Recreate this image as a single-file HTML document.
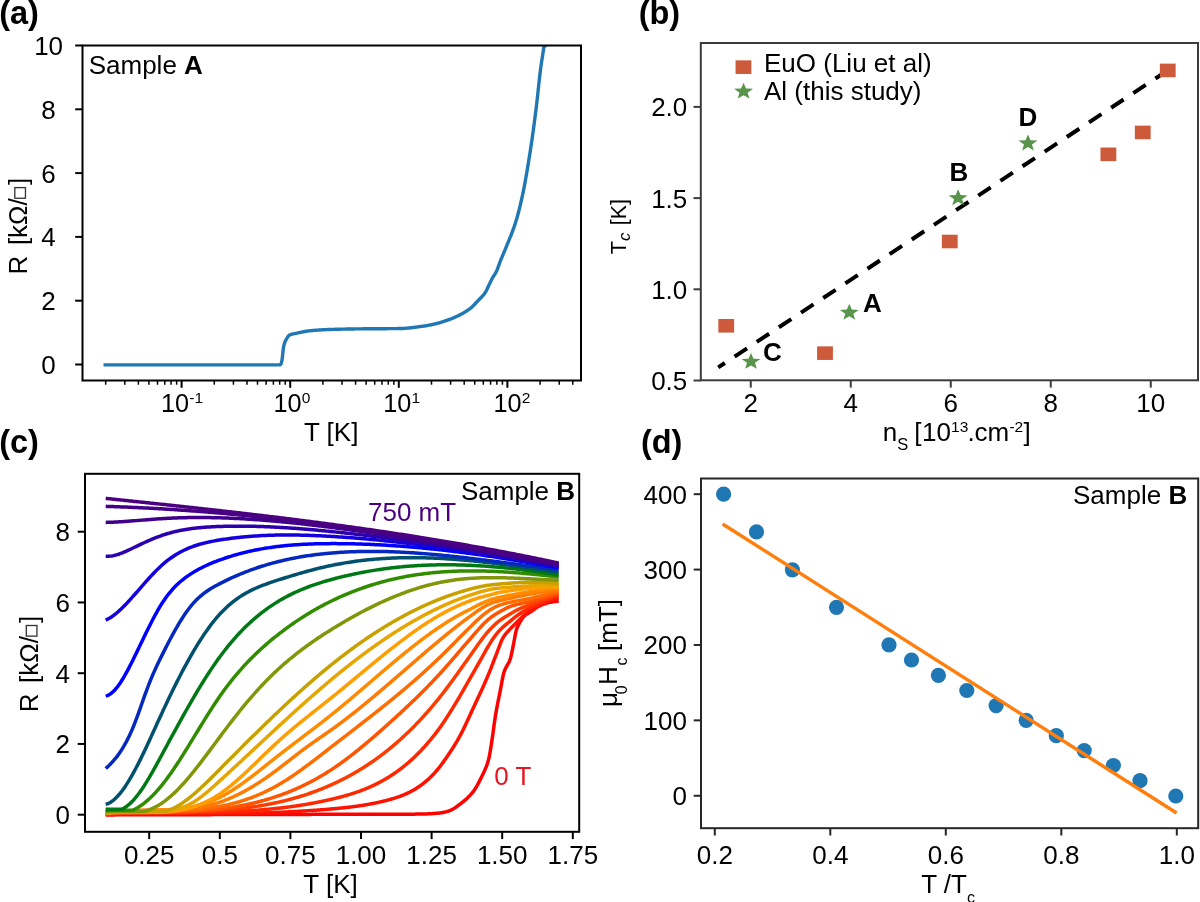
<!DOCTYPE html>
<html><head><meta charset="utf-8"><title>Figure</title>
<style>html,body{margin:0;padding:0;background:#fff;}svg{display:block;will-change:transform;}text{font-family:"Liberation Sans",sans-serif}</style>
</head><body>
<svg width="1200" height="902" viewBox="0 0 1200 902" style="font-family:&quot;Liberation Sans&quot;,sans-serif">
<rect width="1200" height="902" fill="#fff"/>
<clipPath id="ca"><rect x="82.5" y="45.5" width="498.5" height="335.0"/></clipPath>
<path d="M103.52,364.90 L104.26,364.90 L105.00,364.90 L105.74,364.90 L106.48,364.90 L107.22,364.90 L107.96,364.90 L108.70,364.90 L109.44,364.90 L110.18,364.90 L110.92,364.90 L111.66,364.90 L112.40,364.90 L113.14,364.90 L113.88,364.90 L114.62,364.90 L115.36,364.90 L116.10,364.90 L116.84,364.90 L117.58,364.90 L118.32,364.90 L119.06,364.90 L119.80,364.90 L120.54,364.90 L121.28,364.90 L122.02,364.90 L122.76,364.90 L123.50,364.90 L124.24,364.90 L124.98,364.90 L125.72,364.90 L126.46,364.90 L127.20,364.90 L127.93,364.90 L128.67,364.90 L129.41,364.90 L130.15,364.90 L130.89,364.90 L131.63,364.90 L132.37,364.90 L133.11,364.90 L133.85,364.90 L134.59,364.90 L135.33,364.90 L136.07,364.90 L136.81,364.90 L137.55,364.90 L138.29,364.90 L139.03,364.90 L139.77,364.90 L140.51,364.90 L141.25,364.90 L141.99,364.90 L142.73,364.90 L143.47,364.90 L144.21,364.90 L144.95,364.90 L145.69,364.90 L146.43,364.90 L147.17,364.90 L147.91,364.90 L148.65,364.90 L149.39,364.90 L150.13,364.90 L150.87,364.90 L151.61,364.90 L152.35,364.90 L153.09,364.90 L153.83,364.90 L154.57,364.90 L155.31,364.90 L156.05,364.90 L156.79,364.90 L157.53,364.90 L158.27,364.90 L159.01,364.90 L159.75,364.90 L160.49,364.90 L161.23,364.90 L161.97,364.90 L162.71,364.90 L163.45,364.90 L164.19,364.90 L164.93,364.90 L165.67,364.90 L166.41,364.90 L167.15,364.90 L167.89,364.90 L168.63,364.90 L169.37,364.90 L170.11,364.90 L170.85,364.90 L171.59,364.90 L172.33,364.90 L173.07,364.90 L173.80,364.90 L174.54,364.90 L175.28,364.90 L176.02,364.90 L176.76,364.90 L177.50,364.90 L178.24,364.90 L178.98,364.90 L179.72,364.90 L180.46,364.90 L181.20,364.90 L181.94,364.90 L182.68,364.90 L183.42,364.90 L184.16,364.90 L184.90,364.90 L185.64,364.90 L186.38,364.90 L187.12,364.90 L187.86,364.90 L188.60,364.90 L189.34,364.90 L190.08,364.90 L190.82,364.90 L191.56,364.90 L192.30,364.90 L193.04,364.90 L193.78,364.90 L194.52,364.90 L195.26,364.90 L196.00,364.90 L196.74,364.90 L197.48,364.90 L198.22,364.90 L198.96,364.90 L199.70,364.90 L200.44,364.90 L201.18,364.90 L201.92,364.90 L202.66,364.90 L203.40,364.90 L204.14,364.90 L204.88,364.90 L205.62,364.90 L206.36,364.90 L207.10,364.90 L207.84,364.90 L208.58,364.90 L209.32,364.90 L210.06,364.90 L210.80,364.90 L211.54,364.90 L212.28,364.90 L213.02,364.90 L213.76,364.90 L214.50,364.90 L215.24,364.90 L215.98,364.90 L216.72,364.90 L217.46,364.90 L218.20,364.90 L218.94,364.90 L219.67,364.90 L220.41,364.90 L221.15,364.90 L221.89,364.90 L222.63,364.90 L223.37,364.90 L224.11,364.90 L224.85,364.90 L225.59,364.90 L226.33,364.90 L227.07,364.90 L227.81,364.90 L228.55,364.90 L229.29,364.90 L230.03,364.90 L230.77,364.90 L231.51,364.90 L232.25,364.90 L232.99,364.90 L233.73,364.90 L234.47,364.90 L235.21,364.90 L235.95,364.90 L236.69,364.90 L237.43,364.90 L238.17,364.90 L238.91,364.90 L239.65,364.90 L240.39,364.90 L241.13,364.90 L241.87,364.90 L242.61,364.90 L243.35,364.90 L244.09,364.90 L244.83,364.90 L245.57,364.90 L246.31,364.90 L247.05,364.90 L247.79,364.90 L248.53,364.90 L249.27,364.90 L250.01,364.90 L250.75,364.90 L251.49,364.90 L252.23,364.90 L252.97,364.90 L253.71,364.90 L254.45,364.90 L255.19,364.90 L255.93,364.90 L256.67,364.90 L257.41,364.90 L258.15,364.90 L258.89,364.90 L259.63,364.90 L260.37,364.90 L261.11,364.90 L261.85,364.90 L262.59,364.90 L263.33,364.90 L264.07,364.90 L264.81,364.90 L265.54,364.90 L266.28,364.90 L267.02,364.90 L267.76,364.90 L268.50,364.90 L269.24,364.90 L269.98,364.90 L270.72,364.90 L271.46,364.90 L272.20,364.90 L272.94,364.90 L273.68,364.90 L274.42,364.90 L275.16,364.90 L275.90,364.90 L276.64,364.90 L277.38,364.90 L278.12,364.90 L278.86,364.90 L279.60,364.90 L280.34,364.67 L281.08,363.87 L281.82,361.16 L282.56,355.85 L283.30,348.53 L284.04,344.77 L284.78,342.48 L285.52,340.79 L286.26,339.38 L287.00,338.06 L287.74,336.89 L288.48,335.93 L289.22,335.22 L289.96,334.81 L290.70,334.54 L291.44,334.32 L292.18,334.15 L292.92,333.99 L293.66,333.85 L294.40,333.70 L295.14,333.54 L295.88,333.37 L296.62,333.21 L297.36,333.04 L298.10,332.87 L298.84,332.71 L299.58,332.55 L300.32,332.38 L301.06,332.23 L301.80,332.07 L302.54,331.92 L303.28,331.78 L304.02,331.64 L304.76,331.50 L305.50,331.37 L306.24,331.25 L306.98,331.14 L307.72,331.03 L308.46,330.93 L309.20,330.85 L309.94,330.77 L310.68,330.70 L311.41,330.63 L312.15,330.56 L312.89,330.49 L313.63,330.43 L314.37,330.36 L315.11,330.30 L315.85,330.24 L316.59,330.19 L317.33,330.13 L318.07,330.08 L318.81,330.03 L319.55,329.98 L320.29,329.93 L321.03,329.88 L321.77,329.84 L322.51,329.80 L323.25,329.76 L323.99,329.72 L324.73,329.68 L325.47,329.65 L326.21,329.62 L326.95,329.58 L327.69,329.56 L328.43,329.53 L329.17,329.50 L329.91,329.48 L330.65,329.45 L331.39,329.43 L332.13,329.41 L332.87,329.39 L333.61,329.36 L334.35,329.34 L335.09,329.32 L335.83,329.30 L336.57,329.28 L337.31,329.26 L338.05,329.24 L338.79,329.22 L339.53,329.21 L340.27,329.19 L341.01,329.17 L341.75,329.16 L342.49,329.14 L343.23,329.12 L343.97,329.11 L344.71,329.09 L345.45,329.08 L346.19,329.06 L346.93,329.05 L347.67,329.04 L348.41,329.02 L349.15,329.01 L349.89,329.00 L350.63,328.98 L351.37,328.97 L352.11,328.96 L352.85,328.95 L353.59,328.94 L354.33,328.93 L355.07,328.92 L355.81,328.91 L356.55,328.90 L357.28,328.89 L358.02,328.88 L358.76,328.87 L359.50,328.86 L360.24,328.85 L360.98,328.84 L361.72,328.83 L362.46,328.83 L363.20,328.82 L363.94,328.81 L364.68,328.81 L365.42,328.80 L366.16,328.79 L366.90,328.79 L367.64,328.78 L368.38,328.78 L369.12,328.77 L369.86,328.77 L370.60,328.76 L371.34,328.76 L372.08,328.76 L372.82,328.75 L373.56,328.75 L374.30,328.74 L375.04,328.74 L375.78,328.74 L376.52,328.73 L377.26,328.73 L378.00,328.73 L378.74,328.72 L379.48,328.72 L380.22,328.72 L380.96,328.71 L381.70,328.71 L382.44,328.70 L383.18,328.70 L383.92,328.70 L384.66,328.69 L385.40,328.69 L386.14,328.68 L386.88,328.68 L387.62,328.67 L388.36,328.67 L389.10,328.66 L389.84,328.66 L390.58,328.65 L391.32,328.64 L392.06,328.64 L392.80,328.63 L393.54,328.62 L394.28,328.61 L395.02,328.61 L395.76,328.60 L396.50,328.59 L397.24,328.58 L397.98,328.57 L398.72,328.56 L399.46,328.55 L400.20,328.53 L400.94,328.52 L401.68,328.50 L402.42,328.47 L403.15,328.43 L403.89,328.39 L404.63,328.34 L405.37,328.29 L406.11,328.23 L406.85,328.17 L407.59,328.10 L408.33,328.03 L409.07,327.96 L409.81,327.88 L410.55,327.80 L411.29,327.72 L412.03,327.63 L412.77,327.54 L413.51,327.45 L414.25,327.36 L414.99,327.26 L415.73,327.17 L416.47,327.07 L417.21,326.98 L417.95,326.88 L418.69,326.79 L419.43,326.69 L420.17,326.60 L420.91,326.50 L421.65,326.40 L422.39,326.29 L423.13,326.18 L423.87,326.07 L424.61,325.95 L425.35,325.83 L426.09,325.71 L426.83,325.58 L427.57,325.45 L428.31,325.31 L429.05,325.18 L429.79,325.03 L430.53,324.89 L431.27,324.74 L432.01,324.58 L432.75,324.43 L433.49,324.27 L434.23,324.11 L434.97,323.94 L435.71,323.76 L436.45,323.58 L437.19,323.39 L437.93,323.19 L438.67,322.99 L439.41,322.78 L440.15,322.57 L440.89,322.35 L441.63,322.12 L442.37,321.89 L443.11,321.65 L443.85,321.41 L444.59,321.17 L445.33,320.92 L446.07,320.66 L446.81,320.41 L447.55,320.15 L448.29,319.88 L449.02,319.62 L449.76,319.35 L450.50,319.07 L451.24,318.78 L451.98,318.49 L452.72,318.18 L453.46,317.87 L454.20,317.56 L454.94,317.23 L455.68,316.90 L456.42,316.56 L457.16,316.21 L457.90,315.86 L458.64,315.49 L459.38,315.12 L460.12,314.74 L460.86,314.35 L461.60,313.96 L462.34,313.55 L463.08,313.14 L463.82,312.71 L464.56,312.28 L465.30,311.82 L466.04,311.36 L466.78,310.88 L467.52,310.39 L468.26,309.88 L469.00,309.35 L469.74,308.80 L470.48,308.24 L471.22,307.64 L471.96,306.99 L472.70,306.30 L473.44,305.58 L474.18,304.82 L474.92,304.05 L475.66,303.26 L476.40,302.45 L477.14,301.64 L477.88,300.84 L478.62,300.04 L479.36,299.25 L480.10,298.50 L480.84,297.76 L481.58,297.03 L482.32,296.26 L483.06,295.46 L483.80,294.58 L484.54,293.62 L485.28,292.53 L486.02,291.23 L486.76,289.75 L487.50,288.17 L488.24,286.56 L488.98,284.99 L489.72,283.47 L490.46,281.92 L491.20,280.38 L491.94,278.92 L492.68,277.60 L493.42,276.41 L494.16,275.28 L494.89,274.13 L495.63,272.89 L496.37,271.49 L497.11,269.82 L497.85,267.91 L498.59,265.85 L499.33,263.77 L500.07,261.77 L500.81,259.91 L501.55,258.11 L502.29,256.35 L503.03,254.60 L503.77,252.87 L504.51,251.13 L505.25,249.36 L505.99,247.56 L506.73,245.72 L507.47,243.89 L508.21,242.08 L508.95,240.28 L509.69,238.47 L510.43,236.64 L511.17,234.79 L511.91,232.89 L512.65,230.93 L513.39,228.91 L514.13,226.82 L514.87,224.63 L515.61,222.35 L516.35,219.94 L517.09,217.41 L517.83,214.76 L518.57,211.98 L519.31,209.08 L520.05,206.07 L520.79,202.94 L521.53,199.71 L522.27,196.37 L523.01,192.88 L523.75,189.22 L524.49,185.38 L525.23,181.39 L525.97,177.26 L526.71,173.00 L527.45,168.62 L528.19,164.15 L528.93,159.59 L529.67,154.95 L530.41,150.19 L531.15,145.28 L531.89,140.22 L532.63,135.01 L533.37,129.67 L534.11,124.18 L534.85,118.56 L535.59,112.81 L536.33,106.87 L537.07,100.42 L537.81,93.61 L538.55,86.69 L539.29,79.90 L540.03,73.47 L540.76,67.66 L541.50,62.58 L542.24,57.87 L542.98,53.11 L543.72,47.89 L544.46,45.50 L545.20,45.50 L545.94,45.50 L546.68,45.50" fill="none" stroke="#1f77b4" stroke-width="3.4" stroke-linejoin="round" stroke-linecap="butt" clip-path="url(#ca)"/>
<rect x="82.50" y="45.50" width="498.50" height="335.00" fill="none" stroke="#000" stroke-width="2.0"/>
<line x1="75.20" y1="364.50" x2="82.50" y2="364.50" stroke="#000" stroke-width="2.0" />
<text x="48.60" y="373.90" font-size="26" text-anchor="middle" >0</text>
<line x1="75.20" y1="300.70" x2="82.50" y2="300.70" stroke="#000" stroke-width="2.0" />
<text x="48.60" y="310.10" font-size="26" text-anchor="middle" >2</text>
<line x1="75.20" y1="236.90" x2="82.50" y2="236.90" stroke="#000" stroke-width="2.0" />
<text x="48.60" y="246.30" font-size="26" text-anchor="middle" >4</text>
<line x1="75.20" y1="173.10" x2="82.50" y2="173.10" stroke="#000" stroke-width="2.0" />
<text x="48.60" y="182.50" font-size="26" text-anchor="middle" >6</text>
<line x1="75.20" y1="109.30" x2="82.50" y2="109.30" stroke="#000" stroke-width="2.0" />
<text x="48.60" y="118.70" font-size="26" text-anchor="middle" >8</text>
<line x1="75.20" y1="45.50" x2="82.50" y2="45.50" stroke="#000" stroke-width="2.0" />
<text x="48.60" y="54.90" font-size="26" text-anchor="middle" >10</text>
<line x1="181.60" y1="380.50" x2="181.60" y2="387.80" stroke="#000" stroke-width="2.0" />
<line x1="290.20" y1="380.50" x2="290.20" y2="387.80" stroke="#000" stroke-width="2.0" />
<line x1="398.80" y1="380.50" x2="398.80" y2="387.80" stroke="#000" stroke-width="2.0" />
<line x1="507.40" y1="380.50" x2="507.40" y2="387.80" stroke="#000" stroke-width="2.0" />
<line x1="105.69" y1="380.50" x2="105.69" y2="384.70" stroke="#000" stroke-width="1.5" />
<line x1="124.82" y1="380.50" x2="124.82" y2="384.70" stroke="#000" stroke-width="1.5" />
<line x1="138.38" y1="380.50" x2="138.38" y2="384.70" stroke="#000" stroke-width="1.5" />
<line x1="148.91" y1="380.50" x2="148.91" y2="384.70" stroke="#000" stroke-width="1.5" />
<line x1="157.51" y1="380.50" x2="157.51" y2="384.70" stroke="#000" stroke-width="1.5" />
<line x1="164.78" y1="380.50" x2="164.78" y2="384.70" stroke="#000" stroke-width="1.5" />
<line x1="171.08" y1="380.50" x2="171.08" y2="384.70" stroke="#000" stroke-width="1.5" />
<line x1="176.63" y1="380.50" x2="176.63" y2="384.70" stroke="#000" stroke-width="1.5" />
<line x1="214.29" y1="380.50" x2="214.29" y2="384.70" stroke="#000" stroke-width="1.5" />
<line x1="233.42" y1="380.50" x2="233.42" y2="384.70" stroke="#000" stroke-width="1.5" />
<line x1="246.98" y1="380.50" x2="246.98" y2="384.70" stroke="#000" stroke-width="1.5" />
<line x1="257.51" y1="380.50" x2="257.51" y2="384.70" stroke="#000" stroke-width="1.5" />
<line x1="266.11" y1="380.50" x2="266.11" y2="384.70" stroke="#000" stroke-width="1.5" />
<line x1="273.38" y1="380.50" x2="273.38" y2="384.70" stroke="#000" stroke-width="1.5" />
<line x1="279.68" y1="380.50" x2="279.68" y2="384.70" stroke="#000" stroke-width="1.5" />
<line x1="285.23" y1="380.50" x2="285.23" y2="384.70" stroke="#000" stroke-width="1.5" />
<line x1="322.89" y1="380.50" x2="322.89" y2="384.70" stroke="#000" stroke-width="1.5" />
<line x1="342.02" y1="380.50" x2="342.02" y2="384.70" stroke="#000" stroke-width="1.5" />
<line x1="355.58" y1="380.50" x2="355.58" y2="384.70" stroke="#000" stroke-width="1.5" />
<line x1="366.11" y1="380.50" x2="366.11" y2="384.70" stroke="#000" stroke-width="1.5" />
<line x1="374.71" y1="380.50" x2="374.71" y2="384.70" stroke="#000" stroke-width="1.5" />
<line x1="381.98" y1="380.50" x2="381.98" y2="384.70" stroke="#000" stroke-width="1.5" />
<line x1="388.28" y1="380.50" x2="388.28" y2="384.70" stroke="#000" stroke-width="1.5" />
<line x1="393.83" y1="380.50" x2="393.83" y2="384.70" stroke="#000" stroke-width="1.5" />
<line x1="431.49" y1="380.50" x2="431.49" y2="384.70" stroke="#000" stroke-width="1.5" />
<line x1="450.62" y1="380.50" x2="450.62" y2="384.70" stroke="#000" stroke-width="1.5" />
<line x1="464.18" y1="380.50" x2="464.18" y2="384.70" stroke="#000" stroke-width="1.5" />
<line x1="474.71" y1="380.50" x2="474.71" y2="384.70" stroke="#000" stroke-width="1.5" />
<line x1="483.31" y1="380.50" x2="483.31" y2="384.70" stroke="#000" stroke-width="1.5" />
<line x1="490.58" y1="380.50" x2="490.58" y2="384.70" stroke="#000" stroke-width="1.5" />
<line x1="496.88" y1="380.50" x2="496.88" y2="384.70" stroke="#000" stroke-width="1.5" />
<line x1="502.43" y1="380.50" x2="502.43" y2="384.70" stroke="#000" stroke-width="1.5" />
<line x1="540.09" y1="380.50" x2="540.09" y2="384.70" stroke="#000" stroke-width="1.5" />
<line x1="559.22" y1="380.50" x2="559.22" y2="384.70" stroke="#000" stroke-width="1.5" />
<line x1="572.78" y1="380.50" x2="572.78" y2="384.70" stroke="#000" stroke-width="1.5" />
<text x="161.06" y="411.6" font-size="26" textLength="28.08" lengthAdjust="spacingAndGlyphs">10</text>
<text x="189.30" y="403.00" font-size="15.5" >-1</text>
<text x="273.46" y="411.6" font-size="26" textLength="28.08" lengthAdjust="spacingAndGlyphs">10</text>
<text x="301.63" y="403.00" font-size="15.5" >0</text>
<text x="383.26" y="411.6" font-size="26" textLength="28.08" lengthAdjust="spacingAndGlyphs">10</text>
<text x="411.51" y="403.00" font-size="15.5" >1</text>
<text x="493.46" y="411.6" font-size="26" textLength="28.08" lengthAdjust="spacingAndGlyphs">10</text>
<text x="521.80" y="403.00" font-size="15.5" >2</text>
<text x="331.20" y="440.80" font-size="26" text-anchor="middle" >T [K]</text>
<text x="88.70" y="74.20" font-size="26" >Sample <tspan font-weight="bold">A</tspan></text>
<text x="-0.80" y="24.20" font-size="32.5" font-weight="bold" >(a)</text>
<text x="0" y="0" font-size="26" transform="translate(26.60,274.40) rotate(-90)" >R</text>
<text x="0" y="0" font-size="26" transform="translate(26.60,245.10) rotate(-90)" >[kΩ/</text>
<rect x="14.80" y="187.60" width="10.65" height="10.65" fill="none" stroke="#333" stroke-width="1.3"/>
<text x="0" y="0" font-size="26" transform="translate(26.60,185.00) rotate(-90)" >]</text>
<rect x="700.80" y="43.00" width="497.20" height="337.30" fill="none" stroke="#3c3c3c" stroke-width="2.0"/>
<line x1="750.75" y1="380.30" x2="750.75" y2="387.60" stroke="#3c3c3c" stroke-width="2.0" />
<text x="750.75" y="411.70" font-size="26" text-anchor="middle" >2</text>
<line x1="850.75" y1="380.30" x2="850.75" y2="387.60" stroke="#3c3c3c" stroke-width="2.0" />
<text x="850.75" y="411.70" font-size="26" text-anchor="middle" >4</text>
<line x1="950.75" y1="380.30" x2="950.75" y2="387.60" stroke="#3c3c3c" stroke-width="2.0" />
<text x="950.75" y="411.70" font-size="26" text-anchor="middle" >6</text>
<line x1="1050.75" y1="380.30" x2="1050.75" y2="387.60" stroke="#3c3c3c" stroke-width="2.0" />
<text x="1050.75" y="411.70" font-size="26" text-anchor="middle" >8</text>
<line x1="1150.75" y1="380.30" x2="1150.75" y2="387.60" stroke="#3c3c3c" stroke-width="2.0" />
<text x="1150.75" y="411.70" font-size="26" text-anchor="middle" >10</text>
<line x1="693.50" y1="380.50" x2="700.80" y2="380.50" stroke="#3c3c3c" stroke-width="2.0" />
<text x="687.30" y="389.90" font-size="26" text-anchor="end" >0.5</text>
<line x1="693.50" y1="289.30" x2="700.80" y2="289.30" stroke="#3c3c3c" stroke-width="2.0" />
<text x="687.30" y="298.70" font-size="26" text-anchor="end" >1.0</text>
<line x1="693.50" y1="198.10" x2="700.80" y2="198.10" stroke="#3c3c3c" stroke-width="2.0" />
<text x="687.30" y="207.50" font-size="26" text-anchor="end" >1.5</text>
<line x1="693.50" y1="106.90" x2="700.80" y2="106.90" stroke="#3c3c3c" stroke-width="2.0" />
<text x="687.30" y="116.30" font-size="26" text-anchor="end" >2.0</text>
<line x1="718.20" y1="367.40" x2="1167.80" y2="70.30" stroke="#000" stroke-width="4.0" stroke-dasharray="14.9 11.65" stroke-dashoffset="6.9"/>
<rect x="718.35" y="318.99" width="15.80" height="13.59" fill="#cd5a3a"/>
<rect x="817.10" y="346.35" width="15.80" height="13.59" fill="#cd5a3a"/>
<rect x="941.85" y="234.72" width="15.80" height="13.59" fill="#cd5a3a"/>
<rect x="1100.50" y="147.53" width="15.80" height="13.59" fill="#cd5a3a"/>
<rect x="1134.85" y="125.64" width="15.80" height="13.59" fill="#cd5a3a"/>
<rect x="1159.85" y="63.63" width="15.80" height="13.59" fill="#cd5a3a"/>
<path d="M751.00,352.90 L753.47,358.71 L760.51,358.98 L754.99,362.84 L756.88,368.82 L751.00,365.40 L745.12,368.82 L747.01,362.84 L741.49,358.98 L748.53,358.71 Z" fill="#589449"/>
<path d="M849.30,303.80 L851.77,309.61 L858.81,309.88 L853.29,313.74 L855.18,319.72 L849.30,316.30 L843.42,319.72 L845.31,313.74 L839.79,309.88 L846.83,309.61 Z" fill="#589449"/>
<path d="M958.10,189.30 L960.57,195.11 L967.61,195.38 L962.09,199.24 L963.98,205.22 L958.10,201.80 L952.22,205.22 L954.11,199.24 L948.59,195.38 L955.63,195.11 Z" fill="#589449"/>
<path d="M1027.96,134.50 L1030.43,140.31 L1037.47,140.58 L1031.95,144.44 L1033.84,150.42 L1027.96,147.00 L1022.08,150.42 L1023.97,144.44 L1018.45,140.58 L1025.49,140.31 Z" fill="#589449"/>
<text x="763.00" y="361.30" font-size="26" font-weight="bold" >C</text>
<text x="862.90" y="311.60" font-size="26" font-weight="bold" >A</text>
<text x="959.00" y="181.30" font-size="26" text-anchor="middle" font-weight="bold" >B</text>
<text x="1028.00" y="125.60" font-size="26" text-anchor="middle" font-weight="bold" >D</text>
<rect x="735.55" y="60.36" width="15.80" height="13.59" fill="#cd5a3a"/>
<path d="M743.55,82.70 L746.02,88.51 L753.06,88.78 L747.54,92.64 L749.43,98.62 L743.55,95.20 L737.67,98.62 L739.56,92.64 L734.04,88.78 L741.08,88.51 Z" fill="#589449"/>
<text x="764.00" y="72.30" font-size="26" >EuO (Liu et al)</text>
<text x="764.00" y="100.40" font-size="26" >Al (this study)</text>
<text x="882.80" y="440.90" font-size="26" >n</text>
<text x="897.20" y="450.00" font-size="16.5" >S</text>
<text x="914.30" y="440.90" font-size="26" >[</text>
<text x="922.10" y="440.90" font-size="26" >10</text>
<text x="951.10" y="432.40" font-size="15.5" >13</text>
<text x="967.40" y="440.90" font-size="26" >.cm</text>
<text x="1009.40" y="432.40" font-size="15.5" >-2</text>
<text x="1023.40" y="440.90" font-size="26" >]</text>
<g transform="translate(626.0,255.0) rotate(-90)"><text x="0.8" y="0" font-size="21.5">T</text><text x="14.0" y="3.8" font-size="17" font-style="italic">c</text><text x="29.7" y="0" font-size="21.5">[K]</text></g>
<text x="638.70" y="24.20" font-size="32.5" font-weight="bold" >(b)</text>
<clipPath id="cc"><rect x="85.0" y="473.8" width="494.2" height="358.0"/></clipPath>
<g clip-path="url(#cc)">
<path d="M105.70,814.90 L107.26,814.90 L107.99,814.89 L108.84,814.89 L109.76,814.89 L110.72,814.89 L111.71,814.88 L112.71,814.88 L113.70,814.88 L114.71,814.88 L115.71,814.87 L116.71,814.87 L117.71,814.87 L118.71,814.87 L119.71,814.86 L120.71,814.86 L121.71,814.86 L122.71,814.86 L123.71,814.85 L124.71,814.85 L125.71,814.85 L126.71,814.85 L127.71,814.84 L128.71,814.84 L129.71,814.84 L130.71,814.83 L131.71,814.83 L132.72,814.83 L133.72,814.83 L134.72,814.82 L135.72,814.82 L136.72,814.82 L137.72,814.82 L138.72,814.81 L139.72,814.81 L140.72,814.81 L141.72,814.81 L142.72,814.80 L143.72,814.80 L144.72,814.80 L145.72,814.80 L146.72,814.79 L147.72,814.79 L148.72,814.79 L149.72,814.79 L150.73,814.78 L151.73,814.78 L152.73,814.78 L153.73,814.77 L154.73,814.77 L155.73,814.77 L156.73,814.77 L157.73,814.76 L158.73,814.76 L159.73,814.76 L160.73,814.76 L161.73,814.75 L162.73,814.75 L163.73,814.75 L164.73,814.75 L165.73,814.74 L166.73,814.74 L167.73,814.74 L168.74,814.74 L169.74,814.73 L170.74,814.73 L171.74,814.73 L172.74,814.73 L173.74,814.72 L174.74,814.72 L175.74,814.72 L176.74,814.72 L177.74,814.71 L178.74,814.71 L179.74,814.71 L180.74,814.70 L181.74,814.70 L182.74,814.70 L183.74,814.70 L184.74,814.69 L185.74,814.69 L186.75,814.69 L187.75,814.69 L188.75,814.68 L189.75,814.68 L190.75,814.68 L191.75,814.68 L192.75,814.67 L193.75,814.67 L194.75,814.67 L195.75,814.67 L196.75,814.66 L197.75,814.66 L198.75,814.66 L199.75,814.66 L200.75,814.65 L201.75,814.65 L202.75,814.65 L203.75,814.65 L204.76,814.64 L205.76,814.64 L206.76,814.64 L207.76,814.64 L208.76,814.63 L209.76,814.63 L210.76,814.63 L211.76,814.63 L212.76,814.62 L213.76,814.62 L214.76,814.62 L215.76,814.61 L216.76,814.61 L217.76,814.61 L218.76,814.61 L219.76,814.60 L220.76,814.60 L221.77,814.60 L222.77,814.60 L223.77,814.59 L224.77,814.59 L225.77,814.59 L226.77,814.59 L227.77,814.58 L228.77,814.58 L229.77,814.58 L230.77,814.58 L231.77,814.57 L232.77,814.57 L233.77,814.57 L234.77,814.57 L235.77,814.56 L236.77,814.56 L237.77,814.56 L238.77,814.56 L239.78,814.55 L240.78,814.55 L241.78,814.55 L242.78,814.55 L243.78,814.54 L244.78,814.54 L245.78,814.54 L246.78,814.54 L247.78,814.53 L248.78,814.53 L249.78,814.53 L250.78,814.53 L251.78,814.52 L252.78,814.52 L253.78,814.52 L254.78,814.51 L255.78,814.51 L256.78,814.51 L257.79,814.51 L258.79,814.50 L259.79,814.50 L260.79,814.50 L261.79,814.50 L262.79,814.49 L263.79,814.49 L264.79,814.49 L265.79,814.49 L266.79,814.48 L267.79,814.48 L268.79,814.48 L269.79,814.48 L270.79,814.47 L271.79,814.47 L272.79,814.47 L273.79,814.47 L274.79,814.46 L275.80,814.46 L276.80,814.46 L277.80,814.46 L278.80,814.45 L279.80,814.45 L280.80,814.45 L281.80,814.45 L282.80,814.44 L283.80,814.44 L284.80,814.44 L285.80,814.44 L286.80,814.43 L287.80,814.43 L288.80,814.43 L289.80,814.43 L290.80,814.42 L291.80,814.42 L292.80,814.42 L293.81,814.42 L294.81,814.41 L295.81,814.41 L296.81,814.41 L297.81,814.41 L298.81,814.40 L299.81,814.40 L300.81,814.40 L301.81,814.40 L302.81,814.39 L303.81,814.39 L304.81,814.39 L305.81,814.39 L306.81,814.38 L307.81,814.38 L308.81,814.38 L309.81,814.38 L310.81,814.38 L311.82,814.37 L312.82,814.37 L313.82,814.37 L314.82,814.37 L315.82,814.37 L316.82,814.36 L317.82,814.36 L318.82,814.36 L319.82,814.36 L320.82,814.36 L321.82,814.36 L322.82,814.36 L323.82,814.35 L324.82,814.35 L325.82,814.35 L326.82,814.35 L327.82,814.35 L328.83,814.35 L329.83,814.35 L330.83,814.34 L331.83,814.34 L332.83,814.34 L333.83,814.34 L334.83,814.34 L335.83,814.34 L336.83,814.34 L337.83,814.33 L338.83,814.33 L339.83,814.33 L340.83,814.33 L341.83,814.33 L342.83,814.33 L343.83,814.33 L344.83,814.33 L345.83,814.32 L346.84,814.32 L347.84,814.32 L348.84,814.32 L349.84,814.32 L350.84,814.32 L351.84,814.32 L352.84,814.31 L353.84,814.31 L354.84,814.31 L355.84,814.31 L356.84,814.31 L357.84,814.31 L358.84,814.31 L359.84,814.30 L360.84,814.30 L361.84,814.30 L362.84,814.30 L363.84,814.30 L364.85,814.30 L365.85,814.29 L366.85,814.29 L367.85,814.29 L368.85,814.29 L369.85,814.29 L370.85,814.28 L371.85,814.28 L372.85,814.28 L373.85,814.28 L374.85,814.28 L375.85,814.27 L376.85,814.27 L377.85,814.27 L378.85,814.27 L379.85,814.26 L380.85,814.26 L381.85,814.26 L382.86,814.26 L383.86,814.25 L384.86,814.25 L385.86,814.25 L386.86,814.25 L387.86,814.24 L388.86,814.24 L389.86,814.24 L390.86,814.23 L391.86,814.23 L392.86,814.23 L393.86,814.22 L394.86,814.22 L395.86,814.22 L396.86,814.21 L397.86,814.21 L398.86,814.20 L399.86,814.20 L400.87,814.20 L401.87,814.19 L402.87,814.19 L403.87,814.18 L404.87,814.18 L405.87,814.17 L406.87,814.17 L407.87,814.17 L408.87,814.16 L409.87,814.16 L410.87,814.15 L411.87,814.15 L412.87,814.14 L413.87,814.13 L414.87,814.13 L415.87,814.12 L416.87,814.12 L417.87,814.11 L418.88,814.10 L419.88,814.09 L420.88,814.08 L421.88,814.06 L422.88,814.04 L423.88,814.02 L424.88,813.99 L425.88,813.95 L426.88,813.91 L427.88,813.87 L428.88,813.82 L429.87,813.77 L430.87,813.71 L431.87,813.65 L432.87,813.58 L433.87,813.51 L434.87,813.43 L435.86,813.35 L436.86,813.27 L437.86,813.18 L438.85,813.08 L439.84,812.97 L440.84,812.84 L441.82,812.69 L442.81,812.52 L443.79,812.33 L444.76,812.12 L445.73,811.88 L446.70,811.62 L447.65,811.33 L448.60,811.02 L449.54,810.67 L450.46,810.30 L451.36,809.88 L452.25,809.43 L453.12,808.95 L453.98,808.44 L454.82,807.90 L455.65,807.35 L456.47,806.78 L457.28,806.19 L458.09,805.60 L458.89,805.00 L459.68,804.39 L460.48,803.78 L461.27,803.17 L462.05,802.55 L462.84,801.93 L463.61,801.30 L464.38,800.66 L465.15,800.01 L465.90,799.36 L466.65,798.69 L467.38,798.01 L468.10,797.32 L468.81,796.62 L469.51,795.90 L470.20,795.18 L470.87,794.44 L471.53,793.68 L472.17,792.92 L472.79,792.14 L473.40,791.35 L473.99,790.54 L474.56,789.72 L475.11,788.88 L475.65,788.04 L476.17,787.19 L476.67,786.32 L477.17,785.46 L477.65,784.58 L478.13,783.70 L478.60,782.82 L479.06,781.93 L479.51,781.04 L479.96,780.14 L480.41,779.25 L480.85,778.35 L481.29,777.45 L481.73,776.56 L482.17,775.66 L482.61,774.76 L483.05,773.86 L483.48,772.96 L483.91,772.05 L484.34,771.15 L484.75,770.24 L485.16,769.32 L485.55,768.40 L485.93,767.48 L486.30,766.55 L486.65,765.61 L486.99,764.67 L487.32,763.73 L487.63,762.78 L487.92,761.82 L488.20,760.86 L488.47,759.90 L488.71,758.93 L488.95,757.96 L489.16,756.98 L489.37,756.00 L489.56,755.02 L489.74,754.04 L489.92,753.05 L490.09,752.07 L490.26,751.08 L490.42,750.09 L490.58,749.11 L490.74,748.12 L490.89,747.13 L491.05,746.14 L491.20,745.15 L491.35,744.16 L491.51,743.17 L491.66,742.19 L491.81,741.20 L491.96,740.21 L492.11,739.22 L492.26,738.23 L492.41,737.24 L492.55,736.25 L492.69,735.26 L492.83,734.27 L492.97,733.28 L493.11,732.29 L493.24,731.29 L493.38,730.30 L493.51,729.31 L493.64,728.32 L493.78,727.33 L493.91,726.34 L494.04,725.34 L494.18,724.35 L494.31,723.36 L494.45,722.37 L494.59,721.38 L494.73,720.39 L494.88,719.40 L495.02,718.41 L495.18,717.42 L495.33,716.43 L495.49,715.44 L495.65,714.46 L495.82,713.47 L495.99,712.48 L496.16,711.50 L496.34,710.51 L496.52,709.53 L496.70,708.55 L496.89,707.56 L497.07,706.58 L497.26,705.60 L497.45,704.62 L497.65,703.63 L497.84,702.65 L498.04,701.67 L498.24,700.69 L498.44,699.71 L498.64,698.73 L498.83,697.75 L499.03,696.77 L499.23,695.79 L499.43,694.81 L499.63,693.83 L499.82,692.85 L500.02,691.86 L500.21,690.88 L500.40,689.90 L500.58,688.92 L500.76,687.93 L500.94,686.95 L501.12,685.96 L501.30,684.98 L501.48,683.99 L501.66,683.01 L501.84,682.03 L502.02,681.04 L502.21,680.06 L502.40,679.08 L502.59,678.10 L502.80,677.12 L503.01,676.14 L503.23,675.16 L503.47,674.19 L503.72,673.23 L504.01,672.27 L504.32,671.32 L504.66,670.39 L505.04,669.47 L505.46,668.57 L505.91,667.68 L506.39,666.80 L506.88,665.94 L507.39,665.07 L507.88,664.21 L508.36,663.33 L508.82,662.45 L509.24,661.54 L509.62,660.63 L509.98,659.69 L510.29,658.75 L510.58,657.79 L510.84,656.83 L511.09,655.86 L511.32,654.89 L511.54,653.91 L511.75,652.94 L511.95,651.96 L512.15,650.98 L512.35,650.00 L512.55,649.01 L512.74,648.03 L512.94,647.05 L513.14,646.07 L513.33,645.09 L513.53,644.11 L513.72,643.13 L513.91,642.14 L514.09,641.16 L514.27,640.18 L514.45,639.19 L514.63,638.21 L514.81,637.22 L514.99,636.24 L515.17,635.26 L515.36,634.27 L515.56,633.29 L515.77,632.32 L516.00,631.34 L516.25,630.38 L516.54,629.43 L516.86,628.48 L517.21,627.55 L517.60,626.64 L518.02,625.73 L518.47,624.84 L518.94,623.96 L519.43,623.08 L519.92,622.21 L520.42,621.35 L520.93,620.49 L521.45,619.64 L521.99,618.80 L522.56,617.99 L523.17,617.21 L523.82,616.48 L524.53,615.80 L525.29,615.18 L526.09,614.61 L526.92,614.07 L527.78,613.56 L528.64,613.06 L529.49,612.55 L530.34,612.02 L531.17,611.48 L532.00,610.91 L532.81,610.32 L533.61,609.73 L534.41,609.13 L535.21,608.53 L536.02,607.94 L536.84,607.37 L537.67,606.83 L538.52,606.32 L539.40,605.85 L540.29,605.42 L541.21,605.02 L542.14,604.66 L543.08,604.32 L544.02,604.01 L544.98,603.71 L545.93,603.42 L546.90,603.15 L547.86,602.88 L548.83,602.64 L549.80,602.40 L550.78,602.19 L551.76,601.99 L552.73,601.82 L553.71,601.66 L554.66,601.53 L555.58,601.43 L556.42,601.35 L557.14,601.29 L558.70,601.25" fill="none" stroke="rgb(255,0,0)" stroke-width="3.5" stroke-linejoin="round" stroke-linecap="butt" />
<path d="M105.70,814.01 L106.46,814.00 L107.21,814.00 L107.97,813.99 L108.73,813.98 L109.48,813.98 L110.24,813.97 L110.99,813.96 L111.75,813.96 L112.51,813.95 L113.26,813.94 L114.02,813.94 L114.78,813.93 L115.53,813.93 L116.29,813.92 L117.04,813.92 L117.80,813.91 L118.56,813.91 L119.31,813.90 L120.07,813.90 L120.83,813.89 L121.58,813.89 L122.34,813.89 L123.09,813.88 L123.85,813.88 L124.61,813.88 L125.36,813.87 L126.12,813.87 L126.88,813.87 L127.63,813.86 L128.39,813.86 L129.14,813.86 L129.90,813.86 L130.66,813.85 L131.41,813.85 L132.17,813.85 L132.93,813.85 L133.68,813.85 L134.44,813.84 L135.19,813.84 L135.95,813.84 L136.71,813.84 L137.46,813.84 L138.22,813.84 L138.98,813.84 L139.73,813.83 L140.49,813.83 L141.24,813.83 L142.00,813.83 L142.76,813.83 L143.51,813.83 L144.27,813.83 L145.03,813.83 L145.78,813.83 L146.54,813.83 L147.29,813.83 L148.05,813.83 L148.81,813.83 L149.56,813.83 L150.32,813.83 L151.08,813.83 L151.83,813.83 L152.59,813.83 L153.34,813.83 L154.10,813.83 L154.86,813.83 L155.61,813.83 L156.37,813.83 L157.13,813.83 L157.88,813.83 L158.64,813.83 L159.39,813.83 L160.15,813.83 L160.91,813.83 L161.66,813.83 L162.42,813.83 L163.18,813.83 L163.93,813.83 L164.69,813.83 L165.44,813.83 L166.20,813.83 L166.96,813.83 L167.71,813.83 L168.47,813.83 L169.23,813.83 L169.98,813.83 L170.74,813.83 L171.49,813.83 L172.25,813.83 L173.01,813.83 L173.76,813.83 L174.52,813.83 L175.28,813.83 L176.03,813.83 L176.79,813.83 L177.54,813.83 L178.30,813.83 L179.06,813.83 L179.81,813.83 L180.57,813.83 L181.33,813.83 L182.08,813.83 L182.84,813.83 L183.59,813.83 L184.35,813.83 L185.11,813.83 L185.86,813.83 L186.62,813.83 L187.38,813.83 L188.13,813.83 L188.89,813.83 L189.64,813.83 L190.40,813.83 L191.16,813.83 L191.91,813.82 L192.67,813.82 L193.43,813.82 L194.18,813.82 L194.94,813.82 L195.69,813.82 L196.45,813.81 L197.21,813.81 L197.96,813.81 L198.72,813.81 L199.48,813.80 L200.23,813.80 L200.99,813.80 L201.75,813.80 L202.50,813.79 L203.26,813.79 L204.01,813.79 L204.77,813.78 L205.53,813.78 L206.28,813.78 L207.04,813.77 L207.80,813.77 L208.55,813.76 L209.31,813.76 L210.06,813.75 L210.82,813.75 L211.58,813.74 L212.33,813.74 L213.09,813.73 L213.85,813.73 L214.60,813.72 L215.36,813.72 L216.11,813.71 L216.87,813.70 L217.63,813.70 L218.38,813.69 L219.14,813.68 L219.90,813.68 L220.65,813.67 L221.41,813.66 L222.16,813.66 L222.92,813.65 L223.68,813.64 L224.43,813.63 L225.19,813.62 L225.95,813.61 L226.70,813.61 L227.46,813.60 L228.21,813.59 L228.97,813.58 L229.73,813.57 L230.48,813.56 L231.24,813.55 L232.00,813.54 L232.75,813.53 L233.51,813.51 L234.26,813.50 L235.02,813.49 L235.78,813.48 L236.53,813.47 L237.29,813.45 L238.05,813.44 L238.80,813.43 L239.56,813.42 L240.31,813.40 L241.07,813.39 L241.83,813.38 L242.58,813.36 L243.34,813.35 L244.10,813.33 L244.85,813.32 L245.61,813.30 L246.36,813.28 L247.12,813.27 L247.88,813.25 L248.63,813.24 L249.39,813.22 L250.15,813.20 L250.90,813.18 L251.66,813.17 L252.41,813.15 L253.17,813.13 L253.93,813.11 L254.68,813.09 L255.44,813.07 L256.20,813.05 L256.95,813.03 L257.71,813.01 L258.46,812.99 L259.22,812.97 L259.98,812.95 L260.73,812.93 L261.49,812.90 L262.25,812.88 L263.00,812.86 L263.76,812.83 L264.51,812.81 L265.27,812.79 L266.03,812.76 L266.78,812.74 L267.54,812.71 L268.30,812.69 L269.05,812.66 L269.81,812.63 L270.56,812.61 L271.32,812.58 L272.08,812.55 L272.83,812.53 L273.59,812.50 L274.35,812.47 L275.10,812.44 L275.86,812.41 L276.61,812.38 L277.37,812.35 L278.13,812.32 L278.88,812.29 L279.64,812.26 L280.40,812.22 L281.15,812.19 L281.91,812.16 L282.66,812.13 L283.42,812.09 L284.18,812.06 L284.93,812.02 L285.69,811.99 L286.45,811.95 L287.20,811.92 L287.96,811.88 L288.72,811.84 L289.47,811.81 L290.23,811.77 L290.98,811.73 L291.74,811.69 L292.50,811.65 L293.25,811.61 L294.01,811.57 L294.77,811.53 L295.52,811.49 L296.28,811.45 L297.03,811.41 L297.79,811.37 L298.55,811.32 L299.30,811.28 L300.06,811.24 L300.82,811.19 L301.57,811.15 L302.33,811.10 L303.08,811.06 L303.84,811.01 L304.60,810.96 L305.35,810.92 L306.11,810.87 L306.87,810.82 L307.62,810.77 L308.38,810.72 L309.13,810.67 L309.89,810.62 L310.65,810.57 L311.40,810.52 L312.16,810.47 L312.92,810.41 L313.67,810.36 L314.43,810.31 L315.18,810.25 L315.94,810.20 L316.70,810.14 L317.45,810.09 L318.21,810.03 L318.97,809.97 L319.72,809.92 L320.48,809.86 L321.23,809.80 L321.99,809.74 L322.75,809.68 L323.50,809.62 L324.26,809.56 L325.02,809.50 L325.77,809.43 L326.53,809.37 L327.28,809.31 L328.04,809.24 L328.80,809.18 L329.55,809.11 L330.31,809.05 L331.07,808.98 L331.82,808.92 L332.58,808.85 L333.33,808.78 L334.09,808.71 L334.85,808.64 L335.60,808.57 L336.36,808.50 L337.12,808.43 L337.87,808.36 L338.63,808.28 L339.38,808.21 L340.14,808.13 L340.90,808.06 L341.65,807.98 L342.41,807.90 L343.17,807.82 L343.92,807.74 L344.68,807.66 L345.43,807.58 L346.19,807.49 L346.95,807.41 L347.70,807.32 L348.46,807.24 L349.22,807.15 L349.97,807.06 L350.73,806.96 L351.48,806.87 L352.24,806.78 L353.00,806.68 L353.75,806.58 L354.51,806.49 L355.27,806.38 L356.02,806.28 L356.78,806.18 L357.53,806.07 L358.29,805.97 L359.05,805.86 L359.80,805.75 L360.56,805.63 L361.32,805.52 L362.07,805.40 L362.83,805.28 L363.58,805.16 L364.34,805.04 L365.10,804.92 L365.85,804.79 L366.61,804.66 L367.37,804.53 L368.12,804.40 L368.88,804.26 L369.63,804.13 L370.39,803.99 L371.15,803.84 L371.90,803.70 L372.66,803.55 L373.42,803.40 L374.17,803.25 L374.93,803.10 L375.68,802.94 L376.44,802.78 L377.20,802.62 L377.95,802.46 L378.71,802.29 L379.47,802.12 L380.22,801.95 L380.98,801.77 L381.74,801.60 L382.49,801.41 L383.25,801.23 L384.00,801.04 L384.76,800.86 L385.52,800.66 L386.27,800.47 L387.03,800.27 L387.79,800.07 L388.54,799.86 L389.30,799.66 L390.05,799.45 L390.81,799.23 L391.57,799.01 L392.32,798.79 L393.08,798.57 L393.84,798.34 L394.59,798.10 L395.35,797.86 L396.10,797.62 L396.86,797.37 L397.62,797.11 L398.37,796.85 L399.13,796.59 L399.89,796.31 L400.64,796.03 L401.40,795.75 L402.15,795.45 L402.91,795.15 L403.67,794.85 L404.42,794.53 L405.18,794.21 L405.94,793.88 L406.69,793.54 L407.45,793.19 L408.20,792.83 L408.96,792.46 L409.72,792.09 L410.47,791.70 L411.23,791.30 L411.99,790.90 L412.74,790.48 L413.50,790.06 L414.25,789.62 L415.01,789.17 L415.77,788.71 L416.52,788.24 L417.28,787.75 L418.04,787.26 L418.79,786.75 L419.55,786.23 L420.30,785.70 L421.06,785.15 L421.82,784.59 L422.57,784.02 L423.33,783.43 L424.09,782.83 L424.84,782.22 L425.60,781.59 L426.35,780.94 L427.11,780.28 L427.87,779.61 L428.62,778.92 L429.38,778.21 L430.14,777.49 L430.89,776.76 L431.65,776.00 L432.40,775.23 L433.16,774.44 L433.92,773.64 L434.67,772.82 L435.43,771.98 L436.19,771.12 L436.94,770.25 L437.70,769.35 L438.45,768.44 L439.21,767.51 L439.97,766.56 L440.72,765.55 L441.48,764.53 L442.24,763.50 L442.99,762.45 L443.75,761.40 L444.50,760.33 L445.26,759.25 L446.02,758.17 L446.77,757.07 L447.53,755.96 L448.29,754.84 L449.04,753.72 L449.80,752.58 L450.55,751.44 L451.31,750.28 L452.07,749.12 L452.82,747.95 L453.58,746.76 L454.34,745.56 L455.09,744.34 L455.85,743.10 L456.60,741.84 L457.36,740.55 L458.12,739.24 L458.87,737.90 L459.63,736.52 L460.39,735.11 L461.14,733.67 L461.90,732.20 L462.65,730.71 L463.41,729.18 L464.17,727.64 L464.92,726.06 L465.68,724.47 L466.44,722.86 L467.19,721.24 L467.95,719.61 L468.71,717.96 L469.46,716.32 L470.22,714.67 L470.97,713.00 L471.73,711.35 L472.49,709.70 L473.24,708.07 L474.00,706.44 L474.76,704.83 L475.51,703.21 L476.27,701.60 L477.02,699.98 L477.78,698.36 L478.54,696.74 L479.29,695.12 L480.05,693.48 L480.81,691.84 L481.56,690.19 L482.32,688.53 L483.07,686.86 L483.83,685.17 L484.59,683.47 L485.34,681.76 L486.10,680.02 L486.86,678.26 L487.61,676.49 L488.37,674.68 L489.12,672.85 L489.88,670.97 L490.64,669.05 L491.39,667.09 L492.15,665.12 L492.91,663.13 L493.66,661.16 L494.42,659.20 L495.17,657.25 L495.93,655.30 L496.69,653.36 L497.44,651.42 L498.20,649.45 L498.96,647.44 L499.71,645.39 L500.47,643.35 L501.22,641.44 L501.98,639.74 L502.74,638.28 L503.49,636.99 L504.25,635.86 L505.01,634.83 L505.76,633.87 L506.52,632.97 L507.27,632.11 L508.03,631.27 L508.79,630.45 L509.54,629.65 L510.30,628.86 L511.06,628.08 L511.81,627.31 L512.57,626.56 L513.32,625.81 L514.08,625.06 L514.84,624.31 L515.59,623.56 L516.35,622.80 L517.11,622.03 L517.86,621.25 L518.62,620.46 L519.37,619.68 L520.13,618.90 L520.89,618.13 L521.64,617.38 L522.40,616.65 L523.16,615.96 L523.91,615.29 L524.67,614.66 L525.42,614.06 L526.18,613.49 L526.94,612.95 L527.69,612.43 L528.45,611.93 L529.21,611.44 L529.96,610.98 L530.72,610.52 L531.47,610.08 L532.23,609.64 L532.99,609.22 L533.74,608.79 L534.50,608.37 L535.26,607.96 L536.01,607.55 L536.77,607.14 L537.52,606.74 L538.28,606.34 L539.04,605.94 L539.79,605.55 L540.55,605.17 L541.31,604.79 L542.06,604.42 L542.82,604.05 L543.57,603.69 L544.33,603.33 L545.09,602.98 L545.84,602.64 L546.60,602.30 L547.36,601.97 L548.11,601.65 L548.87,601.34 L549.62,601.04 L550.38,600.74 L551.14,600.45 L551.89,600.17 L552.65,599.90 L553.41,599.63 L554.16,599.38 L554.92,599.13 L555.67,598.89 L556.43,598.66 L557.19,598.46 L557.94,598.39 L558.70,598.32" fill="none" stroke="rgb(255,18,0)" stroke-width="3.5" stroke-linejoin="round" stroke-linecap="butt" />
<path d="M105.70,813.86 L106.46,813.83 L107.21,813.80 L107.97,813.78 L108.73,813.75 L109.48,813.73 L110.24,813.70 L110.99,813.68 L111.75,813.65 L112.51,813.63 L113.26,813.61 L114.02,813.59 L114.78,813.56 L115.53,813.54 L116.29,813.52 L117.04,813.50 L117.80,813.48 L118.56,813.46 L119.31,813.44 L120.07,813.43 L120.83,813.41 L121.58,813.39 L122.34,813.37 L123.09,813.36 L123.85,813.34 L124.61,813.32 L125.36,813.31 L126.12,813.29 L126.88,813.28 L127.63,813.27 L128.39,813.25 L129.14,813.24 L129.90,813.22 L130.66,813.21 L131.41,813.20 L132.17,813.19 L132.93,813.17 L133.68,813.16 L134.44,813.15 L135.19,813.14 L135.95,813.13 L136.71,813.12 L137.46,813.11 L138.22,813.10 L138.98,813.09 L139.73,813.08 L140.49,813.07 L141.24,813.06 L142.00,813.05 L142.76,813.05 L143.51,813.04 L144.27,813.03 L145.03,813.02 L145.78,813.02 L146.54,813.01 L147.29,813.00 L148.05,812.99 L148.81,812.99 L149.56,812.98 L150.32,812.97 L151.08,812.97 L151.83,812.96 L152.59,812.96 L153.34,812.95 L154.10,812.94 L154.86,812.94 L155.61,812.93 L156.37,812.93 L157.13,812.92 L157.88,812.92 L158.64,812.91 L159.39,812.91 L160.15,812.90 L160.91,812.90 L161.66,812.89 L162.42,812.89 L163.18,812.88 L163.93,812.88 L164.69,812.87 L165.44,812.87 L166.20,812.86 L166.96,812.86 L167.71,812.85 L168.47,812.85 L169.23,812.84 L169.98,812.84 L170.74,812.83 L171.49,812.83 L172.25,812.82 L173.01,812.82 L173.76,812.81 L174.52,812.81 L175.28,812.80 L176.03,812.80 L176.79,812.79 L177.54,812.78 L178.30,812.78 L179.06,812.77 L179.81,812.77 L180.57,812.76 L181.33,812.75 L182.08,812.75 L182.84,812.74 L183.59,812.73 L184.35,812.73 L185.11,812.72 L185.86,812.71 L186.62,812.71 L187.38,812.70 L188.13,812.69 L188.89,812.68 L189.64,812.67 L190.40,812.67 L191.16,812.66 L191.91,812.65 L192.67,812.64 L193.43,812.63 L194.18,812.62 L194.94,812.61 L195.69,812.60 L196.45,812.59 L197.21,812.58 L197.96,812.57 L198.72,812.56 L199.48,812.54 L200.23,812.53 L200.99,812.52 L201.75,812.51 L202.50,812.49 L203.26,812.48 L204.01,812.47 L204.77,812.45 L205.53,812.44 L206.28,812.42 L207.04,812.41 L207.80,812.39 L208.55,812.38 L209.31,812.36 L210.06,812.34 L210.82,812.33 L211.58,812.31 L212.33,812.29 L213.09,812.27 L213.85,812.25 L214.60,812.23 L215.36,812.21 L216.11,812.19 L216.87,812.17 L217.63,812.15 L218.38,812.13 L219.14,812.11 L219.90,812.08 L220.65,812.06 L221.41,812.04 L222.16,812.01 L222.92,811.99 L223.68,811.96 L224.43,811.94 L225.19,811.91 L225.95,811.88 L226.70,811.85 L227.46,811.83 L228.21,811.80 L228.97,811.77 L229.73,811.74 L230.48,811.71 L231.24,811.68 L232.00,811.64 L232.75,811.61 L233.51,811.58 L234.26,811.55 L235.02,811.51 L235.78,811.48 L236.53,811.44 L237.29,811.40 L238.05,811.37 L238.80,811.33 L239.56,811.29 L240.31,811.25 L241.07,811.21 L241.83,811.17 L242.58,811.13 L243.34,811.09 L244.10,811.04 L244.85,811.00 L245.61,810.96 L246.36,810.91 L247.12,810.87 L247.88,810.82 L248.63,810.77 L249.39,810.72 L250.15,810.68 L250.90,810.63 L251.66,810.58 L252.41,810.52 L253.17,810.47 L253.93,810.42 L254.68,810.37 L255.44,810.31 L256.20,810.26 L256.95,810.20 L257.71,810.14 L258.46,810.08 L259.22,810.03 L259.98,809.97 L260.73,809.90 L261.49,809.84 L262.25,809.78 L263.00,809.72 L263.76,809.65 L264.51,809.59 L265.27,809.52 L266.03,809.45 L266.78,809.39 L267.54,809.32 L268.30,809.25 L269.05,809.18 L269.81,809.10 L270.56,809.03 L271.32,808.96 L272.08,808.88 L272.83,808.81 L273.59,808.73 L274.35,808.65 L275.10,808.57 L275.86,808.49 L276.61,808.41 L277.37,808.33 L278.13,808.25 L278.88,808.16 L279.64,808.08 L280.40,807.99 L281.15,807.90 L281.91,807.81 L282.66,807.72 L283.42,807.63 L284.18,807.54 L284.93,807.45 L285.69,807.35 L286.45,807.26 L287.20,807.16 L287.96,807.07 L288.72,806.97 L289.47,806.87 L290.23,806.77 L290.98,806.66 L291.74,806.56 L292.50,806.46 L293.25,806.35 L294.01,806.24 L294.77,806.13 L295.52,806.03 L296.28,805.91 L297.03,805.80 L297.79,805.69 L298.55,805.58 L299.30,805.46 L300.06,805.34 L300.82,805.22 L301.57,805.10 L302.33,804.98 L303.08,804.86 L303.84,804.74 L304.60,804.61 L305.35,804.49 L306.11,804.36 L306.87,804.23 L307.62,804.10 L308.38,803.97 L309.13,803.84 L309.89,803.70 L310.65,803.57 L311.40,803.43 L312.16,803.29 L312.92,803.15 L313.67,803.01 L314.43,802.87 L315.18,802.73 L315.94,802.58 L316.70,802.44 L317.45,802.29 L318.21,802.14 L318.97,801.99 L319.72,801.83 L320.48,801.68 L321.23,801.53 L321.99,801.37 L322.75,801.21 L323.50,801.05 L324.26,800.89 L325.02,800.73 L325.77,800.56 L326.53,800.40 L327.28,800.23 L328.04,800.06 L328.80,799.89 L329.55,799.72 L330.31,799.55 L331.07,799.37 L331.82,799.19 L332.58,799.02 L333.33,798.84 L334.09,798.65 L334.85,798.47 L335.60,798.29 L336.36,798.10 L337.12,797.91 L337.87,797.72 L338.63,797.53 L339.38,797.33 L340.14,797.14 L340.90,796.94 L341.65,796.74 L342.41,796.53 L343.17,796.33 L343.92,796.12 L344.68,795.91 L345.43,795.70 L346.19,795.48 L346.95,795.26 L347.70,795.04 L348.46,794.82 L349.22,794.59 L349.97,794.36 L350.73,794.12 L351.48,793.89 L352.24,793.65 L353.00,793.41 L353.75,793.16 L354.51,792.91 L355.27,792.66 L356.02,792.40 L356.78,792.14 L357.53,791.88 L358.29,791.61 L359.05,791.34 L359.80,791.07 L360.56,790.79 L361.32,790.51 L362.07,790.22 L362.83,789.93 L363.58,789.63 L364.34,789.34 L365.10,789.03 L365.85,788.73 L366.61,788.42 L367.37,788.10 L368.12,787.78 L368.88,787.45 L369.63,787.12 L370.39,786.79 L371.15,786.45 L371.90,786.11 L372.66,785.76 L373.42,785.41 L374.17,785.05 L374.93,784.68 L375.68,784.31 L376.44,783.94 L377.20,783.56 L377.95,783.18 L378.71,782.79 L379.47,782.39 L380.22,781.99 L380.98,781.58 L381.74,781.17 L382.49,780.76 L383.25,780.33 L384.00,779.90 L384.76,779.47 L385.52,779.03 L386.27,778.58 L387.03,778.13 L387.79,777.67 L388.54,777.20 L389.30,776.73 L390.05,776.25 L390.81,775.77 L391.57,775.28 L392.32,774.78 L393.08,774.27 L393.84,773.76 L394.59,773.25 L395.35,772.72 L396.10,772.19 L396.86,771.65 L397.62,771.11 L398.37,770.56 L399.13,770.00 L399.89,769.43 L400.64,768.86 L401.40,768.28 L402.15,767.69 L402.91,767.09 L403.67,766.49 L404.42,765.88 L405.18,765.26 L405.94,764.64 L406.69,764.00 L407.45,763.36 L408.20,762.71 L408.96,762.06 L409.72,761.39 L410.47,760.72 L411.23,760.04 L411.99,759.35 L412.74,758.65 L413.50,757.95 L414.25,757.23 L415.01,756.51 L415.77,755.78 L416.52,755.04 L417.28,754.29 L418.04,753.54 L418.79,752.77 L419.55,752.00 L420.30,751.21 L421.06,750.42 L421.82,749.62 L422.57,748.81 L423.33,747.99 L424.09,747.16 L424.84,746.32 L425.60,745.48 L426.35,744.62 L427.11,743.75 L427.87,742.88 L428.62,741.99 L429.38,741.10 L430.14,740.20 L430.89,739.28 L431.65,738.36 L432.40,737.42 L433.16,736.48 L433.92,735.53 L434.67,734.56 L435.43,733.59 L436.19,732.61 L436.94,731.61 L437.70,730.61 L438.45,729.59 L439.21,728.57 L439.97,727.53 L440.72,726.47 L441.48,725.39 L442.24,724.29 L442.99,723.19 L443.75,722.07 L444.50,720.94 L445.26,719.79 L446.02,718.64 L446.77,717.47 L447.53,716.30 L448.29,715.11 L449.04,713.92 L449.80,712.72 L450.55,711.51 L451.31,710.30 L452.07,709.08 L452.82,707.86 L453.58,706.63 L454.34,705.39 L455.09,704.15 L455.85,702.89 L456.60,701.63 L457.36,700.37 L458.12,699.09 L458.87,697.81 L459.63,696.52 L460.39,695.23 L461.14,693.93 L461.90,692.63 L462.65,691.31 L463.41,690.00 L464.17,688.68 L464.92,687.36 L465.68,686.03 L466.44,684.70 L467.19,683.36 L467.95,682.03 L468.71,680.69 L469.46,679.36 L470.22,678.02 L470.97,676.71 L471.73,675.40 L472.49,674.09 L473.24,672.77 L474.00,671.46 L474.76,670.13 L475.51,668.81 L476.27,667.48 L477.02,666.14 L477.78,664.81 L478.54,663.47 L479.29,662.13 L480.05,660.79 L480.81,659.45 L481.56,658.10 L482.32,656.74 L483.07,655.38 L483.83,654.01 L484.59,652.65 L485.34,651.30 L486.10,649.96 L486.86,648.64 L487.61,647.34 L488.37,646.06 L489.12,644.80 L489.88,643.56 L490.64,642.35 L491.39,641.16 L492.15,640.00 L492.91,638.86 L493.66,637.76 L494.42,636.70 L495.17,635.68 L495.93,634.70 L496.69,633.75 L497.44,632.84 L498.20,631.96 L498.96,631.11 L499.71,630.29 L500.47,629.50 L501.22,628.74 L501.98,628.00 L502.74,627.29 L503.49,626.61 L504.25,625.94 L505.01,625.30 L505.76,624.67 L506.52,624.06 L507.27,623.45 L508.03,622.85 L508.79,622.25 L509.54,621.64 L510.30,621.04 L511.06,620.43 L511.81,619.81 L512.57,619.19 L513.32,618.58 L514.08,617.96 L514.84,617.36 L515.59,616.76 L516.35,616.18 L517.11,615.61 L517.86,615.06 L518.62,614.53 L519.37,614.01 L520.13,613.51 L520.89,613.01 L521.64,612.53 L522.40,612.06 L523.16,611.60 L523.91,611.15 L524.67,610.71 L525.42,610.28 L526.18,609.85 L526.94,609.44 L527.69,609.03 L528.45,608.63 L529.21,608.24 L529.96,607.85 L530.72,607.47 L531.47,607.09 L532.23,606.72 L532.99,606.35 L533.74,605.98 L534.50,605.62 L535.26,605.26 L536.01,604.90 L536.77,604.54 L537.52,604.19 L538.28,603.84 L539.04,603.50 L539.79,603.16 L540.55,602.82 L541.31,602.48 L542.06,602.15 L542.82,601.82 L543.57,601.50 L544.33,601.18 L545.09,600.86 L545.84,600.55 L546.60,600.24 L547.36,599.94 L548.11,599.64 L548.87,599.35 L549.62,599.06 L550.38,598.78 L551.14,598.50 L551.89,598.23 L552.65,597.97 L553.41,597.70 L554.16,597.45 L554.92,597.19 L555.67,596.95 L556.43,596.70 L557.19,596.50 L557.94,596.42 L558.70,596.35" fill="none" stroke="rgb(255,38,0)" stroke-width="3.5" stroke-linejoin="round" stroke-linecap="butt" />
<path d="M105.70,813.61 L106.46,813.58 L107.21,813.54 L107.97,813.50 L108.73,813.47 L109.48,813.43 L110.24,813.40 L110.99,813.37 L111.75,813.33 L112.51,813.30 L113.26,813.27 L114.02,813.24 L114.78,813.21 L115.53,813.18 L116.29,813.16 L117.04,813.13 L117.80,813.10 L118.56,813.08 L119.31,813.05 L120.07,813.02 L120.83,813.00 L121.58,812.98 L122.34,812.95 L123.09,812.93 L123.85,812.91 L124.61,812.89 L125.36,812.87 L126.12,812.85 L126.88,812.83 L127.63,812.81 L128.39,812.79 L129.14,812.77 L129.90,812.75 L130.66,812.74 L131.41,812.72 L132.17,812.70 L132.93,812.69 L133.68,812.67 L134.44,812.65 L135.19,812.64 L135.95,812.62 L136.71,812.61 L137.46,812.60 L138.22,812.58 L138.98,812.57 L139.73,812.56 L140.49,812.54 L141.24,812.53 L142.00,812.52 L142.76,812.51 L143.51,812.49 L144.27,812.48 L145.03,812.47 L145.78,812.46 L146.54,812.45 L147.29,812.44 L148.05,812.43 L148.81,812.42 L149.56,812.41 L150.32,812.40 L151.08,812.39 L151.83,812.38 L152.59,812.37 L153.34,812.36 L154.10,812.35 L154.86,812.34 L155.61,812.33 L156.37,812.32 L157.13,812.31 L157.88,812.30 L158.64,812.29 L159.39,812.28 L160.15,812.27 L160.91,812.26 L161.66,812.25 L162.42,812.24 L163.18,812.23 L163.93,812.22 L164.69,812.21 L165.44,812.20 L166.20,812.19 L166.96,812.18 L167.71,812.17 L168.47,812.16 L169.23,812.14 L169.98,812.13 L170.74,812.12 L171.49,812.11 L172.25,812.10 L173.01,812.08 L173.76,812.07 L174.52,812.06 L175.28,812.05 L176.03,812.03 L176.79,812.02 L177.54,812.00 L178.30,811.99 L179.06,811.98 L179.81,811.96 L180.57,811.94 L181.33,811.93 L182.08,811.91 L182.84,811.90 L183.59,811.88 L184.35,811.86 L185.11,811.84 L185.86,811.82 L186.62,811.81 L187.38,811.79 L188.13,811.77 L188.89,811.75 L189.64,811.72 L190.40,811.70 L191.16,811.68 L191.91,811.66 L192.67,811.63 L193.43,811.61 L194.18,811.59 L194.94,811.56 L195.69,811.54 L196.45,811.51 L197.21,811.48 L197.96,811.46 L198.72,811.43 L199.48,811.40 L200.23,811.37 L200.99,811.34 L201.75,811.31 L202.50,811.28 L203.26,811.24 L204.01,811.21 L204.77,811.18 L205.53,811.14 L206.28,811.11 L207.04,811.07 L207.80,811.03 L208.55,810.99 L209.31,810.95 L210.06,810.91 L210.82,810.87 L211.58,810.83 L212.33,810.79 L213.09,810.75 L213.85,810.70 L214.60,810.66 L215.36,810.61 L216.11,810.56 L216.87,810.52 L217.63,810.47 L218.38,810.42 L219.14,810.37 L219.90,810.31 L220.65,810.26 L221.41,810.21 L222.16,810.15 L222.92,810.10 L223.68,810.04 L224.43,809.98 L225.19,809.92 L225.95,809.86 L226.70,809.80 L227.46,809.73 L228.21,809.67 L228.97,809.61 L229.73,809.54 L230.48,809.47 L231.24,809.40 L232.00,809.33 L232.75,809.26 L233.51,809.19 L234.26,809.11 L235.02,809.04 L235.78,808.96 L236.53,808.89 L237.29,808.81 L238.05,808.73 L238.80,808.65 L239.56,808.56 L240.31,808.48 L241.07,808.39 L241.83,808.31 L242.58,808.22 L243.34,808.13 L244.10,808.04 L244.85,807.94 L245.61,807.85 L246.36,807.75 L247.12,807.66 L247.88,807.56 L248.63,807.46 L249.39,807.36 L250.15,807.25 L250.90,807.15 L251.66,807.04 L252.41,806.94 L253.17,806.83 L253.93,806.72 L254.68,806.60 L255.44,806.49 L256.20,806.38 L256.95,806.26 L257.71,806.14 L258.46,806.02 L259.22,805.90 L259.98,805.77 L260.73,805.65 L261.49,805.52 L262.25,805.39 L263.00,805.26 L263.76,805.13 L264.51,804.99 L265.27,804.86 L266.03,804.72 L266.78,804.58 L267.54,804.44 L268.30,804.30 L269.05,804.15 L269.81,804.01 L270.56,803.86 L271.32,803.71 L272.08,803.56 L272.83,803.40 L273.59,803.24 L274.35,803.09 L275.10,802.93 L275.86,802.77 L276.61,802.60 L277.37,802.44 L278.13,802.27 L278.88,802.10 L279.64,801.93 L280.40,801.75 L281.15,801.58 L281.91,801.40 L282.66,801.22 L283.42,801.04 L284.18,800.85 L284.93,800.67 L285.69,800.48 L286.45,800.29 L287.20,800.10 L287.96,799.90 L288.72,799.71 L289.47,799.51 L290.23,799.31 L290.98,799.10 L291.74,798.90 L292.50,798.69 L293.25,798.48 L294.01,798.27 L294.77,798.06 L295.52,797.84 L296.28,797.62 L297.03,797.40 L297.79,797.18 L298.55,796.95 L299.30,796.72 L300.06,796.49 L300.82,796.26 L301.57,796.02 L302.33,795.79 L303.08,795.55 L303.84,795.31 L304.60,795.06 L305.35,794.81 L306.11,794.56 L306.87,794.31 L307.62,794.06 L308.38,793.80 L309.13,793.54 L309.89,793.28 L310.65,793.02 L311.40,792.75 L312.16,792.48 L312.92,792.21 L313.67,791.93 L314.43,791.66 L315.18,791.38 L315.94,791.10 L316.70,790.81 L317.45,790.52 L318.21,790.23 L318.97,789.94 L319.72,789.65 L320.48,789.35 L321.23,789.05 L321.99,788.75 L322.75,788.44 L323.50,788.13 L324.26,787.82 L325.02,787.50 L325.77,787.19 L326.53,786.87 L327.28,786.55 L328.04,786.22 L328.80,785.89 L329.55,785.56 L330.31,785.23 L331.07,784.89 L331.82,784.55 L332.58,784.21 L333.33,783.86 L334.09,783.52 L334.85,783.17 L335.60,782.81 L336.36,782.46 L337.12,782.10 L337.87,781.73 L338.63,781.37 L339.38,781.00 L340.14,780.63 L340.90,780.25 L341.65,779.87 L342.41,779.49 L343.17,779.11 L343.92,778.72 L344.68,778.33 L345.43,777.94 L346.19,777.54 L346.95,777.14 L347.70,776.73 L348.46,776.33 L349.22,775.92 L349.97,775.50 L350.73,775.09 L351.48,774.67 L352.24,774.24 L353.00,773.82 L353.75,773.39 L354.51,772.95 L355.27,772.52 L356.02,772.08 L356.78,771.63 L357.53,771.18 L358.29,770.73 L359.05,770.28 L359.80,769.82 L360.56,769.36 L361.32,768.89 L362.07,768.42 L362.83,767.95 L363.58,767.47 L364.34,766.99 L365.10,766.51 L365.85,766.02 L366.61,765.53 L367.37,765.04 L368.12,764.54 L368.88,764.04 L369.63,763.53 L370.39,763.02 L371.15,762.50 L371.90,761.99 L372.66,761.46 L373.42,760.94 L374.17,760.41 L374.93,759.88 L375.68,759.34 L376.44,758.80 L377.20,758.25 L377.95,757.70 L378.71,757.15 L379.47,756.59 L380.22,756.03 L380.98,755.46 L381.74,754.89 L382.49,754.31 L383.25,753.74 L384.00,753.15 L384.76,752.57 L385.52,751.97 L386.27,751.38 L387.03,750.78 L387.79,750.17 L388.54,749.57 L389.30,748.95 L390.05,748.34 L390.81,747.71 L391.57,747.09 L392.32,746.46 L393.08,745.82 L393.84,745.18 L394.59,744.54 L395.35,743.89 L396.10,743.24 L396.86,742.58 L397.62,741.92 L398.37,741.25 L399.13,740.58 L399.89,739.90 L400.64,739.22 L401.40,738.54 L402.15,737.85 L402.91,737.15 L403.67,736.45 L404.42,735.75 L405.18,735.04 L405.94,734.33 L406.69,733.61 L407.45,732.89 L408.20,732.16 L408.96,731.43 L409.72,730.69 L410.47,729.95 L411.23,729.20 L411.99,728.45 L412.74,727.69 L413.50,726.93 L414.25,726.16 L415.01,725.39 L415.77,724.61 L416.52,723.83 L417.28,723.04 L418.04,722.25 L418.79,721.45 L419.55,720.64 L420.30,719.84 L421.06,719.02 L421.82,718.20 L422.57,717.38 L423.33,716.55 L424.09,715.72 L424.84,714.88 L425.60,714.03 L426.35,713.18 L427.11,712.33 L427.87,711.47 L428.62,710.60 L429.38,709.73 L430.14,708.85 L430.89,707.97 L431.65,707.08 L432.40,706.19 L433.16,705.29 L433.92,704.38 L434.67,703.47 L435.43,702.56 L436.19,701.64 L436.94,700.71 L437.70,699.78 L438.45,698.84 L439.21,697.90 L439.97,696.95 L440.72,695.99 L441.48,695.03 L442.24,694.07 L442.99,693.09 L443.75,692.12 L444.50,691.13 L445.26,690.14 L446.02,689.15 L446.77,688.15 L447.53,687.14 L448.29,686.13 L449.04,685.11 L449.80,684.09 L450.55,683.06 L451.31,682.03 L452.07,681.00 L452.82,679.96 L453.58,678.92 L454.34,677.87 L455.09,676.82 L455.85,675.77 L456.60,674.72 L457.36,673.67 L458.12,672.61 L458.87,671.55 L459.63,670.49 L460.39,669.44 L461.14,668.38 L461.90,667.32 L462.65,666.26 L463.41,665.20 L464.17,664.14 L464.92,663.08 L465.68,662.03 L466.44,660.97 L467.19,659.92 L467.95,658.87 L468.71,657.82 L469.46,656.77 L470.22,655.72 L470.97,654.62 L471.73,653.52 L472.49,652.42 L473.24,651.32 L474.00,650.23 L474.76,649.14 L475.51,648.06 L476.27,646.98 L477.02,645.91 L477.78,644.85 L478.54,643.79 L479.29,642.75 L480.05,641.71 L480.81,640.69 L481.56,639.68 L482.32,638.68 L483.07,637.69 L483.83,636.72 L484.59,635.76 L485.34,634.82 L486.10,633.90 L486.86,632.99 L487.61,632.10 L488.37,631.23 L489.12,630.38 L489.88,629.54 L490.64,628.73 L491.39,627.93 L492.15,627.16 L492.91,626.40 L493.66,625.67 L494.42,624.96 L495.17,624.27 L495.93,623.60 L496.69,622.95 L497.44,622.32 L498.20,621.72 L498.96,621.13 L499.71,620.57 L500.47,620.03 L501.22,619.50 L501.98,618.99 L502.74,618.49 L503.49,618.01 L504.25,617.53 L505.01,617.07 L505.76,616.60 L506.52,616.15 L507.27,615.69 L508.03,615.24 L508.79,614.79 L509.54,614.33 L510.30,613.88 L511.06,613.42 L511.81,612.97 L512.57,612.52 L513.32,612.08 L514.08,611.64 L514.84,611.21 L515.59,610.79 L516.35,610.39 L517.11,609.99 L517.86,609.62 L518.62,609.25 L519.37,608.90 L520.13,608.56 L520.89,608.23 L521.64,607.92 L522.40,607.61 L523.16,607.30 L523.91,607.01 L524.67,606.72 L525.42,606.43 L526.18,606.14 L526.94,605.86 L527.69,605.58 L528.45,605.30 L529.21,605.02 L529.96,604.73 L530.72,604.45 L531.47,604.17 L532.23,603.89 L532.99,603.61 L533.74,603.33 L534.50,603.05 L535.26,602.77 L536.01,602.49 L536.77,602.21 L537.52,601.93 L538.28,601.65 L539.04,601.37 L539.79,601.10 L540.55,600.82 L541.31,600.55 L542.06,600.28 L542.82,600.00 L543.57,599.73 L544.33,599.46 L545.09,599.19 L545.84,598.92 L546.60,598.65 L547.36,598.39 L548.11,598.12 L548.87,597.86 L549.62,597.59 L550.38,597.33 L551.14,597.07 L551.89,596.80 L552.65,596.55 L553.41,596.29 L554.16,596.03 L554.92,595.77 L555.67,595.52 L556.43,595.26 L557.19,595.04 L557.94,594.96 L558.70,594.88" fill="none" stroke="rgb(255,60,0)" stroke-width="3.5" stroke-linejoin="round" stroke-linecap="butt" />
<path d="M105.70,813.23 L106.46,813.20 L107.21,813.18 L107.97,813.16 L108.73,813.14 L109.48,813.12 L110.24,813.10 L110.99,813.08 L111.75,813.06 L112.51,813.05 L113.26,813.03 L114.02,813.01 L114.78,813.00 L115.53,812.98 L116.29,812.97 L117.04,812.95 L117.80,812.94 L118.56,812.92 L119.31,812.91 L120.07,812.90 L120.83,812.89 L121.58,812.87 L122.34,812.86 L123.09,812.85 L123.85,812.84 L124.61,812.83 L125.36,812.82 L126.12,812.81 L126.88,812.80 L127.63,812.79 L128.39,812.78 L129.14,812.78 L129.90,812.77 L130.66,812.76 L131.41,812.75 L132.17,812.74 L132.93,812.73 L133.68,812.73 L134.44,812.72 L135.19,812.71 L135.95,812.70 L136.71,812.70 L137.46,812.69 L138.22,812.68 L138.98,812.68 L139.73,812.67 L140.49,812.66 L141.24,812.66 L142.00,812.65 L142.76,812.64 L143.51,812.63 L144.27,812.63 L145.03,812.62 L145.78,812.61 L146.54,812.60 L147.29,812.60 L148.05,812.59 L148.81,812.58 L149.56,812.57 L150.32,812.56 L151.08,812.56 L151.83,812.55 L152.59,812.54 L153.34,812.53 L154.10,812.52 L154.86,812.51 L155.61,812.50 L156.37,812.49 L157.13,812.48 L157.88,812.47 L158.64,812.46 L159.39,812.45 L160.15,812.43 L160.91,812.42 L161.66,812.41 L162.42,812.39 L163.18,812.38 L163.93,812.37 L164.69,812.35 L165.44,812.34 L166.20,812.32 L166.96,812.30 L167.71,812.29 L168.47,812.27 L169.23,812.25 L169.98,812.23 L170.74,812.21 L171.49,812.19 L172.25,812.17 L173.01,812.15 L173.76,812.13 L174.52,812.11 L175.28,812.08 L176.03,812.06 L176.79,812.04 L177.54,812.01 L178.30,811.98 L179.06,811.96 L179.81,811.93 L180.57,811.90 L181.33,811.87 L182.08,811.84 L182.84,811.81 L183.59,811.78 L184.35,811.75 L185.11,811.71 L185.86,811.68 L186.62,811.64 L187.38,811.61 L188.13,811.57 L188.89,811.53 L189.64,811.49 L190.40,811.45 L191.16,811.41 L191.91,811.37 L192.67,811.32 L193.43,811.28 L194.18,811.23 L194.94,811.19 L195.69,811.14 L196.45,811.09 L197.21,811.04 L197.96,810.99 L198.72,810.94 L199.48,810.88 L200.23,810.83 L200.99,810.77 L201.75,810.72 L202.50,810.66 L203.26,810.60 L204.01,810.54 L204.77,810.48 L205.53,810.41 L206.28,810.35 L207.04,810.28 L207.80,810.21 L208.55,810.15 L209.31,810.07 L210.06,810.00 L210.82,809.93 L211.58,809.86 L212.33,809.78 L213.09,809.70 L213.85,809.62 L214.60,809.54 L215.36,809.46 L216.11,809.38 L216.87,809.29 L217.63,809.21 L218.38,809.12 L219.14,809.03 L219.90,808.94 L220.65,808.84 L221.41,808.75 L222.16,808.65 L222.92,808.56 L223.68,808.46 L224.43,808.36 L225.19,808.25 L225.95,808.15 L226.70,808.04 L227.46,807.93 L228.21,807.82 L228.97,807.71 L229.73,807.60 L230.48,807.48 L231.24,807.37 L232.00,807.25 L232.75,807.13 L233.51,807.00 L234.26,806.88 L235.02,806.75 L235.78,806.62 L236.53,806.49 L237.29,806.36 L238.05,806.23 L238.80,806.09 L239.56,805.95 L240.31,805.81 L241.07,805.67 L241.83,805.53 L242.58,805.38 L243.34,805.23 L244.10,805.08 L244.85,804.93 L245.61,804.77 L246.36,804.62 L247.12,804.46 L247.88,804.30 L248.63,804.13 L249.39,803.97 L250.15,803.80 L250.90,803.63 L251.66,803.46 L252.41,803.28 L253.17,803.11 L253.93,802.93 L254.68,802.75 L255.44,802.56 L256.20,802.38 L256.95,802.19 L257.71,802.00 L258.46,801.81 L259.22,801.61 L259.98,801.41 L260.73,801.21 L261.49,801.01 L262.25,800.80 L263.00,800.60 L263.76,800.39 L264.51,800.17 L265.27,799.96 L266.03,799.74 L266.78,799.52 L267.54,799.30 L268.30,799.07 L269.05,798.84 L269.81,798.61 L270.56,798.38 L271.32,798.14 L272.08,797.91 L272.83,797.66 L273.59,797.42 L274.35,797.17 L275.10,796.92 L275.86,796.67 L276.61,796.42 L277.37,796.16 L278.13,795.90 L278.88,795.64 L279.64,795.37 L280.40,795.10 L281.15,794.83 L281.91,794.56 L282.66,794.28 L283.42,794.00 L284.18,793.72 L284.93,793.43 L285.69,793.14 L286.45,792.85 L287.20,792.56 L287.96,792.26 L288.72,791.96 L289.47,791.65 L290.23,791.35 L290.98,791.04 L291.74,790.72 L292.50,790.41 L293.25,790.09 L294.01,789.77 L294.77,789.44 L295.52,789.11 L296.28,788.78 L297.03,788.45 L297.79,788.11 L298.55,787.77 L299.30,787.42 L300.06,787.08 L300.82,786.73 L301.57,786.37 L302.33,786.01 L303.08,785.65 L303.84,785.29 L304.60,784.92 L305.35,784.55 L306.11,784.18 L306.87,783.80 L307.62,783.42 L308.38,783.04 L309.13,782.65 L309.89,782.26 L310.65,781.87 L311.40,781.47 L312.16,781.07 L312.92,780.66 L313.67,780.25 L314.43,779.84 L315.18,779.43 L315.94,779.01 L316.70,778.59 L317.45,778.16 L318.21,777.73 L318.97,777.30 L319.72,776.86 L320.48,776.42 L321.23,775.98 L321.99,775.53 L322.75,775.08 L323.50,774.62 L324.26,774.17 L325.02,773.70 L325.77,773.24 L326.53,772.77 L327.28,772.29 L328.04,771.82 L328.80,771.34 L329.55,770.85 L330.31,770.36 L331.07,769.87 L331.82,769.37 L332.58,768.87 L333.33,768.37 L334.09,767.86 L334.85,767.35 L335.60,766.83 L336.36,766.31 L337.12,765.79 L337.87,765.26 L338.63,764.73 L339.38,764.20 L340.14,763.66 L340.90,763.12 L341.65,762.58 L342.41,762.03 L343.17,761.48 L343.92,760.92 L344.68,760.36 L345.43,759.80 L346.19,759.24 L346.95,758.67 L347.70,758.10 L348.46,757.52 L349.22,756.95 L349.97,756.37 L350.73,755.79 L351.48,755.20 L352.24,754.61 L353.00,754.02 L353.75,753.42 L354.51,752.83 L355.27,752.23 L356.02,751.62 L356.78,751.02 L357.53,750.41 L358.29,749.80 L359.05,749.19 L359.80,748.57 L360.56,747.96 L361.32,747.33 L362.07,746.71 L362.83,746.09 L363.58,745.46 L364.34,744.83 L365.10,744.20 L365.85,743.57 L366.61,742.93 L367.37,742.29 L368.12,741.65 L368.88,741.01 L369.63,740.37 L370.39,739.72 L371.15,739.07 L371.90,738.42 L372.66,737.77 L373.42,737.12 L374.17,736.46 L374.93,735.81 L375.68,735.15 L376.44,734.49 L377.20,733.83 L377.95,733.16 L378.71,732.50 L379.47,731.83 L380.22,731.17 L380.98,730.50 L381.74,729.83 L382.49,729.16 L383.25,728.48 L384.00,727.81 L384.76,727.14 L385.52,726.46 L386.27,725.78 L387.03,725.11 L387.79,724.43 L388.54,723.75 L389.30,723.07 L390.05,722.39 L390.81,721.70 L391.57,721.02 L392.32,720.34 L393.08,719.65 L393.84,718.96 L394.59,718.28 L395.35,717.59 L396.10,716.90 L396.86,716.21 L397.62,715.52 L398.37,714.82 L399.13,714.13 L399.89,713.43 L400.64,712.74 L401.40,712.04 L402.15,711.34 L402.91,710.64 L403.67,709.93 L404.42,709.23 L405.18,708.52 L405.94,707.81 L406.69,707.10 L407.45,706.39 L408.20,705.68 L408.96,704.96 L409.72,704.25 L410.47,703.53 L411.23,702.81 L411.99,702.08 L412.74,701.36 L413.50,700.63 L414.25,699.90 L415.01,699.17 L415.77,698.44 L416.52,697.70 L417.28,696.97 L418.04,696.22 L418.79,695.48 L419.55,694.74 L420.30,693.99 L421.06,693.24 L421.82,692.49 L422.57,691.73 L423.33,690.98 L424.09,690.22 L424.84,689.45 L425.60,688.69 L426.35,687.92 L427.11,687.15 L427.87,686.38 L428.62,685.60 L429.38,684.82 L430.14,684.04 L430.89,683.25 L431.65,682.47 L432.40,681.68 L433.16,680.88 L433.92,680.08 L434.67,679.28 L435.43,678.48 L436.19,677.67 L436.94,676.86 L437.70,676.05 L438.45,675.23 L439.21,674.41 L439.97,673.59 L440.72,672.76 L441.48,671.93 L442.24,671.09 L442.99,670.26 L443.75,669.41 L444.50,668.57 L445.26,667.72 L446.02,666.87 L446.77,666.01 L447.53,665.15 L448.29,664.29 L449.04,663.42 L449.80,662.55 L450.55,661.68 L451.31,660.80 L452.07,659.93 L452.82,659.05 L453.58,658.17 L454.34,657.29 L455.09,656.40 L455.85,655.52 L456.60,654.63 L457.36,653.75 L458.12,652.86 L458.87,651.98 L459.63,651.10 L460.39,650.21 L461.14,649.33 L461.90,648.45 L462.65,647.57 L463.41,646.69 L464.17,645.81 L464.92,644.93 L465.68,644.06 L466.44,643.19 L467.19,642.32 L467.95,641.46 L468.71,640.60 L469.46,639.74 L470.22,638.88 L470.97,638.00 L471.73,637.13 L472.49,636.25 L473.24,635.37 L474.00,634.50 L474.76,633.63 L475.51,632.76 L476.27,631.89 L477.02,631.03 L477.78,630.17 L478.54,629.32 L479.29,628.47 L480.05,627.64 L480.81,626.81 L481.56,625.99 L482.32,625.18 L483.07,624.39 L483.83,623.62 L484.59,622.86 L485.34,622.13 L486.10,621.42 L486.86,620.73 L487.61,620.07 L488.37,619.43 L489.12,618.81 L489.88,618.21 L490.64,617.63 L491.39,617.06 L492.15,616.52 L492.91,615.99 L493.66,615.47 L494.42,614.97 L495.17,614.48 L495.93,614.00 L496.69,613.54 L497.44,613.08 L498.20,612.64 L498.96,612.21 L499.71,611.79 L500.47,611.36 L501.22,610.94 L501.98,610.52 L502.74,610.10 L503.49,609.68 L504.25,609.28 L505.01,608.88 L505.76,608.49 L506.52,608.11 L507.27,607.75 L508.03,607.40 L508.79,607.07 L509.54,606.77 L510.30,606.48 L511.06,606.20 L511.81,605.95 L512.57,605.70 L513.32,605.47 L514.08,605.26 L514.84,605.05 L515.59,604.85 L516.35,604.66 L517.11,604.48 L517.86,604.30 L518.62,604.13 L519.37,603.96 L520.13,603.79 L520.89,603.62 L521.64,603.46 L522.40,603.30 L523.16,603.13 L523.91,602.97 L524.67,602.80 L525.42,602.63 L526.18,602.46 L526.94,602.28 L527.69,602.10 L528.45,601.91 L529.21,601.72 L529.96,601.52 L530.72,601.32 L531.47,601.12 L532.23,600.91 L532.99,600.70 L533.74,600.49 L534.50,600.28 L535.26,600.06 L536.01,599.84 L536.77,599.62 L537.52,599.40 L538.28,599.18 L539.04,598.95 L539.79,598.72 L540.55,598.50 L541.31,598.26 L542.06,598.03 L542.82,597.80 L543.57,597.56 L544.33,597.33 L545.09,597.09 L545.84,596.85 L546.60,596.60 L547.36,596.36 L548.11,596.11 L548.87,595.86 L549.62,595.62 L550.38,595.36 L551.14,595.11 L551.89,594.86 L552.65,594.60 L553.41,594.34 L554.16,594.08 L554.92,593.82 L555.67,593.56 L556.43,593.30 L557.19,593.07 L557.94,592.98 L558.70,592.89" fill="none" stroke="rgb(255,85,0)" stroke-width="3.5" stroke-linejoin="round" stroke-linecap="butt" />
<path d="M105.70,813.34 L106.46,813.26 L107.21,813.19 L107.97,813.11 L108.73,813.04 L109.48,812.97 L110.24,812.90 L110.99,812.83 L111.75,812.77 L112.51,812.71 L113.26,812.65 L114.02,812.59 L114.78,812.53 L115.53,812.48 L116.29,812.42 L117.04,812.37 L117.80,812.32 L118.56,812.27 L119.31,812.22 L120.07,812.18 L120.83,812.13 L121.58,812.09 L122.34,812.05 L123.09,812.01 L123.85,811.97 L124.61,811.93 L125.36,811.89 L126.12,811.86 L126.88,811.83 L127.63,811.79 L128.39,811.76 L129.14,811.73 L129.90,811.70 L130.66,811.67 L131.41,811.65 L132.17,811.62 L132.93,811.60 L133.68,811.57 L134.44,811.55 L135.19,811.53 L135.95,811.51 L136.71,811.48 L137.46,811.46 L138.22,811.44 L138.98,811.43 L139.73,811.41 L140.49,811.39 L141.24,811.37 L142.00,811.36 L142.76,811.34 L143.51,811.33 L144.27,811.31 L145.03,811.30 L145.78,811.28 L146.54,811.27 L147.29,811.26 L148.05,811.24 L148.81,811.23 L149.56,811.22 L150.32,811.21 L151.08,811.19 L151.83,811.18 L152.59,811.17 L153.34,811.16 L154.10,811.14 L154.86,811.13 L155.61,811.12 L156.37,811.11 L157.13,811.10 L157.88,811.08 L158.64,811.07 L159.39,811.06 L160.15,811.04 L160.91,811.03 L161.66,811.02 L162.42,811.00 L163.18,810.99 L163.93,810.97 L164.69,810.96 L165.44,810.94 L166.20,810.93 L166.96,810.91 L167.71,810.89 L168.47,810.87 L169.23,810.86 L169.98,810.84 L170.74,810.82 L171.49,810.79 L172.25,810.77 L173.01,810.75 L173.76,810.73 L174.52,810.70 L175.28,810.68 L176.03,810.65 L176.79,810.62 L177.54,810.60 L178.30,810.57 L179.06,810.54 L179.81,810.50 L180.57,810.47 L181.33,810.44 L182.08,810.40 L182.84,810.37 L183.59,810.33 L184.35,810.29 L185.11,810.25 L185.86,810.21 L186.62,810.16 L187.38,810.12 L188.13,810.07 L188.89,810.03 L189.64,809.98 L190.40,809.93 L191.16,809.87 L191.91,809.82 L192.67,809.76 L193.43,809.71 L194.18,809.65 L194.94,809.59 L195.69,809.52 L196.45,809.46 L197.21,809.39 L197.96,809.32 L198.72,809.25 L199.48,809.18 L200.23,809.11 L200.99,809.03 L201.75,808.95 L202.50,808.87 L203.26,808.79 L204.01,808.70 L204.77,808.61 L205.53,808.52 L206.28,808.43 L207.04,808.34 L207.80,808.24 L208.55,808.14 L209.31,808.04 L210.06,807.94 L210.82,807.83 L211.58,807.72 L212.33,807.61 L213.09,807.50 L213.85,807.38 L214.60,807.26 L215.36,807.14 L216.11,807.01 L216.87,806.88 L217.63,806.75 L218.38,806.62 L219.14,806.48 L219.90,806.34 L220.65,806.20 L221.41,806.06 L222.16,805.91 L222.92,805.76 L223.68,805.60 L224.43,805.45 L225.19,805.29 L225.95,805.12 L226.70,804.96 L227.46,804.79 L228.21,804.62 L228.97,804.44 L229.73,804.26 L230.48,804.08 L231.24,803.89 L232.00,803.70 L232.75,803.51 L233.51,803.32 L234.26,803.12 L235.02,802.91 L235.78,802.71 L236.53,802.50 L237.29,802.29 L238.05,802.07 L238.80,801.85 L239.56,801.63 L240.31,801.40 L241.07,801.17 L241.83,800.94 L242.58,800.70 L243.34,800.46 L244.10,800.21 L244.85,799.97 L245.61,799.71 L246.36,799.46 L247.12,799.20 L247.88,798.93 L248.63,798.67 L249.39,798.39 L250.15,798.12 L250.90,797.84 L251.66,797.56 L252.41,797.27 L253.17,796.98 L253.93,796.68 L254.68,796.39 L255.44,796.08 L256.20,795.78 L256.95,795.46 L257.71,795.15 L258.46,794.83 L259.22,794.51 L259.98,794.18 L260.73,793.85 L261.49,793.51 L262.25,793.17 L263.00,792.82 L263.76,792.48 L264.51,792.12 L265.27,791.76 L266.03,791.40 L266.78,791.04 L267.54,790.67 L268.30,790.29 L269.05,789.91 L269.81,789.53 L270.56,789.14 L271.32,788.74 L272.08,788.34 L272.83,787.94 L273.59,787.53 L274.35,787.12 L275.10,786.71 L275.86,786.29 L276.61,785.86 L277.37,785.43 L278.13,784.99 L278.88,784.55 L279.64,784.11 L280.40,783.66 L281.15,783.21 L281.91,782.75 L282.66,782.29 L283.42,781.82 L284.18,781.35 L284.93,780.88 L285.69,780.40 L286.45,779.92 L287.20,779.44 L287.96,778.95 L288.72,778.45 L289.47,777.96 L290.23,777.46 L290.98,776.96 L291.74,776.45 L292.50,775.94 L293.25,775.43 L294.01,774.91 L294.77,774.39 L295.52,773.87 L296.28,773.34 L297.03,772.81 L297.79,772.28 L298.55,771.75 L299.30,771.21 L300.06,770.67 L300.82,770.13 L301.57,769.59 L302.33,769.04 L303.08,768.49 L303.84,767.94 L304.60,767.39 L305.35,766.83 L306.11,766.27 L306.87,765.71 L307.62,765.15 L308.38,764.59 L309.13,764.02 L309.89,763.46 L310.65,762.89 L311.40,762.32 L312.16,761.75 L312.92,761.17 L313.67,760.60 L314.43,760.02 L315.18,759.44 L315.94,758.87 L316.70,758.29 L317.45,757.70 L318.21,757.12 L318.97,756.54 L319.72,755.96 L320.48,755.37 L321.23,754.79 L321.99,754.20 L322.75,753.62 L323.50,753.03 L324.26,752.44 L325.02,751.85 L325.77,751.27 L326.53,750.68 L327.28,750.09 L328.04,749.50 L328.80,748.91 L329.55,748.32 L330.31,747.73 L331.07,747.15 L331.82,746.56 L332.58,745.97 L333.33,745.38 L334.09,744.80 L334.85,744.21 L335.60,743.62 L336.36,743.04 L337.12,742.45 L337.87,741.87 L338.63,741.28 L339.38,740.70 L340.14,740.11 L340.90,739.53 L341.65,738.94 L342.41,738.36 L343.17,737.77 L343.92,737.19 L344.68,736.61 L345.43,736.02 L346.19,735.44 L346.95,734.85 L347.70,734.27 L348.46,733.69 L349.22,733.10 L349.97,732.52 L350.73,731.94 L351.48,731.35 L352.24,730.77 L353.00,730.18 L353.75,729.60 L354.51,729.02 L355.27,728.43 L356.02,727.85 L356.78,727.26 L357.53,726.68 L358.29,726.09 L359.05,725.50 L359.80,724.92 L360.56,724.33 L361.32,723.75 L362.07,723.16 L362.83,722.57 L363.58,721.98 L364.34,721.39 L365.10,720.81 L365.85,720.22 L366.61,719.63 L367.37,719.04 L368.12,718.45 L368.88,717.86 L369.63,717.26 L370.39,716.67 L371.15,716.08 L371.90,715.49 L372.66,714.89 L373.42,714.30 L374.17,713.70 L374.93,713.11 L375.68,712.51 L376.44,711.91 L377.20,711.31 L377.95,710.71 L378.71,710.11 L379.47,709.51 L380.22,708.91 L380.98,708.31 L381.74,707.71 L382.49,707.10 L383.25,706.50 L384.00,705.89 L384.76,705.29 L385.52,704.68 L386.27,704.07 L387.03,703.46 L387.79,702.85 L388.54,702.24 L389.30,701.63 L390.05,701.01 L390.81,700.40 L391.57,699.78 L392.32,699.16 L393.08,698.55 L393.84,697.93 L394.59,697.31 L395.35,696.68 L396.10,696.06 L396.86,695.44 L397.62,694.81 L398.37,694.18 L399.13,693.56 L399.89,692.93 L400.64,692.30 L401.40,691.66 L402.15,691.03 L402.91,690.39 L403.67,689.76 L404.42,689.12 L405.18,688.48 L405.94,687.84 L406.69,687.20 L407.45,686.55 L408.20,685.91 L408.96,685.26 L409.72,684.61 L410.47,683.96 L411.23,683.31 L411.99,682.66 L412.74,682.00 L413.50,681.35 L414.25,680.69 L415.01,680.03 L415.77,679.37 L416.52,678.70 L417.28,678.04 L418.04,677.37 L418.79,676.70 L419.55,676.03 L420.30,675.36 L421.06,674.68 L421.82,674.01 L422.57,673.33 L423.33,672.65 L424.09,671.96 L424.84,671.28 L425.60,670.59 L426.35,669.91 L427.11,669.22 L427.87,668.52 L428.62,667.83 L429.38,667.13 L430.14,666.43 L430.89,665.73 L431.65,665.03 L432.40,664.33 L433.16,663.62 L433.92,662.91 L434.67,662.20 L435.43,661.48 L436.19,660.77 L436.94,660.05 L437.70,659.33 L438.45,658.60 L439.21,657.88 L439.97,657.15 L440.72,656.42 L441.48,655.69 L442.24,654.95 L442.99,654.22 L443.75,653.48 L444.50,652.73 L445.26,651.99 L446.02,651.24 L446.77,650.49 L447.53,649.74 L448.29,648.99 L449.04,648.23 L449.80,647.47 L450.55,646.71 L451.31,645.95 L452.07,645.19 L452.82,644.43 L453.58,643.66 L454.34,642.90 L455.09,642.13 L455.85,641.37 L456.60,640.60 L457.36,639.84 L458.12,639.08 L458.87,638.32 L459.63,637.56 L460.39,636.80 L461.14,636.04 L461.90,635.28 L462.65,634.53 L463.41,633.77 L464.17,633.02 L464.92,632.28 L465.68,631.53 L466.44,630.79 L467.19,630.05 L467.95,629.32 L468.71,628.59 L469.46,627.86 L470.22,627.12 L470.97,626.34 L471.73,625.57 L472.49,624.80 L473.24,624.03 L474.00,623.28 L474.76,622.53 L475.51,621.79 L476.27,621.06 L477.02,620.35 L477.78,619.64 L478.54,618.94 L479.29,618.26 L480.05,617.59 L480.81,616.93 L481.56,616.28 L482.32,615.65 L483.07,615.03 L483.83,614.42 L484.59,613.83 L485.34,613.25 L486.10,612.69 L486.86,612.13 L487.61,611.60 L488.37,611.07 L489.12,610.56 L489.88,610.07 L490.64,609.59 L491.39,609.12 L492.15,608.67 L492.91,608.24 L493.66,607.83 L494.42,607.43 L495.17,607.05 L495.93,606.68 L496.69,606.33 L497.44,605.99 L498.20,605.67 L498.96,605.37 L499.71,605.09 L500.47,604.81 L501.22,604.55 L501.98,604.30 L502.74,604.06 L503.49,603.83 L504.25,603.61 L505.01,603.41 L505.76,603.21 L506.52,603.02 L507.27,602.84 L508.03,602.66 L508.79,602.49 L509.54,602.33 L510.30,602.17 L511.06,602.02 L511.81,601.86 L512.57,601.72 L513.32,601.57 L514.08,601.43 L514.84,601.29 L515.59,601.16 L516.35,601.02 L517.11,600.89 L517.86,600.75 L518.62,600.62 L519.37,600.49 L520.13,600.36 L520.89,600.22 L521.64,600.09 L522.40,599.95 L523.16,599.81 L523.91,599.67 L524.67,599.53 L525.42,599.38 L526.18,599.23 L526.94,599.08 L527.69,598.93 L528.45,598.77 L529.21,598.61 L529.96,598.44 L530.72,598.27 L531.47,598.10 L532.23,597.93 L532.99,597.75 L533.74,597.57 L534.50,597.40 L535.26,597.22 L536.01,597.03 L536.77,596.85 L537.52,596.66 L538.28,596.48 L539.04,596.29 L539.79,596.10 L540.55,595.91 L541.31,595.72 L542.06,595.53 L542.82,595.33 L543.57,595.14 L544.33,594.94 L545.09,594.75 L545.84,594.55 L546.60,594.35 L547.36,594.15 L548.11,593.94 L548.87,593.74 L549.62,593.54 L550.38,593.33 L551.14,593.12 L551.89,592.92 L552.65,592.71 L553.41,592.50 L554.16,592.28 L554.92,592.07 L555.67,591.86 L556.43,591.65 L557.19,591.47 L557.94,591.40 L558.70,591.33" fill="none" stroke="rgb(255,108,0)" stroke-width="3.5" stroke-linejoin="round" stroke-linecap="butt" />
<path d="M105.70,813.36 L106.46,813.23 L107.21,813.10 L107.97,812.97 L108.73,812.85 L109.48,812.73 L110.24,812.62 L110.99,812.51 L111.75,812.40 L112.51,812.30 L113.26,812.20 L114.02,812.10 L114.78,812.01 L115.53,811.92 L116.29,811.83 L117.04,811.75 L117.80,811.67 L118.56,811.59 L119.31,811.52 L120.07,811.45 L120.83,811.38 L121.58,811.31 L122.34,811.25 L123.09,811.18 L123.85,811.13 L124.61,811.07 L125.36,811.02 L126.12,810.96 L126.88,810.91 L127.63,810.87 L128.39,810.82 L129.14,810.78 L129.90,810.74 L130.66,810.70 L131.41,810.66 L132.17,810.63 L132.93,810.59 L133.68,810.56 L134.44,810.53 L135.19,810.50 L135.95,810.47 L136.71,810.45 L137.46,810.42 L138.22,810.40 L138.98,810.38 L139.73,810.36 L140.49,810.34 L141.24,810.32 L142.00,810.30 L142.76,810.29 L143.51,810.27 L144.27,810.26 L145.03,810.24 L145.78,810.23 L146.54,810.22 L147.29,810.21 L148.05,810.19 L148.81,810.18 L149.56,810.17 L150.32,810.16 L151.08,810.15 L151.83,810.14 L152.59,810.13 L153.34,810.12 L154.10,810.11 L154.86,810.10 L155.61,810.09 L156.37,810.08 L157.13,810.07 L157.88,810.06 L158.64,810.05 L159.39,810.04 L160.15,810.03 L160.91,810.01 L161.66,810.00 L162.42,809.99 L163.18,809.97 L163.93,809.96 L164.69,809.94 L165.44,809.92 L166.20,809.91 L166.96,809.89 L167.71,809.87 L168.47,809.84 L169.23,809.82 L169.98,809.80 L170.74,809.77 L171.49,809.74 L172.25,809.72 L173.01,809.69 L173.76,809.65 L174.52,809.62 L175.28,809.59 L176.03,809.55 L176.79,809.51 L177.54,809.47 L178.30,809.43 L179.06,809.38 L179.81,809.33 L180.57,809.28 L181.33,809.23 L182.08,809.18 L182.84,809.12 L183.59,809.06 L184.35,809.00 L185.11,808.94 L185.86,808.87 L186.62,808.80 L187.38,808.73 L188.13,808.66 L188.89,808.58 L189.64,808.50 L190.40,808.41 L191.16,808.33 L191.91,808.24 L192.67,808.14 L193.43,808.05 L194.18,807.95 L194.94,807.85 L195.69,807.74 L196.45,807.63 L197.21,807.52 L197.96,807.40 L198.72,807.28 L199.48,807.15 L200.23,807.02 L200.99,806.89 L201.75,806.76 L202.50,806.62 L203.26,806.47 L204.01,806.32 L204.77,806.17 L205.53,806.01 L206.28,805.85 L207.04,805.68 L207.80,805.51 L208.55,805.34 L209.31,805.16 L210.06,804.98 L210.82,804.79 L211.58,804.59 L212.33,804.40 L213.09,804.19 L213.85,803.98 L214.60,803.77 L215.36,803.55 L216.11,803.33 L216.87,803.10 L217.63,802.87 L218.38,802.63 L219.14,802.38 L219.90,802.13 L220.65,801.88 L221.41,801.61 L222.16,801.35 L222.92,801.08 L223.68,800.80 L224.43,800.52 L225.19,800.23 L225.95,799.94 L226.70,799.64 L227.46,799.34 L228.21,799.03 L228.97,798.71 L229.73,798.40 L230.48,798.07 L231.24,797.74 L232.00,797.41 L232.75,797.07 L233.51,796.73 L234.26,796.38 L235.02,796.03 L235.78,795.67 L236.53,795.31 L237.29,794.94 L238.05,794.57 L238.80,794.19 L239.56,793.81 L240.31,793.43 L241.07,793.04 L241.83,792.64 L242.58,792.24 L243.34,791.84 L244.10,791.43 L244.85,791.02 L245.61,790.60 L246.36,790.18 L247.12,789.76 L247.88,789.33 L248.63,788.89 L249.39,788.45 L250.15,788.01 L250.90,787.57 L251.66,787.12 L252.41,786.66 L253.17,786.20 L253.93,785.74 L254.68,785.27 L255.44,784.80 L256.20,784.33 L256.95,783.85 L257.71,783.37 L258.46,782.88 L259.22,782.40 L259.98,781.90 L260.73,781.41 L261.49,780.91 L262.25,780.40 L263.00,779.89 L263.76,779.38 L264.51,778.87 L265.27,778.35 L266.03,777.83 L266.78,777.30 L267.54,776.78 L268.30,776.24 L269.05,775.71 L269.81,775.17 L270.56,774.63 L271.32,774.08 L272.08,773.54 L272.83,772.98 L273.59,772.43 L274.35,771.87 L275.10,771.31 L275.86,770.75 L276.61,770.18 L277.37,769.61 L278.13,769.04 L278.88,768.47 L279.64,767.89 L280.40,767.31 L281.15,766.73 L281.91,766.15 L282.66,765.56 L283.42,764.98 L284.18,764.39 L284.93,763.80 L285.69,763.21 L286.45,762.62 L287.20,762.03 L287.96,761.44 L288.72,760.85 L289.47,760.26 L290.23,759.66 L290.98,759.07 L291.74,758.48 L292.50,757.89 L293.25,757.30 L294.01,756.71 L294.77,756.12 L295.52,755.53 L296.28,754.95 L297.03,754.36 L297.79,753.78 L298.55,753.20 L299.30,752.62 L300.06,752.04 L300.82,751.47 L301.57,750.90 L302.33,750.33 L303.08,749.76 L303.84,749.20 L304.60,748.64 L305.35,748.08 L306.11,747.52 L306.87,746.97 L307.62,746.43 L308.38,745.88 L309.13,745.34 L309.89,744.79 L310.65,744.26 L311.40,743.72 L312.16,743.18 L312.92,742.65 L313.67,742.12 L314.43,741.59 L315.18,741.06 L315.94,740.53 L316.70,740.01 L317.45,739.48 L318.21,738.95 L318.97,738.43 L319.72,737.91 L320.48,737.38 L321.23,736.86 L321.99,736.33 L322.75,735.81 L323.50,735.28 L324.26,734.76 L325.02,734.23 L325.77,733.71 L326.53,733.18 L327.28,732.65 L328.04,732.12 L328.80,731.59 L329.55,731.06 L330.31,730.52 L331.07,729.98 L331.82,729.45 L332.58,728.91 L333.33,728.36 L334.09,727.82 L334.85,727.27 L335.60,726.72 L336.36,726.17 L337.12,725.61 L337.87,725.06 L338.63,724.50 L339.38,723.94 L340.14,723.37 L340.90,722.81 L341.65,722.24 L342.41,721.67 L343.17,721.10 L343.92,720.53 L344.68,719.95 L345.43,719.37 L346.19,718.80 L346.95,718.21 L347.70,717.63 L348.46,717.05 L349.22,716.46 L349.97,715.87 L350.73,715.28 L351.48,714.69 L352.24,714.09 L353.00,713.50 L353.75,712.90 L354.51,712.30 L355.27,711.70 L356.02,711.10 L356.78,710.50 L357.53,709.89 L358.29,709.28 L359.05,708.68 L359.80,708.07 L360.56,707.45 L361.32,706.84 L362.07,706.23 L362.83,705.61 L363.58,705.00 L364.34,704.38 L365.10,703.76 L365.85,703.14 L366.61,702.51 L367.37,701.89 L368.12,701.27 L368.88,700.64 L369.63,700.01 L370.39,699.38 L371.15,698.76 L371.90,698.12 L372.66,697.49 L373.42,696.86 L374.17,696.23 L374.93,695.59 L375.68,694.96 L376.44,694.32 L377.20,693.68 L377.95,693.04 L378.71,692.41 L379.47,691.77 L380.22,691.12 L380.98,690.48 L381.74,689.84 L382.49,689.20 L383.25,688.55 L384.00,687.91 L384.76,687.26 L385.52,686.62 L386.27,685.97 L387.03,685.32 L387.79,684.67 L388.54,684.03 L389.30,683.38 L390.05,682.73 L390.81,682.08 L391.57,681.43 L392.32,680.78 L393.08,680.12 L393.84,679.47 L394.59,678.82 L395.35,678.17 L396.10,677.52 L396.86,676.86 L397.62,676.21 L398.37,675.56 L399.13,674.90 L399.89,674.25 L400.64,673.59 L401.40,672.94 L402.15,672.29 L402.91,671.63 L403.67,670.98 L404.42,670.32 L405.18,669.67 L405.94,669.01 L406.69,668.36 L407.45,667.70 L408.20,667.05 L408.96,666.39 L409.72,665.74 L410.47,665.09 L411.23,664.43 L411.99,663.78 L412.74,663.12 L413.50,662.47 L414.25,661.82 L415.01,661.17 L415.77,660.51 L416.52,659.86 L417.28,659.21 L418.04,658.56 L418.79,657.91 L419.55,657.26 L420.30,656.61 L421.06,655.96 L421.82,655.31 L422.57,654.66 L423.33,654.01 L424.09,653.37 L424.84,652.72 L425.60,652.07 L426.35,651.43 L427.11,650.78 L427.87,650.14 L428.62,649.50 L429.38,648.85 L430.14,648.21 L430.89,647.57 L431.65,646.93 L432.40,646.29 L433.16,645.65 L433.92,645.02 L434.67,644.38 L435.43,643.75 L436.19,643.11 L436.94,642.48 L437.70,641.85 L438.45,641.21 L439.21,640.58 L439.97,639.95 L440.72,639.33 L441.48,638.70 L442.24,638.07 L442.99,637.45 L443.75,636.83 L444.50,636.20 L445.26,635.58 L446.02,634.96 L446.77,634.35 L447.53,633.73 L448.29,633.11 L449.04,632.50 L449.80,631.89 L450.55,631.28 L451.31,630.67 L452.07,630.06 L452.82,629.46 L453.58,628.86 L454.34,628.26 L455.09,627.66 L455.85,627.06 L456.60,626.47 L457.36,625.88 L458.12,625.29 L458.87,624.71 L459.63,624.13 L460.39,623.55 L461.14,622.97 L461.90,622.40 L462.65,621.83 L463.41,621.27 L464.17,620.70 L464.92,620.14 L465.68,619.59 L466.44,619.04 L467.19,618.49 L467.95,617.94 L468.71,617.40 L469.46,616.87 L470.22,616.32 L470.97,615.75 L471.73,615.19 L472.49,614.62 L473.24,614.06 L474.00,613.50 L474.76,612.95 L475.51,612.40 L476.27,611.85 L477.02,611.31 L477.78,610.78 L478.54,610.26 L479.29,609.74 L480.05,609.24 L480.81,608.75 L481.56,608.27 L482.32,607.80 L483.07,607.34 L483.83,606.90 L484.59,606.47 L485.34,606.05 L486.10,605.65 L486.86,605.26 L487.61,604.89 L488.37,604.52 L489.12,604.17 L489.88,603.84 L490.64,603.51 L491.39,603.20 L492.15,602.91 L492.91,602.62 L493.66,602.36 L494.42,602.10 L495.17,601.85 L495.93,601.62 L496.69,601.40 L497.44,601.19 L498.20,600.99 L498.96,600.80 L499.71,600.62 L500.47,600.44 L501.22,600.25 L501.98,600.06 L502.74,599.88 L503.49,599.70 L504.25,599.53 L505.01,599.35 L505.76,599.18 L506.52,599.01 L507.27,598.84 L508.03,598.68 L508.79,598.51 L509.54,598.34 L510.30,598.18 L511.06,598.02 L511.81,597.86 L512.57,597.69 L513.32,597.53 L514.08,597.37 L514.84,597.21 L515.59,597.05 L516.35,596.89 L517.11,596.74 L517.86,596.58 L518.62,596.42 L519.37,596.27 L520.13,596.11 L520.89,595.95 L521.64,595.80 L522.40,595.65 L523.16,595.49 L523.91,595.34 L524.67,595.19 L525.42,595.04 L526.18,594.89 L526.94,594.74 L527.69,594.59 L528.45,594.45 L529.21,594.30 L529.96,594.16 L530.72,594.01 L531.47,593.87 L532.23,593.73 L532.99,593.59 L533.74,593.45 L534.50,593.31 L535.26,593.17 L536.01,593.03 L536.77,592.90 L537.52,592.76 L538.28,592.63 L539.04,592.49 L539.79,592.36 L540.55,592.23 L541.31,592.10 L542.06,591.98 L542.82,591.85 L543.57,591.72 L544.33,591.60 L545.09,591.48 L545.84,591.36 L546.60,591.24 L547.36,591.12 L548.11,591.00 L548.87,590.88 L549.62,590.77 L550.38,590.66 L551.14,590.54 L551.89,590.43 L552.65,590.33 L553.41,590.22 L554.16,590.11 L554.92,590.01 L555.67,589.90 L556.43,589.80 L557.19,589.72 L557.94,589.69 L558.70,589.65" fill="none" stroke="rgb(255,122,0)" stroke-width="3.5" stroke-linejoin="round" stroke-linecap="butt" />
<path d="M105.70,813.17 L106.46,813.06 L107.21,812.95 L107.97,812.84 L108.73,812.74 L109.48,812.64 L110.24,812.54 L110.99,812.45 L111.75,812.36 L112.51,812.27 L113.26,812.19 L114.02,812.11 L114.78,812.03 L115.53,811.95 L116.29,811.88 L117.04,811.81 L117.80,811.75 L118.56,811.68 L119.31,811.62 L120.07,811.56 L120.83,811.50 L121.58,811.45 L122.34,811.40 L123.09,811.35 L123.85,811.30 L124.61,811.25 L125.36,811.21 L126.12,811.17 L126.88,811.13 L127.63,811.09 L128.39,811.05 L129.14,811.02 L129.90,810.99 L130.66,810.95 L131.41,810.92 L132.17,810.89 L132.93,810.87 L133.68,810.84 L134.44,810.81 L135.19,810.79 L135.95,810.77 L136.71,810.74 L137.46,810.72 L138.22,810.70 L138.98,810.68 L139.73,810.66 L140.49,810.64 L141.24,810.62 L142.00,810.61 L142.76,810.59 L143.51,810.57 L144.27,810.55 L145.03,810.54 L145.78,810.52 L146.54,810.50 L147.29,810.49 L148.05,810.47 L148.81,810.45 L149.56,810.43 L150.32,810.42 L151.08,810.40 L151.83,810.38 L152.59,810.36 L153.34,810.34 L154.10,810.32 L154.86,810.30 L155.61,810.27 L156.37,810.25 L157.13,810.22 L157.88,810.20 L158.64,810.17 L159.39,810.14 L160.15,810.12 L160.91,810.09 L161.66,810.05 L162.42,810.02 L163.18,809.99 L163.93,809.95 L164.69,809.91 L165.44,809.87 L166.20,809.83 L166.96,809.79 L167.71,809.74 L168.47,809.69 L169.23,809.64 L169.98,809.59 L170.74,809.53 L171.49,809.48 L172.25,809.42 L173.01,809.36 L173.76,809.29 L174.52,809.22 L175.28,809.15 L176.03,809.08 L176.79,809.00 L177.54,808.93 L178.30,808.84 L179.06,808.76 L179.81,808.67 L180.57,808.58 L181.33,808.48 L182.08,808.38 L182.84,808.28 L183.59,808.18 L184.35,808.07 L185.11,807.95 L185.86,807.84 L186.62,807.71 L187.38,807.59 L188.13,807.46 L188.89,807.33 L189.64,807.19 L190.40,807.05 L191.16,806.90 L191.91,806.75 L192.67,806.59 L193.43,806.43 L194.18,806.27 L194.94,806.10 L195.69,805.92 L196.45,805.74 L197.21,805.56 L197.96,805.37 L198.72,805.18 L199.48,804.98 L200.23,804.77 L200.99,804.56 L201.75,804.34 L202.50,804.12 L203.26,803.89 L204.01,803.66 L204.77,803.42 L205.53,803.18 L206.28,802.93 L207.04,802.67 L207.80,802.41 L208.55,802.14 L209.31,801.86 L210.06,801.58 L210.82,801.29 L211.58,801.00 L212.33,800.70 L213.09,800.39 L213.85,800.07 L214.60,799.75 L215.36,799.42 L216.11,799.09 L216.87,798.75 L217.63,798.40 L218.38,798.04 L219.14,797.68 L219.90,797.31 L220.65,796.93 L221.41,796.54 L222.16,796.15 L222.92,795.75 L223.68,795.34 L224.43,794.93 L225.19,794.51 L225.95,794.09 L226.70,793.65 L227.46,793.22 L228.21,792.77 L228.97,792.32 L229.73,791.86 L230.48,791.40 L231.24,790.93 L232.00,790.46 L232.75,789.98 L233.51,789.50 L234.26,789.01 L235.02,788.52 L235.78,788.02 L236.53,787.51 L237.29,787.00 L238.05,786.49 L238.80,785.97 L239.56,785.45 L240.31,784.92 L241.07,784.39 L241.83,783.86 L242.58,783.32 L243.34,782.78 L244.10,782.23 L244.85,781.68 L245.61,781.13 L246.36,780.58 L247.12,780.02 L247.88,779.45 L248.63,778.89 L249.39,778.32 L250.15,777.75 L250.90,777.18 L251.66,776.60 L252.41,776.02 L253.17,775.44 L253.93,774.86 L254.68,774.27 L255.44,773.69 L256.20,773.10 L256.95,772.51 L257.71,771.91 L258.46,771.32 L259.22,770.73 L259.98,770.13 L260.73,769.53 L261.49,768.93 L262.25,768.33 L263.00,767.74 L263.76,767.13 L264.51,766.53 L265.27,765.93 L266.03,765.33 L266.78,764.73 L267.54,764.13 L268.30,763.52 L269.05,762.92 L269.81,762.32 L270.56,761.72 L271.32,761.12 L272.08,760.52 L272.83,759.92 L273.59,759.32 L274.35,758.72 L275.10,758.12 L275.86,757.53 L276.61,756.94 L277.37,756.34 L278.13,755.75 L278.88,755.16 L279.64,754.57 L280.40,753.98 L281.15,753.40 L281.91,752.81 L282.66,752.22 L283.42,751.64 L284.18,751.06 L284.93,750.48 L285.69,749.89 L286.45,749.31 L287.20,748.73 L287.96,748.15 L288.72,747.58 L289.47,747.00 L290.23,746.42 L290.98,745.84 L291.74,745.27 L292.50,744.69 L293.25,744.12 L294.01,743.54 L294.77,742.97 L295.52,742.39 L296.28,741.82 L297.03,741.25 L297.79,740.67 L298.55,740.10 L299.30,739.53 L300.06,738.96 L300.82,738.38 L301.57,737.81 L302.33,737.24 L303.08,736.66 L303.84,736.09 L304.60,735.52 L305.35,734.94 L306.11,734.37 L306.87,733.80 L307.62,733.22 L308.38,732.65 L309.13,732.07 L309.89,731.50 L310.65,730.92 L311.40,730.34 L312.16,729.77 L312.92,729.19 L313.67,728.61 L314.43,728.03 L315.18,727.45 L315.94,726.87 L316.70,726.29 L317.45,725.71 L318.21,725.13 L318.97,724.54 L319.72,723.96 L320.48,723.37 L321.23,722.79 L321.99,722.20 L322.75,721.61 L323.50,721.02 L324.26,720.43 L325.02,719.84 L325.77,719.24 L326.53,718.65 L327.28,718.05 L328.04,717.45 L328.80,716.85 L329.55,716.25 L330.31,715.65 L331.07,715.05 L331.82,714.44 L332.58,713.83 L333.33,713.22 L334.09,712.61 L334.85,712.00 L335.60,711.39 L336.36,710.77 L337.12,710.16 L337.87,709.54 L338.63,708.92 L339.38,708.30 L340.14,707.67 L340.90,707.05 L341.65,706.43 L342.41,705.80 L343.17,705.17 L343.92,704.54 L344.68,703.91 L345.43,703.28 L346.19,702.65 L346.95,702.01 L347.70,701.38 L348.46,700.74 L349.22,700.11 L349.97,699.47 L350.73,698.83 L351.48,698.19 L352.24,697.55 L353.00,696.91 L353.75,696.27 L354.51,695.63 L355.27,694.98 L356.02,694.34 L356.78,693.70 L357.53,693.05 L358.29,692.41 L359.05,691.76 L359.80,691.11 L360.56,690.47 L361.32,689.82 L362.07,689.17 L362.83,688.52 L363.58,687.87 L364.34,687.22 L365.10,686.58 L365.85,685.93 L366.61,685.28 L367.37,684.63 L368.12,683.98 L368.88,683.33 L369.63,682.68 L370.39,682.03 L371.15,681.38 L371.90,680.73 L372.66,680.08 L373.42,679.43 L374.17,678.78 L374.93,678.13 L375.68,677.48 L376.44,676.83 L377.20,676.18 L377.95,675.53 L378.71,674.88 L379.47,674.24 L380.22,673.59 L380.98,672.94 L381.74,672.30 L382.49,671.65 L383.25,671.01 L384.00,670.36 L384.76,669.72 L385.52,669.07 L386.27,668.43 L387.03,667.79 L387.79,667.15 L388.54,666.51 L389.30,665.87 L390.05,665.23 L390.81,664.59 L391.57,663.96 L392.32,663.32 L393.08,662.68 L393.84,662.05 L394.59,661.42 L395.35,660.79 L396.10,660.16 L396.86,659.53 L397.62,658.90 L398.37,658.27 L399.13,657.65 L399.89,657.02 L400.64,656.40 L401.40,655.78 L402.15,655.16 L402.91,654.54 L403.67,653.92 L404.42,653.31 L405.18,652.69 L405.94,652.08 L406.69,651.47 L407.45,650.86 L408.20,650.25 L408.96,649.65 L409.72,649.04 L410.47,648.44 L411.23,647.84 L411.99,647.24 L412.74,646.64 L413.50,646.05 L414.25,645.46 L415.01,644.87 L415.77,644.28 L416.52,643.69 L417.28,643.11 L418.04,642.52 L418.79,641.94 L419.55,641.36 L420.30,640.79 L421.06,640.22 L421.82,639.64 L422.57,639.08 L423.33,638.51 L424.09,637.94 L424.84,637.38 L425.60,636.82 L426.35,636.27 L427.11,635.71 L427.87,635.16 L428.62,634.61 L429.38,634.07 L430.14,633.52 L430.89,632.98 L431.65,632.44 L432.40,631.91 L433.16,631.37 L433.92,630.84 L434.67,630.32 L435.43,629.79 L436.19,629.27 L436.94,628.75 L437.70,628.24 L438.45,627.73 L439.21,627.22 L439.97,626.71 L440.72,626.21 L441.48,625.71 L442.24,625.21 L442.99,624.72 L443.75,624.23 L444.50,623.75 L445.26,623.26 L446.02,622.78 L446.77,622.31 L447.53,621.83 L448.29,621.36 L449.04,620.90 L449.80,620.44 L450.55,619.98 L451.31,619.52 L452.07,619.07 L452.82,618.62 L453.58,618.18 L454.34,617.73 L455.09,617.30 L455.85,616.86 L456.60,616.43 L457.36,616.00 L458.12,615.58 L458.87,615.16 L459.63,614.74 L460.39,614.32 L461.14,613.91 L461.90,613.50 L462.65,613.10 L463.41,612.70 L464.17,612.30 L464.92,611.91 L465.68,611.52 L466.44,611.13 L467.19,610.74 L467.95,610.36 L468.71,609.99 L469.46,609.61 L470.22,609.23 L470.97,608.83 L471.73,608.42 L472.49,608.02 L473.24,607.63 L474.00,607.23 L474.76,606.83 L475.51,606.44 L476.27,606.05 L477.02,605.67 L477.78,605.29 L478.54,604.91 L479.29,604.53 L480.05,604.16 L480.81,603.80 L481.56,603.44 L482.32,603.09 L483.07,602.74 L483.83,602.41 L484.59,602.08 L485.34,601.76 L486.10,601.45 L486.86,601.14 L487.61,600.85 L488.37,600.57 L489.12,600.29 L489.88,600.02 L490.64,599.76 L491.39,599.51 L492.15,599.27 L492.91,599.04 L493.66,598.82 L494.42,598.60 L495.17,598.39 L495.93,598.19 L496.69,598.00 L497.44,597.81 L498.20,597.64 L498.96,597.46 L499.71,597.30 L500.47,597.14 L501.22,596.99 L501.98,596.83 L502.74,596.68 L503.49,596.53 L504.25,596.37 L505.01,596.22 L505.76,596.07 L506.52,595.92 L507.27,595.77 L508.03,595.63 L508.79,595.48 L509.54,595.33 L510.30,595.18 L511.06,595.04 L511.81,594.89 L512.57,594.75 L513.32,594.60 L514.08,594.46 L514.84,594.32 L515.59,594.18 L516.35,594.03 L517.11,593.89 L517.86,593.75 L518.62,593.61 L519.37,593.48 L520.13,593.34 L520.89,593.20 L521.64,593.07 L522.40,592.93 L523.16,592.80 L523.91,592.67 L524.67,592.54 L525.42,592.40 L526.18,592.28 L526.94,592.15 L527.69,592.02 L528.45,591.89 L529.21,591.77 L529.96,591.64 L530.72,591.52 L531.47,591.40 L532.23,591.28 L532.99,591.16 L533.74,591.04 L534.50,590.93 L535.26,590.81 L536.01,590.70 L536.77,590.58 L537.52,590.47 L538.28,590.36 L539.04,590.26 L539.79,590.15 L540.55,590.04 L541.31,589.94 L542.06,589.84 L542.82,589.74 L543.57,589.64 L544.33,589.54 L545.09,589.44 L545.84,589.35 L546.60,589.26 L547.36,589.17 L548.11,589.08 L548.87,588.99 L549.62,588.90 L550.38,588.82 L551.14,588.74 L551.89,588.66 L552.65,588.58 L553.41,588.50 L554.16,588.42 L554.92,588.35 L555.67,588.28 L556.43,588.21 L557.19,588.15 L557.94,588.13 L558.70,588.11" fill="none" stroke="rgb(255,140,0)" stroke-width="3.5" stroke-linejoin="round" stroke-linecap="butt" />
<path d="M105.70,813.21 L106.46,813.11 L107.21,813.02 L107.97,812.93 L108.73,812.85 L109.48,812.77 L110.24,812.70 L110.99,812.63 L111.75,812.56 L112.51,812.50 L113.26,812.45 L114.02,812.40 L114.78,812.35 L115.53,812.31 L116.29,812.27 L117.04,812.23 L117.80,812.20 L118.56,812.17 L119.31,812.14 L120.07,812.12 L120.83,812.10 L121.58,812.08 L122.34,812.07 L123.09,812.06 L123.85,812.05 L124.61,812.04 L125.36,812.04 L126.12,812.04 L126.88,812.04 L127.63,812.04 L128.39,812.04 L129.14,812.04 L129.90,812.04 L130.66,812.04 L131.41,812.04 L132.17,812.04 L132.93,812.04 L133.68,812.04 L134.44,812.04 L135.19,812.04 L135.95,812.04 L136.71,812.04 L137.46,812.04 L138.22,812.04 L138.98,812.04 L139.73,812.04 L140.49,812.04 L141.24,812.04 L142.00,812.04 L142.76,812.04 L143.51,812.04 L144.27,812.04 L145.03,812.04 L145.78,812.04 L146.54,812.04 L147.29,812.04 L148.05,812.04 L148.81,812.04 L149.56,812.04 L150.32,812.04 L151.08,812.04 L151.83,812.04 L152.59,812.04 L153.34,812.04 L154.10,812.04 L154.86,812.04 L155.61,812.04 L156.37,812.04 L157.13,812.04 L157.88,812.04 L158.64,812.04 L159.39,812.04 L160.15,812.04 L160.91,812.04 L161.66,812.04 L162.42,812.04 L163.18,812.04 L163.93,812.04 L164.69,812.04 L165.44,812.01 L166.20,811.96 L166.96,811.90 L167.71,811.84 L168.47,811.77 L169.23,811.70 L169.98,811.62 L170.74,811.54 L171.49,811.46 L172.25,811.37 L173.01,811.28 L173.76,811.18 L174.52,811.08 L175.28,810.97 L176.03,810.86 L176.79,810.74 L177.54,810.62 L178.30,810.49 L179.06,810.36 L179.81,810.22 L180.57,810.08 L181.33,809.93 L182.08,809.78 L182.84,809.62 L183.59,809.46 L184.35,809.29 L185.11,809.11 L185.86,808.93 L186.62,808.75 L187.38,808.56 L188.13,808.36 L188.89,808.15 L189.64,807.94 L190.40,807.73 L191.16,807.51 L191.91,807.28 L192.67,807.04 L193.43,806.80 L194.18,806.55 L194.94,806.30 L195.69,806.04 L196.45,805.77 L197.21,805.50 L197.96,805.22 L198.72,804.93 L199.48,804.64 L200.23,804.34 L200.99,804.03 L201.75,803.71 L202.50,803.39 L203.26,803.06 L204.01,802.72 L204.77,802.38 L205.53,802.03 L206.28,801.67 L207.04,801.30 L207.80,800.93 L208.55,800.54 L209.31,800.15 L210.06,799.76 L210.82,799.35 L211.58,798.94 L212.33,798.51 L213.09,798.08 L213.85,797.65 L214.60,797.20 L215.36,796.74 L216.11,796.28 L216.87,795.81 L217.63,795.33 L218.38,794.84 L219.14,794.34 L219.90,793.84 L220.65,793.32 L221.41,792.80 L222.16,792.27 L222.92,791.73 L223.68,791.18 L224.43,790.62 L225.19,790.06 L225.95,789.49 L226.70,788.91 L227.46,788.33 L228.21,787.74 L228.97,787.14 L229.73,786.53 L230.48,785.92 L231.24,785.30 L232.00,784.68 L232.75,784.05 L233.51,783.41 L234.26,782.77 L235.02,782.12 L235.78,781.47 L236.53,780.81 L237.29,780.15 L238.05,779.48 L238.80,778.81 L239.56,778.13 L240.31,777.45 L241.07,776.77 L241.83,776.08 L242.58,775.38 L243.34,774.69 L244.10,773.99 L244.85,773.28 L245.61,772.58 L246.36,771.87 L247.12,771.15 L247.88,770.44 L248.63,769.72 L249.39,769.00 L250.15,768.28 L250.90,767.55 L251.66,766.83 L252.41,766.10 L253.17,765.37 L253.93,764.64 L254.68,763.91 L255.44,763.17 L256.20,762.44 L256.95,761.70 L257.71,760.97 L258.46,760.23 L259.22,759.49 L259.98,758.76 L260.73,758.02 L261.49,757.29 L262.25,756.55 L263.00,755.81 L263.76,755.08 L264.51,754.35 L265.27,753.61 L266.03,752.88 L266.78,752.15 L267.54,751.43 L268.30,750.70 L269.05,749.97 L269.81,749.25 L270.56,748.53 L271.32,747.81 L272.08,747.10 L272.83,746.39 L273.59,745.68 L274.35,744.97 L275.10,744.27 L275.86,743.57 L276.61,742.87 L277.37,742.18 L278.13,741.49 L278.88,740.80 L279.64,740.12 L280.40,739.44 L281.15,738.76 L281.91,738.09 L282.66,737.42 L283.42,736.75 L284.18,736.08 L284.93,735.42 L285.69,734.76 L286.45,734.11 L287.20,733.45 L287.96,732.80 L288.72,732.16 L289.47,731.51 L290.23,730.87 L290.98,730.23 L291.74,729.59 L292.50,728.95 L293.25,728.32 L294.01,727.69 L294.77,727.06 L295.52,726.43 L296.28,725.80 L297.03,725.18 L297.79,724.56 L298.55,723.94 L299.30,723.32 L300.06,722.70 L300.82,722.08 L301.57,721.47 L302.33,720.86 L303.08,720.25 L303.84,719.64 L304.60,719.03 L305.35,718.42 L306.11,717.81 L306.87,717.21 L307.62,716.60 L308.38,716.00 L309.13,715.40 L309.89,714.79 L310.65,714.19 L311.40,713.59 L312.16,712.99 L312.92,712.39 L313.67,711.80 L314.43,711.20 L315.18,710.60 L315.94,710.00 L316.70,709.40 L317.45,708.81 L318.21,708.21 L318.97,707.61 L319.72,707.02 L320.48,706.42 L321.23,705.82 L321.99,705.22 L322.75,704.63 L323.50,704.03 L324.26,703.43 L325.02,702.83 L325.77,702.23 L326.53,701.63 L327.28,701.03 L328.04,700.43 L328.80,699.83 L329.55,699.22 L330.31,698.62 L331.07,698.02 L331.82,697.41 L332.58,696.80 L333.33,696.19 L334.09,695.59 L334.85,694.97 L335.60,694.36 L336.36,693.75 L337.12,693.14 L337.87,692.52 L338.63,691.91 L339.38,691.29 L340.14,690.67 L340.90,690.06 L341.65,689.44 L342.41,688.82 L343.17,688.20 L343.92,687.58 L344.68,686.96 L345.43,686.33 L346.19,685.71 L346.95,685.09 L347.70,684.46 L348.46,683.84 L349.22,683.22 L349.97,682.59 L350.73,681.96 L351.48,681.34 L352.24,680.71 L353.00,680.09 L353.75,679.46 L354.51,678.83 L355.27,678.20 L356.02,677.58 L356.78,676.95 L357.53,676.32 L358.29,675.70 L359.05,675.07 L359.80,674.44 L360.56,673.81 L361.32,673.19 L362.07,672.56 L362.83,671.93 L363.58,671.30 L364.34,670.68 L365.10,670.05 L365.85,669.42 L366.61,668.80 L367.37,668.17 L368.12,667.55 L368.88,666.92 L369.63,666.30 L370.39,665.68 L371.15,665.05 L371.90,664.43 L372.66,663.81 L373.42,663.19 L374.17,662.57 L374.93,661.95 L375.68,661.33 L376.44,660.71 L377.20,660.09 L377.95,659.47 L378.71,658.86 L379.47,658.24 L380.22,657.63 L380.98,657.01 L381.74,656.40 L382.49,655.79 L383.25,655.18 L384.00,654.57 L384.76,653.96 L385.52,653.36 L386.27,652.75 L387.03,652.15 L387.79,651.55 L388.54,650.94 L389.30,650.34 L390.05,649.74 L390.81,649.15 L391.57,648.55 L392.32,647.96 L393.08,647.36 L393.84,646.77 L394.59,646.18 L395.35,645.59 L396.10,645.01 L396.86,644.42 L397.62,643.84 L398.37,643.26 L399.13,642.68 L399.89,642.10 L400.64,641.52 L401.40,640.95 L402.15,640.38 L402.91,639.81 L403.67,639.24 L404.42,638.67 L405.18,638.11 L405.94,637.55 L406.69,636.99 L407.45,636.43 L408.20,635.87 L408.96,635.32 L409.72,634.77 L410.47,634.22 L411.23,633.67 L411.99,633.13 L412.74,632.59 L413.50,632.05 L414.25,631.51 L415.01,630.98 L415.77,630.45 L416.52,629.92 L417.28,629.39 L418.04,628.87 L418.79,628.35 L419.55,627.83 L420.30,627.31 L421.06,626.80 L421.82,626.29 L422.57,625.78 L423.33,625.28 L424.09,624.77 L424.84,624.28 L425.60,623.78 L426.35,623.29 L427.11,622.80 L427.87,622.31 L428.62,621.83 L429.38,621.35 L430.14,620.87 L430.89,620.40 L431.65,619.93 L432.40,619.46 L433.16,618.99 L433.92,618.53 L434.67,618.08 L435.43,617.62 L436.19,617.17 L436.94,616.72 L437.70,616.28 L438.45,615.84 L439.21,615.41 L439.97,614.97 L440.72,614.54 L441.48,614.12 L442.24,613.70 L442.99,613.28 L443.75,612.86 L444.50,612.45 L445.26,612.05 L446.02,611.65 L446.77,611.25 L447.53,610.85 L448.29,610.46 L449.04,610.07 L449.80,609.69 L450.55,609.31 L451.31,608.94 L452.07,608.57 L452.82,608.20 L453.58,607.83 L454.34,607.47 L455.09,607.12 L455.85,606.77 L456.60,606.42 L457.36,606.07 L458.12,605.73 L458.87,605.39 L459.63,605.06 L460.39,604.73 L461.14,604.40 L461.90,604.08 L462.65,603.76 L463.41,603.44 L464.17,603.13 L464.92,602.82 L465.68,602.52 L466.44,602.22 L467.19,601.92 L467.95,601.62 L468.71,601.33 L469.46,601.04 L470.22,600.75 L470.97,600.45 L471.73,600.15 L472.49,599.87 L473.24,599.59 L474.00,599.32 L474.76,599.06 L475.51,598.81 L476.27,598.57 L477.02,598.34 L477.78,598.11 L478.54,597.89 L479.29,597.68 L480.05,597.47 L480.81,597.27 L481.56,597.08 L482.32,596.88 L483.07,596.69 L483.83,596.50 L484.59,596.32 L485.34,596.13 L486.10,595.93 L486.86,595.74 L487.61,595.54 L488.37,595.34 L489.12,595.14 L489.88,594.93 L490.64,594.71 L491.39,594.50 L492.15,594.28 L492.91,594.06 L493.66,593.84 L494.42,593.63 L495.17,593.42 L495.93,593.21 L496.69,593.02 L497.44,592.83 L498.20,592.66 L498.96,592.49 L499.71,592.34 L500.47,592.19 L501.22,592.05 L501.98,591.92 L502.74,591.79 L503.49,591.67 L504.25,591.55 L505.01,591.43 L505.76,591.31 L506.52,591.20 L507.27,591.09 L508.03,590.98 L508.79,590.86 L509.54,590.75 L510.30,590.65 L511.06,590.54 L511.81,590.43 L512.57,590.33 L513.32,590.22 L514.08,590.12 L514.84,590.01 L515.59,589.91 L516.35,589.81 L517.11,589.71 L517.86,589.62 L518.62,589.52 L519.37,589.43 L520.13,589.33 L520.89,589.24 L521.64,589.15 L522.40,589.06 L523.16,588.97 L523.91,588.88 L524.67,588.79 L525.42,588.71 L526.18,588.63 L526.94,588.55 L527.69,588.47 L528.45,588.39 L529.21,588.31 L529.96,588.23 L530.72,588.16 L531.47,588.09 L532.23,588.02 L532.99,587.95 L533.74,587.88 L534.50,587.81 L535.26,587.75 L536.01,587.69 L536.77,587.63 L537.52,587.57 L538.28,587.51 L539.04,587.46 L539.79,587.40 L540.55,587.35 L541.31,587.30 L542.06,587.25 L542.82,587.21 L543.57,587.16 L544.33,587.12 L545.09,587.08 L545.84,587.04 L546.60,587.01 L547.36,586.97 L548.11,586.94 L548.87,586.91 L549.62,586.88 L550.38,586.86 L551.14,586.83 L551.89,586.81 L552.65,586.79 L553.41,586.77 L554.16,586.76 L554.92,586.74 L555.67,586.73 L556.43,586.72 L557.19,586.71 L557.94,586.71 L558.70,586.71" fill="none" stroke="rgb(255,158,0)" stroke-width="3.5" stroke-linejoin="round" stroke-linecap="butt" />
<path d="M105.70,813.15 L106.46,813.05 L107.21,812.96 L107.97,812.87 L108.73,812.78 L109.48,812.70 L110.24,812.62 L110.99,812.55 L111.75,812.48 L112.51,812.41 L113.26,812.34 L114.02,812.28 L114.78,812.23 L115.53,812.17 L116.29,812.13 L117.04,812.08 L117.80,812.03 L118.56,811.99 L119.31,811.96 L120.07,811.92 L120.83,811.89 L121.58,811.86 L122.34,811.84 L123.09,811.81 L123.85,811.79 L124.61,811.77 L125.36,811.76 L126.12,811.74 L126.88,811.73 L127.63,811.72 L128.39,811.72 L129.14,811.71 L129.90,811.71 L130.66,811.71 L131.41,811.71 L132.17,811.71 L132.93,811.71 L133.68,811.71 L134.44,811.71 L135.19,811.71 L135.95,811.71 L136.71,811.71 L137.46,811.71 L138.22,811.71 L138.98,811.71 L139.73,811.71 L140.49,811.71 L141.24,811.71 L142.00,811.71 L142.76,811.71 L143.51,811.71 L144.27,811.71 L145.03,811.71 L145.78,811.71 L146.54,811.71 L147.29,811.71 L148.05,811.71 L148.81,811.71 L149.56,811.71 L150.32,811.71 L151.08,811.71 L151.83,811.71 L152.59,811.71 L153.34,811.71 L154.10,811.71 L154.86,811.71 L155.61,811.71 L156.37,811.71 L157.13,811.71 L157.88,811.71 L158.64,811.71 L159.39,811.71 L160.15,811.71 L160.91,811.68 L161.66,811.63 L162.42,811.57 L163.18,811.51 L163.93,811.44 L164.69,811.37 L165.44,811.29 L166.20,811.21 L166.96,811.12 L167.71,811.02 L168.47,810.91 L169.23,810.80 L169.98,810.68 L170.74,810.56 L171.49,810.42 L172.25,810.28 L173.01,810.13 L173.76,809.97 L174.52,809.81 L175.28,809.63 L176.03,809.44 L176.79,809.25 L177.54,809.04 L178.30,808.83 L179.06,808.61 L179.81,808.37 L180.57,808.13 L181.33,807.87 L182.08,807.61 L182.84,807.33 L183.59,807.04 L184.35,806.74 L185.11,806.43 L185.86,806.10 L186.62,805.76 L187.38,805.41 L188.13,805.05 L188.89,804.68 L189.64,804.29 L190.40,803.89 L191.16,803.47 L191.91,803.04 L192.67,802.60 L193.43,802.14 L194.18,801.67 L194.94,801.19 L195.69,800.70 L196.45,800.20 L197.21,799.68 L197.96,799.15 L198.72,798.62 L199.48,798.07 L200.23,797.51 L200.99,796.95 L201.75,796.37 L202.50,795.79 L203.26,795.19 L204.01,794.59 L204.77,793.98 L205.53,793.37 L206.28,792.74 L207.04,792.11 L207.80,791.48 L208.55,790.84 L209.31,790.19 L210.06,789.54 L210.82,788.88 L211.58,788.21 L212.33,787.55 L213.09,786.88 L213.85,786.20 L214.60,785.53 L215.36,784.85 L216.11,784.16 L216.87,783.48 L217.63,782.79 L218.38,782.10 L219.14,781.42 L219.90,780.73 L220.65,780.04 L221.41,779.34 L222.16,778.65 L222.92,777.96 L223.68,777.27 L224.43,776.57 L225.19,775.88 L225.95,775.19 L226.70,774.49 L227.46,773.80 L228.21,773.10 L228.97,772.40 L229.73,771.71 L230.48,771.01 L231.24,770.31 L232.00,769.61 L232.75,768.91 L233.51,768.21 L234.26,767.52 L235.02,766.82 L235.78,766.11 L236.53,765.41 L237.29,764.71 L238.05,764.01 L238.80,763.31 L239.56,762.61 L240.31,761.91 L241.07,761.20 L241.83,760.50 L242.58,759.80 L243.34,759.10 L244.10,758.39 L244.85,757.69 L245.61,756.98 L246.36,756.28 L247.12,755.58 L247.88,754.87 L248.63,754.17 L249.39,753.46 L250.15,752.76 L250.90,752.05 L251.66,751.35 L252.41,750.65 L253.17,749.94 L253.93,749.24 L254.68,748.53 L255.44,747.83 L256.20,747.12 L256.95,746.42 L257.71,745.71 L258.46,745.01 L259.22,744.30 L259.98,743.60 L260.73,742.89 L261.49,742.19 L262.25,741.49 L263.00,740.78 L263.76,740.08 L264.51,739.37 L265.27,738.67 L266.03,737.97 L266.78,737.26 L267.54,736.56 L268.30,735.86 L269.05,735.16 L269.81,734.46 L270.56,733.75 L271.32,733.05 L272.08,732.35 L272.83,731.65 L273.59,730.95 L274.35,730.25 L275.10,729.55 L275.86,728.85 L276.61,728.15 L277.37,727.45 L278.13,726.76 L278.88,726.06 L279.64,725.36 L280.40,724.67 L281.15,723.97 L281.91,723.27 L282.66,722.58 L283.42,721.88 L284.18,721.19 L284.93,720.50 L285.69,719.80 L286.45,719.11 L287.20,718.42 L287.96,717.73 L288.72,717.04 L289.47,716.35 L290.23,715.66 L290.98,714.97 L291.74,714.28 L292.50,713.60 L293.25,712.91 L294.01,712.22 L294.77,711.54 L295.52,710.86 L296.28,710.17 L297.03,709.49 L297.79,708.81 L298.55,708.13 L299.30,707.45 L300.06,706.77 L300.82,706.09 L301.57,705.41 L302.33,704.74 L303.08,704.06 L303.84,703.38 L304.60,702.71 L305.35,702.04 L306.11,701.37 L306.87,700.69 L307.62,700.02 L308.38,699.36 L309.13,698.69 L309.89,698.02 L310.65,697.36 L311.40,696.69 L312.16,696.03 L312.92,695.36 L313.67,694.70 L314.43,694.04 L315.18,693.38 L315.94,692.72 L316.70,692.07 L317.45,691.41 L318.21,690.76 L318.97,690.10 L319.72,689.45 L320.48,688.80 L321.23,688.15 L321.99,687.50 L322.75,686.85 L323.50,686.21 L324.26,685.56 L325.02,684.92 L325.77,684.28 L326.53,683.64 L327.28,683.00 L328.04,682.36 L328.80,681.72 L329.55,681.09 L330.31,680.46 L331.07,679.82 L331.82,679.19 L332.58,678.56 L333.33,677.93 L334.09,677.31 L334.85,676.68 L335.60,676.06 L336.36,675.44 L337.12,674.82 L337.87,674.20 L338.63,673.58 L339.38,672.97 L340.14,672.35 L340.90,671.74 L341.65,671.13 L342.41,670.52 L343.17,669.91 L343.92,669.30 L344.68,668.70 L345.43,668.09 L346.19,667.49 L346.95,666.89 L347.70,666.29 L348.46,665.70 L349.22,665.10 L349.97,664.51 L350.73,663.91 L351.48,663.32 L352.24,662.73 L353.00,662.15 L353.75,661.56 L354.51,660.98 L355.27,660.39 L356.02,659.81 L356.78,659.24 L357.53,658.66 L358.29,658.08 L359.05,657.51 L359.80,656.94 L360.56,656.37 L361.32,655.80 L362.07,655.23 L362.83,654.66 L363.58,654.10 L364.34,653.54 L365.10,652.98 L365.85,652.42 L366.61,651.86 L367.37,651.31 L368.12,650.76 L368.88,650.20 L369.63,649.65 L370.39,649.11 L371.15,648.56 L371.90,648.02 L372.66,647.47 L373.42,646.93 L374.17,646.40 L374.93,645.86 L375.68,645.32 L376.44,644.79 L377.20,644.26 L377.95,643.73 L378.71,643.20 L379.47,642.68 L380.22,642.15 L380.98,641.63 L381.74,641.11 L382.49,640.59 L383.25,640.08 L384.00,639.56 L384.76,639.05 L385.52,638.54 L386.27,638.03 L387.03,637.52 L387.79,637.02 L388.54,636.52 L389.30,636.02 L390.05,635.52 L390.81,635.02 L391.57,634.52 L392.32,634.03 L393.08,633.54 L393.84,633.05 L394.59,632.57 L395.35,632.08 L396.10,631.60 L396.86,631.12 L397.62,630.64 L398.37,630.16 L399.13,629.69 L399.89,629.21 L400.64,628.74 L401.40,628.27 L402.15,627.81 L402.91,627.34 L403.67,626.88 L404.42,626.42 L405.18,625.96 L405.94,625.51 L406.69,625.05 L407.45,624.60 L408.20,624.15 L408.96,623.70 L409.72,623.26 L410.47,622.81 L411.23,622.37 L411.99,621.93 L412.74,621.50 L413.50,621.06 L414.25,620.63 L415.01,620.20 L415.77,619.77 L416.52,619.35 L417.28,618.92 L418.04,618.50 L418.79,618.08 L419.55,617.66 L420.30,617.25 L421.06,616.84 L421.82,616.43 L422.57,616.02 L423.33,615.61 L424.09,615.21 L424.84,614.81 L425.60,614.41 L426.35,614.01 L427.11,613.61 L427.87,613.22 L428.62,612.83 L429.38,612.44 L430.14,612.06 L430.89,611.68 L431.65,611.30 L432.40,610.92 L433.16,610.54 L433.92,610.17 L434.67,609.80 L435.43,609.43 L436.19,609.06 L436.94,608.70 L437.70,608.33 L438.45,607.97 L439.21,607.62 L439.97,607.26 L440.72,606.91 L441.48,606.56 L442.24,606.21 L442.99,605.87 L443.75,605.52 L444.50,605.18 L445.26,604.85 L446.02,604.51 L446.77,604.18 L447.53,603.85 L448.29,603.52 L449.04,603.19 L449.80,602.87 L450.55,602.55 L451.31,602.23 L452.07,601.91 L452.82,601.60 L453.58,601.29 L454.34,600.98 L455.09,600.68 L455.85,600.37 L456.60,600.07 L457.36,599.78 L458.12,599.48 L458.87,599.19 L459.63,598.90 L460.39,598.61 L461.14,598.32 L461.90,598.04 L462.65,597.76 L463.41,597.48 L464.17,597.21 L464.92,596.94 L465.68,596.67 L466.44,596.40 L467.19,596.14 L467.95,595.87 L468.71,595.62 L469.46,595.36 L470.22,595.10 L470.97,594.84 L471.73,594.59 L472.49,594.34 L473.24,594.09 L474.00,593.84 L474.76,593.60 L475.51,593.36 L476.27,593.13 L477.02,592.90 L477.78,592.67 L478.54,592.44 L479.29,592.22 L480.05,592.00 L480.81,591.79 L481.56,591.58 L482.32,591.37 L483.07,591.16 L483.83,590.96 L484.59,590.77 L485.34,590.58 L486.10,590.39 L486.86,590.21 L487.61,590.03 L488.37,589.85 L489.12,589.69 L489.88,589.52 L490.64,589.37 L491.39,589.22 L492.15,589.07 L492.91,588.94 L493.66,588.81 L494.42,588.68 L495.17,588.57 L495.93,588.46 L496.69,588.36 L497.44,588.28 L498.20,588.19 L498.96,588.12 L499.71,588.05 L500.47,587.98 L501.22,587.91 L501.98,587.84 L502.74,587.77 L503.49,587.70 L504.25,587.64 L505.01,587.57 L505.76,587.51 L506.52,587.44 L507.27,587.38 L508.03,587.32 L508.79,587.26 L509.54,587.20 L510.30,587.14 L511.06,587.08 L511.81,587.02 L512.57,586.96 L513.32,586.90 L514.08,586.85 L514.84,586.79 L515.59,586.73 L516.35,586.68 L517.11,586.63 L517.86,586.57 L518.62,586.52 L519.37,586.47 L520.13,586.42 L520.89,586.37 L521.64,586.32 L522.40,586.27 L523.16,586.22 L523.91,586.17 L524.67,586.12 L525.42,586.08 L526.18,586.03 L526.94,585.99 L527.69,585.95 L528.45,585.90 L529.21,585.86 L529.96,585.82 L530.72,585.78 L531.47,585.74 L532.23,585.70 L532.99,585.67 L533.74,585.63 L534.50,585.60 L535.26,585.56 L536.01,585.53 L536.77,585.49 L537.52,585.46 L538.28,585.43 L539.04,585.40 L539.79,585.37 L540.55,585.35 L541.31,585.32 L542.06,585.29 L542.82,585.27 L543.57,585.25 L544.33,585.22 L545.09,585.20 L545.84,585.18 L546.60,585.16 L547.36,585.14 L548.11,585.13 L548.87,585.11 L549.62,585.10 L550.38,585.08 L551.14,585.07 L551.89,585.06 L552.65,585.05 L553.41,585.04 L554.16,585.03 L554.92,585.02 L555.67,585.02 L556.43,585.01 L557.19,585.01 L557.94,585.01 L558.70,585.00" fill="none" stroke="rgb(230,165,0)" stroke-width="3.5" stroke-linejoin="round" stroke-linecap="butt" />
<path d="M105.70,813.13 L106.46,812.98 L107.21,812.83 L107.97,812.69 L108.73,812.55 L109.48,812.43 L110.24,812.31 L110.99,812.20 L111.75,812.09 L112.51,811.99 L113.26,811.90 L114.02,811.82 L114.78,811.74 L115.53,811.67 L116.29,811.60 L117.04,811.55 L117.80,811.49 L118.56,811.45 L119.31,811.41 L120.07,811.37 L120.83,811.35 L121.58,811.32 L122.34,811.31 L123.09,811.30 L123.85,811.29 L124.61,811.29 L125.36,811.29 L126.12,811.29 L126.88,811.29 L127.63,811.29 L128.39,811.29 L129.14,811.29 L129.90,811.29 L130.66,811.29 L131.41,811.29 L132.17,811.29 L132.93,811.29 L133.68,811.29 L134.44,811.29 L135.19,811.29 L135.95,811.29 L136.71,811.29 L137.46,811.29 L138.22,811.29 L138.98,811.29 L139.73,811.29 L140.49,811.29 L141.24,811.29 L142.00,811.29 L142.76,811.29 L143.51,811.29 L144.27,811.29 L145.03,811.29 L145.78,811.29 L146.54,811.29 L147.29,811.29 L148.05,811.29 L148.81,811.29 L149.56,811.29 L150.32,811.29 L151.08,811.29 L151.83,811.29 L152.59,811.29 L153.34,811.29 L154.10,811.29 L154.86,811.29 L155.61,811.29 L156.37,811.29 L157.13,811.29 L157.88,811.29 L158.64,811.29 L159.39,811.29 L160.15,811.29 L160.91,811.29 L161.66,811.29 L162.42,811.29 L163.18,811.29 L163.93,811.29 L164.69,811.29 L165.44,811.29 L166.20,811.22 L166.96,810.97 L167.71,810.71 L168.47,810.44 L169.23,810.14 L169.98,809.84 L170.74,809.52 L171.49,809.19 L172.25,808.84 L173.01,808.48 L173.76,808.11 L174.52,807.72 L175.28,807.32 L176.03,806.91 L176.79,806.49 L177.54,806.05 L178.30,805.61 L179.06,805.15 L179.81,804.68 L180.57,804.20 L181.33,803.70 L182.08,803.20 L182.84,802.69 L183.59,802.16 L184.35,801.63 L185.11,801.08 L185.86,800.53 L186.62,799.97 L187.38,799.40 L188.13,798.81 L188.89,798.22 L189.64,797.63 L190.40,797.02 L191.16,796.40 L191.91,795.78 L192.67,795.15 L193.43,794.51 L194.18,793.87 L194.94,793.21 L195.69,792.56 L196.45,791.89 L197.21,791.22 L197.96,790.54 L198.72,789.85 L199.48,789.16 L200.23,788.47 L200.99,787.77 L201.75,787.06 L202.50,786.35 L203.26,785.63 L204.01,784.91 L204.77,784.19 L205.53,783.46 L206.28,782.73 L207.04,781.99 L207.80,781.25 L208.55,780.51 L209.31,779.77 L210.06,779.02 L210.82,778.27 L211.58,777.52 L212.33,776.76 L213.09,776.00 L213.85,775.25 L214.60,774.49 L215.36,773.73 L216.11,772.96 L216.87,772.20 L217.63,771.44 L218.38,770.67 L219.14,769.91 L219.90,769.15 L220.65,768.38 L221.41,767.62 L222.16,766.86 L222.92,766.10 L223.68,765.33 L224.43,764.57 L225.19,763.81 L225.95,763.05 L226.70,762.28 L227.46,761.52 L228.21,760.76 L228.97,760.00 L229.73,759.24 L230.48,758.48 L231.24,757.72 L232.00,756.96 L232.75,756.20 L233.51,755.44 L234.26,754.68 L235.02,753.92 L235.78,753.17 L236.53,752.41 L237.29,751.65 L238.05,750.90 L238.80,750.14 L239.56,749.38 L240.31,748.63 L241.07,747.87 L241.83,747.12 L242.58,746.37 L243.34,745.61 L244.10,744.86 L244.85,744.11 L245.61,743.36 L246.36,742.60 L247.12,741.85 L247.88,741.10 L248.63,740.35 L249.39,739.61 L250.15,738.86 L250.90,738.11 L251.66,737.36 L252.41,736.62 L253.17,735.87 L253.93,735.13 L254.68,734.38 L255.44,733.64 L256.20,732.90 L256.95,732.15 L257.71,731.41 L258.46,730.67 L259.22,729.93 L259.98,729.19 L260.73,728.46 L261.49,727.72 L262.25,726.98 L263.00,726.25 L263.76,725.51 L264.51,724.78 L265.27,724.04 L266.03,723.31 L266.78,722.58 L267.54,721.85 L268.30,721.12 L269.05,720.39 L269.81,719.66 L270.56,718.94 L271.32,718.21 L272.08,717.49 L272.83,716.76 L273.59,716.04 L274.35,715.32 L275.10,714.60 L275.86,713.88 L276.61,713.16 L277.37,712.44 L278.13,711.72 L278.88,711.01 L279.64,710.30 L280.40,709.58 L281.15,708.87 L281.91,708.16 L282.66,707.45 L283.42,706.74 L284.18,706.03 L284.93,705.33 L285.69,704.62 L286.45,703.92 L287.20,703.22 L287.96,702.51 L288.72,701.81 L289.47,701.11 L290.23,700.42 L290.98,699.72 L291.74,699.03 L292.50,698.33 L293.25,697.64 L294.01,696.95 L294.77,696.26 L295.52,695.57 L296.28,694.88 L297.03,694.20 L297.79,693.51 L298.55,692.83 L299.30,692.15 L300.06,691.47 L300.82,690.79 L301.57,690.11 L302.33,689.44 L303.08,688.76 L303.84,688.09 L304.60,687.42 L305.35,686.75 L306.11,686.08 L306.87,685.42 L307.62,684.75 L308.38,684.09 L309.13,683.43 L309.89,682.77 L310.65,682.11 L311.40,681.45 L312.16,680.80 L312.92,680.14 L313.67,679.49 L314.43,678.84 L315.18,678.19 L315.94,677.54 L316.70,676.90 L317.45,676.25 L318.21,675.61 L318.97,674.97 L319.72,674.33 L320.48,673.70 L321.23,673.06 L321.99,672.43 L322.75,671.80 L323.50,671.17 L324.26,670.54 L325.02,669.92 L325.77,669.29 L326.53,668.67 L327.28,668.05 L328.04,667.43 L328.80,666.81 L329.55,666.20 L330.31,665.59 L331.07,664.98 L331.82,664.37 L332.58,663.76 L333.33,663.16 L334.09,662.55 L334.85,661.95 L335.60,661.35 L336.36,660.76 L337.12,660.16 L337.87,659.57 L338.63,658.98 L339.38,658.39 L340.14,657.80 L340.90,657.22 L341.65,656.64 L342.41,656.05 L343.17,655.48 L343.92,654.90 L344.68,654.32 L345.43,653.75 L346.19,653.18 L346.95,652.61 L347.70,652.05 L348.46,651.48 L349.22,650.92 L349.97,650.36 L350.73,649.80 L351.48,649.24 L352.24,648.69 L353.00,648.14 L353.75,647.59 L354.51,647.04 L355.27,646.49 L356.02,645.95 L356.78,645.40 L357.53,644.86 L358.29,644.33 L359.05,643.79 L359.80,643.26 L360.56,642.72 L361.32,642.20 L362.07,641.67 L362.83,641.14 L363.58,640.62 L364.34,640.10 L365.10,639.58 L365.85,639.06 L366.61,638.55 L367.37,638.03 L368.12,637.52 L368.88,637.01 L369.63,636.51 L370.39,636.00 L371.15,635.50 L371.90,635.00 L372.66,634.50 L373.42,634.01 L374.17,633.51 L374.93,633.02 L375.68,632.53 L376.44,632.04 L377.20,631.56 L377.95,631.07 L378.71,630.59 L379.47,630.11 L380.22,629.64 L380.98,629.16 L381.74,628.69 L382.49,628.22 L383.25,627.75 L384.00,627.29 L384.76,626.82 L385.52,626.36 L386.27,625.90 L387.03,625.44 L387.79,624.99 L388.54,624.54 L389.30,624.09 L390.05,623.64 L390.81,623.19 L391.57,622.75 L392.32,622.30 L393.08,621.86 L393.84,621.43 L394.59,620.99 L395.35,620.56 L396.10,620.13 L396.86,619.70 L397.62,619.27 L398.37,618.85 L399.13,618.43 L399.89,618.01 L400.64,617.59 L401.40,617.17 L402.15,616.76 L402.91,616.35 L403.67,615.94 L404.42,615.53 L405.18,615.13 L405.94,614.73 L406.69,614.33 L407.45,613.93 L408.20,613.54 L408.96,613.14 L409.72,612.75 L410.47,612.36 L411.23,611.98 L411.99,611.59 L412.74,611.21 L413.50,610.83 L414.25,610.46 L415.01,610.08 L415.77,609.71 L416.52,609.34 L417.28,608.97 L418.04,608.61 L418.79,608.24 L419.55,607.88 L420.30,607.52 L421.06,607.17 L421.82,606.81 L422.57,606.46 L423.33,606.11 L424.09,605.76 L424.84,605.42 L425.60,605.08 L426.35,604.74 L427.11,604.40 L427.87,604.06 L428.62,603.73 L429.38,603.40 L430.14,603.07 L430.89,602.75 L431.65,602.42 L432.40,602.10 L433.16,601.78 L433.92,601.46 L434.67,601.15 L435.43,600.84 L436.19,600.53 L436.94,600.22 L437.70,599.92 L438.45,599.61 L439.21,599.31 L439.97,599.01 L440.72,598.72 L441.48,598.43 L442.24,598.14 L442.99,597.85 L443.75,597.56 L444.50,597.28 L445.26,597.00 L446.02,596.72 L446.77,596.44 L447.53,596.17 L448.29,595.90 L449.04,595.63 L449.80,595.36 L450.55,595.10 L451.31,594.83 L452.07,594.58 L452.82,594.32 L453.58,594.06 L454.34,593.81 L455.09,593.56 L455.85,593.31 L456.60,593.07 L457.36,592.83 L458.12,592.59 L458.87,592.35 L459.63,592.11 L460.39,591.88 L461.14,591.65 L461.90,591.42 L462.65,591.20 L463.41,590.98 L464.17,590.76 L464.92,590.54 L465.68,590.32 L466.44,590.11 L467.19,589.90 L467.95,589.69 L468.71,589.49 L469.46,589.28 L470.22,589.08 L470.97,588.88 L471.73,588.67 L472.49,588.48 L473.24,588.28 L474.00,588.09 L474.76,587.91 L475.51,587.72 L476.27,587.54 L477.02,587.37 L477.78,587.20 L478.54,587.03 L479.29,586.87 L480.05,586.71 L480.81,586.56 L481.56,586.41 L482.32,586.26 L483.07,586.12 L483.83,585.98 L484.59,585.84 L485.34,585.71 L486.10,585.59 L486.86,585.46 L487.61,585.35 L488.37,585.23 L489.12,585.12 L489.88,585.02 L490.64,584.91 L491.39,584.82 L492.15,584.73 L492.91,584.64 L493.66,584.55 L494.42,584.47 L495.17,584.40 L495.93,584.33 L496.69,584.26 L497.44,584.20 L498.20,584.14 L498.96,584.08 L499.71,584.03 L500.47,583.97 L501.22,583.90 L501.98,583.83 L502.74,583.77 L503.49,583.70 L504.25,583.64 L505.01,583.57 L505.76,583.51 L506.52,583.45 L507.27,583.39 L508.03,583.33 L508.79,583.27 L509.54,583.21 L510.30,583.15 L511.06,583.09 L511.81,583.04 L512.57,582.98 L513.32,582.93 L514.08,582.88 L514.84,582.83 L515.59,582.78 L516.35,582.74 L517.11,582.69 L517.86,582.65 L518.62,582.61 L519.37,582.57 L520.13,582.54 L520.89,582.50 L521.64,582.47 L522.40,582.45 L523.16,582.42 L523.91,582.40 L524.67,582.38 L525.42,582.36 L526.18,582.35 L526.94,582.34 L527.69,582.33 L528.45,582.32 L529.21,582.32 L529.96,582.31 L530.72,582.31 L531.47,582.31 L532.23,582.32 L532.99,582.32 L533.74,582.33 L534.50,582.33 L535.26,582.34 L536.01,582.35 L536.77,582.36 L537.52,582.37 L538.28,582.38 L539.04,582.40 L539.79,582.41 L540.55,582.43 L541.31,582.44 L542.06,582.46 L542.82,582.48 L543.57,582.51 L544.33,582.53 L545.09,582.55 L545.84,582.58 L546.60,582.61 L547.36,582.64 L548.11,582.67 L548.87,582.70 L549.62,582.74 L550.38,582.78 L551.14,582.82 L551.89,582.86 L552.65,582.90 L553.41,582.94 L554.16,582.99 L554.92,583.04 L555.67,583.09 L556.43,583.14 L557.19,583.18 L557.94,583.20 L558.70,583.21" fill="none" stroke="rgb(200,160,0)" stroke-width="3.5" stroke-linejoin="round" stroke-linecap="butt" />
<path d="M105.70,811.60 L107.22,811.60 L108.73,811.60 L110.25,811.60 L111.76,811.60 L113.28,811.60 L114.79,811.60 L116.31,811.60 L117.82,811.60 L119.34,811.60 L120.85,811.60 L122.37,811.60 L123.88,811.60 L125.40,811.60 L126.91,811.60 L128.43,811.60 L129.94,811.60 L131.46,811.60 L132.97,811.60 L134.49,811.60 L136.00,811.60 L137.52,811.60 L139.03,811.60 L140.55,811.60 L142.06,811.60 L143.58,811.59 L145.09,811.15 L146.61,810.67 L148.12,810.15 L149.64,809.58 L151.15,808.97 L152.67,808.30 L154.18,807.58 L155.70,806.82 L157.21,806.00 L158.73,805.12 L160.24,804.19 L161.76,803.21 L163.27,802.17 L164.79,801.07 L166.30,799.91 L167.82,798.70 L169.33,797.44 L170.85,796.13 L172.36,794.77 L173.88,793.36 L175.39,791.91 L176.91,790.41 L178.42,788.87 L179.94,787.30 L181.45,785.68 L182.97,784.02 L184.48,782.33 L186.00,780.61 L187.51,778.86 L189.03,777.07 L190.54,775.26 L192.06,773.42 L193.57,771.55 L195.09,769.66 L196.60,767.75 L198.12,765.82 L199.63,763.87 L201.15,761.90 L202.66,759.92 L204.18,757.93 L205.69,755.92 L207.21,753.91 L208.72,751.88 L210.24,749.85 L211.75,747.81 L213.27,745.77 L214.78,743.73 L216.30,741.69 L217.81,739.65 L219.33,737.62 L220.84,735.59 L222.36,733.56 L223.87,731.54 L225.39,729.53 L226.90,727.53 L228.42,725.54 L229.93,723.56 L231.45,721.58 L232.96,719.62 L234.48,717.67 L235.99,715.74 L237.51,713.82 L239.02,711.91 L240.54,710.02 L242.05,708.15 L243.57,706.29 L245.08,704.46 L246.60,702.64 L248.11,700.84 L249.63,699.06 L251.14,697.30 L252.66,695.56 L254.17,693.85 L255.69,692.15 L257.21,690.47 L258.72,688.81 L260.24,687.17 L261.75,685.56 L263.27,683.96 L264.78,682.38 L266.30,680.82 L267.81,679.29 L269.33,677.77 L270.84,676.27 L272.36,674.79 L273.87,673.33 L275.39,671.89 L276.90,670.47 L278.42,669.07 L279.93,667.69 L281.45,666.33 L282.96,664.98 L284.48,663.66 L285.99,662.35 L287.51,661.06 L289.02,659.78 L290.54,658.52 L292.05,657.28 L293.57,656.06 L295.08,654.85 L296.60,653.65 L298.11,652.47 L299.63,651.30 L301.14,650.15 L302.66,649.01 L304.17,647.89 L305.69,646.77 L307.20,645.67 L308.72,644.59 L310.23,643.51 L311.75,642.45 L313.26,641.39 L314.78,640.35 L316.29,639.32 L317.81,638.30 L319.32,637.29 L320.84,636.29 L322.35,635.29 L323.87,634.31 L325.38,633.33 L326.90,632.37 L328.41,631.41 L329.93,630.45 L331.44,629.51 L332.96,628.57 L334.47,627.63 L335.99,626.71 L337.50,625.79 L339.02,624.88 L340.53,623.97 L342.05,623.07 L343.56,622.18 L345.08,621.29 L346.59,620.41 L348.11,619.54 L349.62,618.67 L351.14,617.81 L352.65,616.96 L354.17,616.12 L355.68,615.28 L357.20,614.45 L358.71,613.63 L360.23,612.81 L361.74,612.01 L363.26,611.21 L364.77,610.42 L366.29,609.63 L367.80,608.86 L369.32,608.09 L370.83,607.33 L372.35,606.58 L373.86,605.84 L375.38,605.10 L376.89,604.37 L378.41,603.66 L379.92,602.95 L381.44,602.24 L382.95,601.55 L384.47,600.87 L385.98,600.19 L387.50,599.53 L389.01,598.87 L390.53,598.22 L392.04,597.58 L393.56,596.95 L395.07,596.33 L396.59,595.71 L398.10,595.11 L399.62,594.52 L401.13,593.93 L402.65,593.36 L404.16,592.79 L405.68,592.24 L407.19,591.69 L408.71,591.16 L410.23,590.63 L411.74,590.12 L413.26,589.61 L414.77,589.11 L416.29,588.63 L417.80,588.15 L419.32,587.69 L420.83,587.23 L422.35,586.79 L423.86,586.36 L425.38,585.93 L426.89,585.52 L428.41,585.12 L429.92,584.73 L431.44,584.35 L432.95,583.98 L434.47,583.62 L435.98,583.27 L437.50,582.94 L439.01,582.61 L440.53,582.30 L442.04,582.00 L443.56,581.71 L445.07,581.43 L446.59,581.16 L448.10,580.91 L449.62,580.66 L451.13,580.43 L452.65,580.21 L454.16,579.99 L455.68,579.79 L457.19,579.60 L458.71,579.42 L460.22,579.25 L461.74,579.09 L463.25,578.94 L464.77,578.80 L466.28,578.67 L467.80,578.55 L469.31,578.43 L470.83,578.33 L472.34,578.23 L473.86,578.14 L475.37,578.06 L476.89,577.99 L478.40,577.93 L479.92,577.87 L481.43,577.82 L482.95,577.77 L484.46,577.74 L485.98,577.71 L487.49,577.69 L489.01,577.67 L490.52,577.66 L492.04,577.65 L493.55,577.65 L495.07,577.66 L496.58,577.67 L498.10,577.69 L499.61,577.71 L501.13,577.74 L502.64,577.77 L504.16,577.80 L505.67,577.84 L507.19,577.88 L508.70,577.93 L510.22,577.98 L511.73,578.03 L513.25,578.09 L514.76,578.15 L516.28,578.21 L517.79,578.28 L519.31,578.34 L520.82,578.41 L522.34,578.48 L523.85,578.56 L525.37,578.63 L526.88,578.71 L528.40,578.78 L529.91,578.86 L531.43,578.94 L532.94,579.02 L534.46,579.10 L535.97,579.18 L537.49,579.26 L539.00,579.34 L540.52,579.42 L542.03,579.50 L543.55,579.57 L545.06,579.65 L546.58,579.73 L548.09,579.80 L549.61,579.87 L551.12,579.94 L552.64,580.01 L554.15,580.08 L555.67,580.14 L557.18,580.20 L558.70,580.26" fill="none" stroke="rgb(130,150,10)" stroke-width="3.5" stroke-linejoin="round" stroke-linecap="butt" />
<path d="M105.70,810.13 L107.22,810.13 L108.73,810.13 L110.25,810.13 L111.76,810.13 L113.28,810.13 L114.79,810.13 L116.31,810.13 L117.82,810.13 L119.34,810.13 L120.85,810.13 L122.37,810.13 L123.88,810.13 L125.40,810.13 L126.91,810.13 L128.43,810.13 L129.94,810.13 L131.46,810.13 L132.97,810.01 L134.49,809.31 L136.00,808.53 L137.52,807.69 L139.03,806.77 L140.55,805.79 L142.06,804.74 L143.58,803.62 L145.09,802.43 L146.61,801.18 L148.12,799.87 L149.64,798.49 L151.15,797.05 L152.67,795.55 L154.18,793.99 L155.70,792.37 L157.21,790.69 L158.73,788.95 L160.24,787.16 L161.76,785.32 L163.27,783.42 L164.79,781.46 L166.30,779.46 L167.82,777.41 L169.33,775.32 L170.85,773.18 L172.36,771.00 L173.88,768.79 L175.39,766.54 L176.91,764.25 L178.42,761.94 L179.94,759.60 L181.45,757.23 L182.97,754.84 L184.48,752.43 L186.00,750.00 L187.51,747.56 L189.03,745.10 L190.54,742.64 L192.06,740.16 L193.57,737.68 L195.09,735.19 L196.60,732.71 L198.12,730.22 L199.63,727.74 L201.15,725.27 L202.66,722.81 L204.18,720.35 L205.69,717.91 L207.21,715.49 L208.72,713.08 L210.24,710.70 L211.75,708.34 L213.27,706.00 L214.78,703.70 L216.30,701.42 L217.81,699.18 L219.33,696.97 L220.84,694.81 L222.36,692.68 L223.87,690.58 L225.39,688.52 L226.90,686.50 L228.42,684.51 L229.93,682.56 L231.45,680.64 L232.96,678.75 L234.48,676.90 L235.99,675.08 L237.51,673.28 L239.02,671.52 L240.54,669.79 L242.05,668.09 L243.57,666.42 L245.08,664.77 L246.60,663.15 L248.11,661.56 L249.63,659.99 L251.14,658.45 L252.66,656.94 L254.17,655.45 L255.69,653.98 L257.21,652.53 L258.72,651.11 L260.24,649.71 L261.75,648.33 L263.27,646.97 L264.78,645.63 L266.30,644.31 L267.81,643.01 L269.33,641.72 L270.84,640.46 L272.36,639.20 L273.87,637.97 L275.39,636.75 L276.90,635.55 L278.42,634.35 L279.93,633.18 L281.45,632.02 L282.96,630.87 L284.48,629.74 L285.99,628.62 L287.51,627.51 L289.02,626.42 L290.54,625.34 L292.05,624.27 L293.57,623.22 L295.08,622.18 L296.60,621.16 L298.11,620.14 L299.63,619.15 L301.14,618.16 L302.66,617.19 L304.17,616.23 L305.69,615.28 L307.20,614.34 L308.72,613.42 L310.23,612.51 L311.75,611.61 L313.26,610.72 L314.78,609.85 L316.29,608.99 L317.81,608.14 L319.32,607.30 L320.84,606.48 L322.35,605.66 L323.87,604.86 L325.38,604.07 L326.90,603.29 L328.41,602.52 L329.93,601.76 L331.44,601.01 L332.96,600.28 L334.47,599.55 L335.99,598.84 L337.50,598.13 L339.02,597.44 L340.53,596.76 L342.05,596.09 L343.56,595.43 L345.08,594.78 L346.59,594.14 L348.11,593.51 L349.62,592.89 L351.14,592.28 L352.65,591.68 L354.17,591.09 L355.68,590.51 L357.20,589.94 L358.71,589.38 L360.23,588.83 L361.74,588.29 L363.26,587.76 L364.77,587.24 L366.29,586.73 L367.80,586.23 L369.32,585.74 L370.83,585.25 L372.35,584.78 L373.86,584.32 L375.38,583.86 L376.89,583.42 L378.41,582.98 L379.92,582.55 L381.44,582.13 L382.95,581.72 L384.47,581.32 L385.98,580.93 L387.50,580.54 L389.01,580.17 L390.53,579.80 L392.04,579.44 L393.56,579.09 L395.07,578.75 L396.59,578.42 L398.10,578.09 L399.62,577.78 L401.13,577.47 L402.65,577.17 L404.16,576.87 L405.68,576.59 L407.19,576.31 L408.71,576.04 L410.23,575.78 L411.74,575.52 L413.26,575.28 L414.77,575.04 L416.29,574.81 L417.80,574.58 L419.32,574.36 L420.83,574.16 L422.35,573.95 L423.86,573.76 L425.38,573.57 L426.89,573.39 L428.41,573.21 L429.92,573.05 L431.44,572.88 L432.95,572.73 L434.47,572.58 L435.98,572.44 L437.50,572.31 L439.01,572.18 L440.53,572.06 L442.04,571.94 L443.56,571.83 L445.07,571.73 L446.59,571.64 L448.10,571.55 L449.62,571.46 L451.13,571.38 L452.65,571.31 L454.16,571.24 L455.68,571.18 L457.19,571.13 L458.71,571.08 L460.22,571.04 L461.74,571.00 L463.25,570.96 L464.77,570.94 L466.28,570.91 L467.80,570.90 L469.31,570.89 L470.83,570.88 L472.34,570.88 L473.86,570.88 L475.37,570.89 L476.89,570.90 L478.40,570.92 L479.92,570.95 L481.43,570.97 L482.95,571.01 L484.46,571.04 L485.98,571.08 L487.49,571.13 L489.01,571.18 L490.52,571.23 L492.04,571.29 L493.55,571.36 L495.07,571.42 L496.58,571.50 L498.10,571.57 L499.61,571.65 L501.13,571.73 L502.64,571.82 L504.16,571.91 L505.67,572.00 L507.19,572.10 L508.70,572.20 L510.22,572.31 L511.73,572.42 L513.25,572.53 L514.76,572.64 L516.28,572.76 L517.79,572.88 L519.31,573.01 L520.82,573.13 L522.34,573.26 L523.85,573.40 L525.37,573.53 L526.88,573.67 L528.40,573.81 L529.91,573.96 L531.43,574.10 L532.94,574.25 L534.46,574.40 L535.97,574.56 L537.49,574.71 L539.00,574.87 L540.52,575.03 L542.03,575.20 L543.55,575.36 L545.06,575.53 L546.58,575.70 L548.09,575.87 L549.61,576.04 L551.12,576.22 L552.64,576.39 L554.15,576.57 L555.67,576.75 L557.18,576.93 L558.70,577.11" fill="none" stroke="rgb(50,140,0)" stroke-width="3.5" stroke-linejoin="round" stroke-linecap="butt" />
<path d="M105.70,809.34 L107.22,809.34 L108.73,809.34 L110.25,809.34 L111.76,809.34 L113.28,809.34 L114.79,809.34 L116.31,809.34 L117.82,809.34 L119.34,809.34 L120.85,809.34 L122.37,808.98 L123.88,808.17 L125.40,807.22 L126.91,806.15 L128.43,804.95 L129.94,803.64 L131.46,802.20 L132.97,800.64 L134.49,798.96 L136.00,797.17 L137.52,795.26 L139.03,793.25 L140.55,791.15 L142.06,788.95 L143.58,786.67 L145.09,784.31 L146.61,781.87 L148.12,779.38 L149.64,776.82 L151.15,774.21 L152.67,771.55 L154.18,768.85 L155.70,766.12 L157.21,763.36 L158.73,760.57 L160.24,757.78 L161.76,754.97 L163.27,752.16 L164.79,749.36 L166.30,746.55 L167.82,743.75 L169.33,740.95 L170.85,738.16 L172.36,735.37 L173.88,732.59 L175.39,729.82 L176.91,727.06 L178.42,724.31 L179.94,721.57 L181.45,718.84 L182.97,716.12 L184.48,713.42 L186.00,710.74 L187.51,708.07 L189.03,705.41 L190.54,702.78 L192.06,700.16 L193.57,697.57 L195.09,694.99 L196.60,692.44 L198.12,689.91 L199.63,687.41 L201.15,684.93 L202.66,682.48 L204.18,680.05 L205.69,677.66 L207.21,675.29 L208.72,672.95 L210.24,670.64 L211.75,668.37 L213.27,666.13 L214.78,663.92 L216.30,661.75 L217.81,659.61 L219.33,657.52 L220.84,655.46 L222.36,653.43 L223.87,651.45 L225.39,649.50 L226.90,647.59 L228.42,645.71 L229.93,643.87 L231.45,642.07 L232.96,640.30 L234.48,638.56 L235.99,636.86 L237.51,635.19 L239.02,633.55 L240.54,631.95 L242.05,630.38 L243.57,628.84 L245.08,627.33 L246.60,625.86 L248.11,624.41 L249.63,623.00 L251.14,621.61 L252.66,620.25 L254.17,618.92 L255.69,617.62 L257.21,616.35 L258.72,615.11 L260.24,613.89 L261.75,612.70 L263.27,611.54 L264.78,610.40 L266.30,609.29 L267.81,608.20 L269.33,607.14 L270.84,606.10 L272.36,605.08 L273.87,604.09 L275.39,603.12 L276.90,602.18 L278.42,601.25 L279.93,600.35 L281.45,599.47 L282.96,598.61 L284.48,597.77 L285.99,596.95 L287.51,596.15 L289.02,595.37 L290.54,594.60 L292.05,593.86 L293.57,593.13 L295.08,592.42 L296.60,591.73 L298.11,591.06 L299.63,590.40 L301.14,589.75 L302.66,589.12 L304.17,588.51 L305.69,587.91 L307.20,587.33 L308.72,586.75 L310.23,586.20 L311.75,585.65 L313.26,585.12 L314.78,584.60 L316.29,584.09 L317.81,583.59 L319.32,583.10 L320.84,582.62 L322.35,582.15 L323.87,581.69 L325.38,581.25 L326.90,580.80 L328.41,580.37 L329.93,579.95 L331.44,579.53 L332.96,579.12 L334.47,578.71 L335.99,578.31 L337.50,577.92 L339.02,577.53 L340.53,577.16 L342.05,576.78 L343.56,576.42 L345.08,576.06 L346.59,575.70 L348.11,575.35 L349.62,575.01 L351.14,574.68 L352.65,574.35 L354.17,574.02 L355.68,573.71 L357.20,573.40 L358.71,573.09 L360.23,572.79 L361.74,572.50 L363.26,572.21 L364.77,571.93 L366.29,571.65 L367.80,571.38 L369.32,571.12 L370.83,570.86 L372.35,570.61 L373.86,570.36 L375.38,570.12 L376.89,569.89 L378.41,569.66 L379.92,569.44 L381.44,569.22 L382.95,569.01 L384.47,568.80 L385.98,568.60 L387.50,568.40 L389.01,568.21 L390.53,568.03 L392.04,567.85 L393.56,567.67 L395.07,567.51 L396.59,567.34 L398.10,567.18 L399.62,567.03 L401.13,566.88 L402.65,566.74 L404.16,566.61 L405.68,566.47 L407.19,566.35 L408.71,566.23 L410.23,566.11 L411.74,566.00 L413.26,565.89 L414.77,565.79 L416.29,565.70 L417.80,565.60 L419.32,565.52 L420.83,565.44 L422.35,565.36 L423.86,565.29 L425.38,565.22 L426.89,565.16 L428.41,565.10 L429.92,565.05 L431.44,565.00 L432.95,564.96 L434.47,564.92 L435.98,564.89 L437.50,564.86 L439.01,564.84 L440.53,564.82 L442.04,564.80 L443.56,564.79 L445.07,564.78 L446.59,564.78 L448.10,564.79 L449.62,564.79 L451.13,564.80 L452.65,564.82 L454.16,564.84 L455.68,564.86 L457.19,564.89 L458.71,564.93 L460.22,564.96 L461.74,565.00 L463.25,565.05 L464.77,565.10 L466.28,565.15 L467.80,565.21 L469.31,565.27 L470.83,565.34 L472.34,565.41 L473.86,565.48 L475.37,565.56 L476.89,565.64 L478.40,565.73 L479.92,565.82 L481.43,565.91 L482.95,566.01 L484.46,566.11 L485.98,566.21 L487.49,566.32 L489.01,566.43 L490.52,566.55 L492.04,566.67 L493.55,566.79 L495.07,566.92 L496.58,567.05 L498.10,567.18 L499.61,567.32 L501.13,567.46 L502.64,567.60 L504.16,567.75 L505.67,567.90 L507.19,568.06 L508.70,568.22 L510.22,568.38 L511.73,568.54 L513.25,568.71 L514.76,568.88 L516.28,569.05 L517.79,569.23 L519.31,569.41 L520.82,569.59 L522.34,569.78 L523.85,569.97 L525.37,570.16 L526.88,570.36 L528.40,570.56 L529.91,570.76 L531.43,570.96 L532.94,571.17 L534.46,571.38 L535.97,571.60 L537.49,571.81 L539.00,572.03 L540.52,572.25 L542.03,572.48 L543.55,572.71 L545.06,572.94 L546.58,573.17 L548.09,573.40 L549.61,573.64 L551.12,573.88 L552.64,574.12 L554.15,574.37 L555.67,574.62 L557.18,574.87 L558.70,575.12" fill="none" stroke="rgb(0,120,20)" stroke-width="3.5" stroke-linejoin="round" stroke-linecap="butt" />
<path d="M105.70,804.43 L107.22,803.94 L108.73,803.28 L110.25,802.45 L111.76,801.46 L113.28,800.32 L114.79,799.02 L116.31,797.58 L117.82,795.99 L119.34,794.28 L120.85,792.43 L122.37,790.46 L123.88,788.37 L125.40,786.17 L126.91,783.85 L128.43,781.44 L129.94,778.93 L131.46,776.33 L132.97,773.64 L134.49,770.87 L136.00,768.03 L137.52,765.12 L139.03,762.14 L140.55,759.10 L142.06,756.01 L143.58,752.87 L145.09,749.69 L146.61,746.47 L148.12,743.22 L149.64,739.94 L151.15,736.64 L152.67,733.33 L154.18,730.00 L155.70,726.67 L157.21,723.34 L158.73,720.02 L160.24,716.70 L161.76,713.41 L163.27,710.13 L164.79,706.88 L166.30,703.66 L167.82,700.46 L169.33,697.29 L170.85,694.15 L172.36,691.04 L173.88,687.96 L175.39,684.92 L176.91,681.90 L178.42,678.92 L179.94,675.97 L181.45,673.06 L182.97,670.19 L184.48,667.35 L186.00,664.56 L187.51,661.80 L189.03,659.08 L190.54,656.40 L192.06,653.77 L193.57,651.18 L195.09,648.63 L196.60,646.13 L198.12,643.67 L199.63,641.26 L201.15,638.90 L202.66,636.59 L204.18,634.33 L205.69,632.12 L207.21,629.96 L208.72,627.86 L210.24,625.81 L211.75,623.81 L213.27,621.87 L214.78,619.98 L216.30,618.16 L217.81,616.39 L219.33,614.68 L220.84,613.03 L222.36,611.44 L223.87,609.91 L225.39,608.44 L226.90,607.01 L228.42,605.64 L229.93,604.33 L231.45,603.06 L232.96,601.84 L234.48,600.66 L235.99,599.53 L237.51,598.45 L239.02,597.41 L240.54,596.40 L242.05,595.44 L243.57,594.51 L245.08,593.62 L246.60,592.76 L248.11,591.94 L249.63,591.15 L251.14,590.38 L252.66,589.65 L254.17,588.94 L255.69,588.26 L257.21,587.60 L258.72,586.96 L260.24,586.34 L261.75,585.74 L263.27,585.16 L264.78,584.59 L266.30,584.04 L267.81,583.50 L269.33,582.97 L270.84,582.45 L272.36,581.94 L273.87,581.44 L275.39,580.94 L276.90,580.45 L278.42,579.95 L279.93,579.46 L281.45,578.98 L282.96,578.50 L284.48,578.02 L285.99,577.54 L287.51,577.07 L289.02,576.60 L290.54,576.13 L292.05,575.67 L293.57,575.21 L295.08,574.76 L296.60,574.31 L298.11,573.87 L299.63,573.43 L301.14,572.99 L302.66,572.56 L304.17,572.14 L305.69,571.72 L307.20,571.30 L308.72,570.89 L310.23,570.49 L311.75,570.09 L313.26,569.69 L314.78,569.30 L316.29,568.92 L317.81,568.54 L319.32,568.17 L320.84,567.81 L322.35,567.45 L323.87,567.10 L325.38,566.75 L326.90,566.41 L328.41,566.08 L329.93,565.76 L331.44,565.44 L332.96,565.13 L334.47,564.82 L335.99,564.52 L337.50,564.23 L339.02,563.95 L340.53,563.67 L342.05,563.41 L343.56,563.14 L345.08,562.89 L346.59,562.64 L348.11,562.40 L349.62,562.16 L351.14,561.93 L352.65,561.71 L354.17,561.49 L355.68,561.28 L357.20,561.08 L358.71,560.88 L360.23,560.69 L361.74,560.51 L363.26,560.33 L364.77,560.16 L366.29,560.00 L367.80,559.84 L369.32,559.68 L370.83,559.54 L372.35,559.40 L373.86,559.26 L375.38,559.13 L376.89,559.01 L378.41,558.89 L379.92,558.78 L381.44,558.67 L382.95,558.57 L384.47,558.47 L385.98,558.38 L387.50,558.30 L389.01,558.22 L390.53,558.15 L392.04,558.08 L393.56,558.02 L395.07,557.96 L396.59,557.91 L398.10,557.86 L399.62,557.82 L401.13,557.78 L402.65,557.75 L404.16,557.72 L405.68,557.70 L407.19,557.68 L408.71,557.67 L410.23,557.66 L411.74,557.66 L413.26,557.66 L414.77,557.67 L416.29,557.68 L417.80,557.69 L419.32,557.71 L420.83,557.74 L422.35,557.77 L423.86,557.80 L425.38,557.84 L426.89,557.88 L428.41,557.93 L429.92,557.98 L431.44,558.03 L432.95,558.09 L434.47,558.15 L435.98,558.22 L437.50,558.29 L439.01,558.36 L440.53,558.44 L442.04,558.52 L443.56,558.60 L445.07,558.69 L446.59,558.79 L448.10,558.88 L449.62,558.98 L451.13,559.08 L452.65,559.19 L454.16,559.30 L455.68,559.41 L457.19,559.53 L458.71,559.65 L460.22,559.77 L461.74,559.90 L463.25,560.03 L464.77,560.16 L466.28,560.30 L467.80,560.44 L469.31,560.58 L470.83,560.72 L472.34,560.87 L473.86,561.02 L475.37,561.17 L476.89,561.33 L478.40,561.48 L479.92,561.64 L481.43,561.81 L482.95,561.97 L484.46,562.14 L485.98,562.31 L487.49,562.48 L489.01,562.66 L490.52,562.84 L492.04,563.02 L493.55,563.20 L495.07,563.38 L496.58,563.57 L498.10,563.75 L499.61,563.94 L501.13,564.14 L502.64,564.33 L504.16,564.52 L505.67,564.72 L507.19,564.92 L508.70,565.12 L510.22,565.32 L511.73,565.53 L513.25,565.73 L514.76,565.94 L516.28,566.15 L517.79,566.36 L519.31,566.57 L520.82,566.78 L522.34,566.99 L523.85,567.21 L525.37,567.42 L526.88,567.64 L528.40,567.86 L529.91,568.08 L531.43,568.30 L532.94,568.52 L534.46,568.74 L535.97,568.97 L537.49,569.19 L539.00,569.41 L540.52,569.64 L542.03,569.86 L543.55,570.09 L545.06,570.32 L546.58,570.54 L548.09,570.77 L549.61,571.00 L551.12,571.23 L552.64,571.46 L554.15,571.69 L555.67,571.92 L557.18,572.15 L558.70,572.37" fill="none" stroke="rgb(0,80,110)" stroke-width="3.5" stroke-linejoin="round" stroke-linecap="butt" />
<path d="M105.70,768.53 L107.22,767.16 L108.73,765.73 L110.25,764.23 L111.76,762.64 L113.28,760.97 L114.79,759.21 L116.31,757.34 L117.82,755.35 L119.34,753.25 L120.85,751.02 L122.37,748.65 L123.88,746.14 L125.40,743.48 L126.91,740.65 L128.43,737.66 L129.94,734.49 L131.46,731.13 L132.97,727.58 L134.49,723.83 L136.00,719.88 L137.52,715.79 L139.03,711.58 L140.55,707.30 L142.06,702.99 L143.58,698.70 L145.09,694.45 L146.61,690.29 L148.12,686.25 L149.64,682.36 L151.15,678.63 L152.67,675.05 L154.18,671.59 L155.70,668.24 L157.21,664.99 L158.73,661.82 L160.24,658.71 L161.76,655.65 L163.27,652.62 L164.79,649.62 L166.30,646.65 L167.82,643.71 L169.33,640.81 L170.85,637.95 L172.36,635.13 L173.88,632.37 L175.39,629.66 L176.91,627.01 L178.42,624.43 L179.94,621.91 L181.45,619.46 L182.97,617.09 L184.48,614.80 L186.00,612.59 L187.51,610.47 L189.03,608.45 L190.54,606.52 L192.06,604.69 L193.57,602.96 L195.09,601.32 L196.60,599.77 L198.12,598.30 L199.63,596.92 L201.15,595.60 L202.66,594.36 L204.18,593.18 L205.69,592.06 L207.21,591.00 L208.72,589.98 L210.24,589.01 L211.75,588.09 L213.27,587.19 L214.78,586.33 L216.30,585.50 L217.81,584.69 L219.33,583.89 L220.84,583.11 L222.36,582.34 L223.87,581.58 L225.39,580.83 L226.90,580.10 L228.42,579.37 L229.93,578.66 L231.45,577.96 L232.96,577.27 L234.48,576.60 L235.99,575.93 L237.51,575.28 L239.02,574.64 L240.54,574.00 L242.05,573.38 L243.57,572.78 L245.08,572.18 L246.60,571.59 L248.11,571.01 L249.63,570.45 L251.14,569.89 L252.66,569.34 L254.17,568.81 L255.69,568.28 L257.21,567.77 L258.72,567.26 L260.24,566.77 L261.75,566.28 L263.27,565.81 L264.78,565.34 L266.30,564.88 L267.81,564.44 L269.33,564.00 L270.84,563.57 L272.36,563.15 L273.87,562.74 L275.39,562.34 L276.90,561.95 L278.42,561.57 L279.93,561.19 L281.45,560.83 L282.96,560.47 L284.48,560.12 L285.99,559.78 L287.51,559.45 L289.02,559.13 L290.54,558.81 L292.05,558.50 L293.57,558.20 L295.08,557.91 L296.60,557.63 L298.11,557.35 L299.63,557.08 L301.14,556.82 L302.66,556.57 L304.17,556.32 L305.69,556.08 L307.20,555.85 L308.72,555.62 L310.23,555.40 L311.75,555.19 L313.26,554.99 L314.78,554.79 L316.29,554.60 L317.81,554.41 L319.32,554.23 L320.84,554.06 L322.35,553.89 L323.87,553.73 L325.38,553.58 L326.90,553.43 L328.41,553.28 L329.93,553.15 L331.44,553.02 L332.96,552.89 L334.47,552.77 L335.99,552.65 L337.50,552.54 L339.02,552.44 L340.53,552.34 L342.05,552.25 L343.56,552.16 L345.08,552.07 L346.59,552.00 L348.11,551.92 L349.62,551.85 L351.14,551.79 L352.65,551.73 L354.17,551.68 L355.68,551.63 L357.20,551.58 L358.71,551.54 L360.23,551.51 L361.74,551.48 L363.26,551.45 L364.77,551.43 L366.29,551.41 L367.80,551.40 L369.32,551.39 L370.83,551.39 L372.35,551.39 L373.86,551.40 L375.38,551.40 L376.89,551.42 L378.41,551.43 L379.92,551.46 L381.44,551.48 L382.95,551.51 L384.47,551.54 L385.98,551.58 L387.50,551.62 L389.01,551.67 L390.53,551.71 L392.04,551.77 L393.56,551.82 L395.07,551.88 L396.59,551.94 L398.10,552.01 L399.62,552.08 L401.13,552.15 L402.65,552.23 L404.16,552.31 L405.68,552.39 L407.19,552.48 L408.71,552.57 L410.23,552.66 L411.74,552.76 L413.26,552.86 L414.77,552.96 L416.29,553.06 L417.80,553.17 L419.32,553.28 L420.83,553.39 L422.35,553.51 L423.86,553.63 L425.38,553.75 L426.89,553.87 L428.41,554.00 L429.92,554.13 L431.44,554.26 L432.95,554.40 L434.47,554.53 L435.98,554.67 L437.50,554.81 L439.01,554.95 L440.53,555.10 L442.04,555.25 L443.56,555.40 L445.07,555.55 L446.59,555.70 L448.10,555.86 L449.62,556.02 L451.13,556.18 L452.65,556.34 L454.16,556.50 L455.68,556.67 L457.19,556.83 L458.71,557.00 L460.22,557.17 L461.74,557.34 L463.25,557.51 L464.77,557.69 L466.28,557.86 L467.80,558.04 L469.31,558.22 L470.83,558.40 L472.34,558.58 L473.86,558.76 L475.37,558.94 L476.89,559.13 L478.40,559.31 L479.92,559.50 L481.43,559.69 L482.95,559.88 L484.46,560.06 L485.98,560.25 L487.49,560.45 L489.01,560.64 L490.52,560.83 L492.04,561.02 L493.55,561.21 L495.07,561.41 L496.58,561.60 L498.10,561.80 L499.61,561.99 L501.13,562.19 L502.64,562.38 L504.16,562.58 L505.67,562.77 L507.19,562.97 L508.70,563.17 L510.22,563.36 L511.73,563.56 L513.25,563.75 L514.76,563.95 L516.28,564.15 L517.79,564.34 L519.31,564.54 L520.82,564.73 L522.34,564.93 L523.85,565.12 L525.37,565.32 L526.88,565.51 L528.40,565.70 L529.91,565.90 L531.43,566.09 L532.94,566.28 L534.46,566.47 L535.97,566.66 L537.49,566.85 L539.00,567.04 L540.52,567.23 L542.03,567.42 L543.55,567.60 L545.06,567.79 L546.58,567.97 L548.09,568.15 L549.61,568.33 L551.12,568.51 L552.64,568.69 L554.15,568.87 L555.67,569.05 L557.18,569.22 L558.70,569.40" fill="none" stroke="rgb(5,40,190)" stroke-width="3.5" stroke-linejoin="round" stroke-linecap="butt" />
<path d="M105.70,696.12 L107.22,695.69 L108.73,695.00 L110.25,694.07 L111.76,692.92 L113.28,691.56 L114.79,689.99 L116.31,688.23 L117.82,686.30 L119.34,684.20 L120.85,681.95 L122.37,679.56 L123.88,677.04 L125.40,674.40 L126.91,671.66 L128.43,668.83 L129.94,665.92 L131.46,662.94 L132.97,659.91 L134.49,656.84 L136.00,653.73 L137.52,650.61 L139.03,647.46 L140.55,644.31 L142.06,641.16 L143.58,638.01 L145.09,634.88 L146.61,631.78 L148.12,628.70 L149.64,625.67 L151.15,622.68 L152.67,619.75 L154.18,616.87 L155.70,614.07 L157.21,611.35 L158.73,608.71 L160.24,606.17 L161.76,603.72 L163.27,601.39 L164.79,599.16 L166.30,597.04 L167.82,595.03 L169.33,593.11 L170.85,591.28 L172.36,589.54 L173.88,587.89 L175.39,586.32 L176.91,584.83 L178.42,583.40 L179.94,582.05 L181.45,580.76 L182.97,579.52 L184.48,578.35 L186.00,577.22 L187.51,576.14 L189.03,575.10 L190.54,574.10 L192.06,573.14 L193.57,572.20 L195.09,571.30 L196.60,570.43 L198.12,569.58 L199.63,568.77 L201.15,567.97 L202.66,567.21 L204.18,566.47 L205.69,565.75 L207.21,565.05 L208.72,564.38 L210.24,563.72 L211.75,563.09 L213.27,562.47 L214.78,561.86 L216.30,561.28 L217.81,560.70 L219.33,560.14 L220.84,559.59 L222.36,559.06 L223.87,558.53 L225.39,558.02 L226.90,557.52 L228.42,557.03 L229.93,556.55 L231.45,556.08 L232.96,555.62 L234.48,555.18 L235.99,554.74 L237.51,554.32 L239.02,553.90 L240.54,553.50 L242.05,553.10 L243.57,552.72 L245.08,552.35 L246.60,551.98 L248.11,551.63 L249.63,551.28 L251.14,550.95 L252.66,550.62 L254.17,550.31 L255.69,550.00 L257.21,549.70 L258.72,549.41 L260.24,549.13 L261.75,548.86 L263.27,548.60 L264.78,548.35 L266.30,548.10 L267.81,547.86 L269.33,547.63 L270.84,547.41 L272.36,547.19 L273.87,546.99 L275.39,546.79 L276.90,546.60 L278.42,546.41 L279.93,546.24 L281.45,546.07 L282.96,545.90 L284.48,545.75 L285.99,545.60 L287.51,545.46 L289.02,545.32 L290.54,545.19 L292.05,545.06 L293.57,544.95 L295.08,544.84 L296.60,544.73 L298.11,544.63 L299.63,544.53 L301.14,544.44 L302.66,544.36 L304.17,544.28 L305.69,544.21 L307.20,544.14 L308.72,544.08 L310.23,544.02 L311.75,543.96 L313.26,543.91 L314.78,543.87 L316.29,543.83 L317.81,543.79 L319.32,543.76 L320.84,543.73 L322.35,543.70 L323.87,543.68 L325.38,543.66 L326.90,543.65 L328.41,543.64 L329.93,543.63 L331.44,543.62 L332.96,543.62 L334.47,543.62 L335.99,543.62 L337.50,543.63 L339.02,543.64 L340.53,543.65 L342.05,543.66 L343.56,543.68 L345.08,543.70 L346.59,543.72 L348.11,543.75 L349.62,543.77 L351.14,543.80 L352.65,543.84 L354.17,543.87 L355.68,543.91 L357.20,543.95 L358.71,544.00 L360.23,544.04 L361.74,544.09 L363.26,544.14 L364.77,544.19 L366.29,544.25 L367.80,544.31 L369.32,544.37 L370.83,544.43 L372.35,544.50 L373.86,544.57 L375.38,544.64 L376.89,544.71 L378.41,544.79 L379.92,544.87 L381.44,544.95 L382.95,545.03 L384.47,545.12 L385.98,545.21 L387.50,545.30 L389.01,545.39 L390.53,545.49 L392.04,545.58 L393.56,545.68 L395.07,545.79 L396.59,545.89 L398.10,546.00 L399.62,546.11 L401.13,546.22 L402.65,546.33 L404.16,546.45 L405.68,546.57 L407.19,546.69 L408.71,546.81 L410.23,546.93 L411.74,547.06 L413.26,547.19 L414.77,547.32 L416.29,547.46 L417.80,547.59 L419.32,547.73 L420.83,547.87 L422.35,548.01 L423.86,548.15 L425.38,548.30 L426.89,548.45 L428.41,548.60 L429.92,548.75 L431.44,548.91 L432.95,549.06 L434.47,549.22 L435.98,549.38 L437.50,549.54 L439.01,549.71 L440.53,549.87 L442.04,550.04 L443.56,550.21 L445.07,550.38 L446.59,550.56 L448.10,550.73 L449.62,550.91 L451.13,551.09 L452.65,551.27 L454.16,551.46 L455.68,551.64 L457.19,551.83 L458.71,552.02 L460.22,552.21 L461.74,552.40 L463.25,552.60 L464.77,552.79 L466.28,552.99 L467.80,553.19 L469.31,553.39 L470.83,553.59 L472.34,553.80 L473.86,554.01 L475.37,554.21 L476.89,554.42 L478.40,554.64 L479.92,554.85 L481.43,555.06 L482.95,555.28 L484.46,555.50 L485.98,555.72 L487.49,555.94 L489.01,556.16 L490.52,556.39 L492.04,556.61 L493.55,556.84 L495.07,557.07 L496.58,557.30 L498.10,557.53 L499.61,557.76 L501.13,558.00 L502.64,558.24 L504.16,558.47 L505.67,558.71 L507.19,558.95 L508.70,559.20 L510.22,559.44 L511.73,559.69 L513.25,559.93 L514.76,560.18 L516.28,560.43 L517.79,560.68 L519.31,560.93 L520.82,561.19 L522.34,561.44 L523.85,561.70 L525.37,561.95 L526.88,562.21 L528.40,562.47 L529.91,562.73 L531.43,563.00 L532.94,563.26 L534.46,563.52 L535.97,563.79 L537.49,564.06 L539.00,564.33 L540.52,564.59 L542.03,564.87 L543.55,565.14 L545.06,565.41 L546.58,565.68 L548.09,565.96 L549.61,566.24 L551.12,566.51 L552.64,566.79 L554.15,567.07 L555.67,567.35 L557.18,567.63 L558.70,567.92" fill="none" stroke="rgb(0,0,255)" stroke-width="3.5" stroke-linejoin="round" stroke-linecap="butt" />
<path d="M105.70,620.04 L107.22,619.35 L108.73,618.56 L110.25,617.67 L111.76,616.69 L113.28,615.63 L114.79,614.50 L116.31,613.28 L117.82,612.00 L119.34,610.65 L120.85,609.25 L122.37,607.79 L123.88,606.28 L125.40,604.72 L126.91,603.13 L128.43,601.50 L129.94,599.85 L131.46,598.16 L132.97,596.46 L134.49,594.74 L136.00,593.02 L137.52,591.28 L139.03,589.54 L140.55,587.80 L142.06,586.07 L143.58,584.34 L145.09,582.62 L146.61,580.91 L148.12,579.22 L149.64,577.55 L151.15,575.91 L152.67,574.29 L154.18,572.70 L155.70,571.14 L157.21,569.62 L158.73,568.14 L160.24,566.70 L161.76,565.31 L163.27,563.97 L164.79,562.68 L166.30,561.44 L167.82,560.24 L169.33,559.10 L170.85,558.00 L172.36,556.95 L173.88,555.94 L175.39,554.97 L176.91,554.04 L178.42,553.16 L179.94,552.31 L181.45,551.50 L182.97,550.73 L184.48,549.99 L186.00,549.29 L187.51,548.62 L189.03,547.98 L190.54,547.37 L192.06,546.79 L193.57,546.24 L195.09,545.72 L196.60,545.22 L198.12,544.75 L199.63,544.30 L201.15,543.87 L202.66,543.47 L204.18,543.08 L205.69,542.72 L207.21,542.37 L208.72,542.04 L210.24,541.72 L211.75,541.41 L213.27,541.12 L214.78,540.85 L216.30,540.58 L217.81,540.32 L219.33,540.07 L220.84,539.82 L222.36,539.59 L223.87,539.35 L225.39,539.13 L226.90,538.91 L228.42,538.70 L229.93,538.50 L231.45,538.30 L232.96,538.11 L234.48,537.93 L235.99,537.75 L237.51,537.58 L239.02,537.41 L240.54,537.25 L242.05,537.10 L243.57,536.95 L245.08,536.81 L246.60,536.67 L248.11,536.54 L249.63,536.42 L251.14,536.30 L252.66,536.19 L254.17,536.08 L255.69,535.98 L257.21,535.88 L258.72,535.79 L260.24,535.70 L261.75,535.62 L263.27,535.55 L264.78,535.48 L266.30,535.41 L267.81,535.35 L269.33,535.30 L270.84,535.24 L272.36,535.20 L273.87,535.16 L275.39,535.12 L276.90,535.09 L278.42,535.06 L279.93,535.04 L281.45,535.02 L282.96,535.00 L284.48,534.99 L285.99,534.98 L287.51,534.98 L289.02,534.98 L290.54,534.99 L292.05,535.00 L293.57,535.01 L295.08,535.03 L296.60,535.05 L298.11,535.08 L299.63,535.10 L301.14,535.13 L302.66,535.17 L304.17,535.21 L305.69,535.25 L307.20,535.30 L308.72,535.34 L310.23,535.39 L311.75,535.45 L313.26,535.51 L314.78,535.57 L316.29,535.63 L317.81,535.70 L319.32,535.76 L320.84,535.84 L322.35,535.91 L323.87,535.99 L325.38,536.07 L326.90,536.15 L328.41,536.23 L329.93,536.32 L331.44,536.41 L332.96,536.50 L334.47,536.59 L335.99,536.68 L337.50,536.78 L339.02,536.88 L340.53,536.98 L342.05,537.08 L343.56,537.19 L345.08,537.29 L346.59,537.40 L348.11,537.51 L349.62,537.63 L351.14,537.74 L352.65,537.86 L354.17,537.98 L355.68,538.10 L357.20,538.22 L358.71,538.34 L360.23,538.47 L361.74,538.60 L363.26,538.73 L364.77,538.86 L366.29,538.99 L367.80,539.13 L369.32,539.27 L370.83,539.41 L372.35,539.55 L373.86,539.69 L375.38,539.83 L376.89,539.98 L378.41,540.13 L379.92,540.28 L381.44,540.43 L382.95,540.58 L384.47,540.74 L385.98,540.90 L387.50,541.05 L389.01,541.21 L390.53,541.38 L392.04,541.54 L393.56,541.70 L395.07,541.87 L396.59,542.04 L398.10,542.21 L399.62,542.38 L401.13,542.55 L402.65,542.73 L404.16,542.91 L405.68,543.08 L407.19,543.26 L408.71,543.44 L410.23,543.63 L411.74,543.81 L413.26,543.99 L414.77,544.18 L416.29,544.37 L417.80,544.56 L419.32,544.75 L420.83,544.94 L422.35,545.14 L423.86,545.33 L425.38,545.53 L426.89,545.73 L428.41,545.93 L429.92,546.13 L431.44,546.33 L432.95,546.53 L434.47,546.74 L435.98,546.95 L437.50,547.15 L439.01,547.36 L440.53,547.57 L442.04,547.78 L443.56,548.00 L445.07,548.21 L446.59,548.43 L448.10,548.64 L449.62,548.86 L451.13,549.08 L452.65,549.30 L454.16,549.52 L455.68,549.74 L457.19,549.97 L458.71,550.19 L460.22,550.42 L461.74,550.64 L463.25,550.87 L464.77,551.10 L466.28,551.33 L467.80,551.56 L469.31,551.79 L470.83,552.03 L472.34,552.26 L473.86,552.50 L475.37,552.73 L476.89,552.97 L478.40,553.21 L479.92,553.45 L481.43,553.69 L482.95,553.93 L484.46,554.17 L485.98,554.42 L487.49,554.66 L489.01,554.90 L490.52,555.15 L492.04,555.40 L493.55,555.64 L495.07,555.89 L496.58,556.14 L498.10,556.39 L499.61,556.64 L501.13,556.90 L502.64,557.15 L504.16,557.40 L505.67,557.66 L507.19,557.91 L508.70,558.17 L510.22,558.42 L511.73,558.68 L513.25,558.94 L514.76,559.20 L516.28,559.46 L517.79,559.72 L519.31,559.98 L520.82,560.24 L522.34,560.50 L523.85,560.76 L525.37,561.03 L526.88,561.29 L528.40,561.56 L529.91,561.82 L531.43,562.09 L532.94,562.35 L534.46,562.62 L535.97,562.89 L537.49,563.16 L539.00,563.42 L540.52,563.69 L542.03,563.96 L543.55,564.23 L545.06,564.50 L546.58,564.77 L548.09,565.05 L549.61,565.32 L551.12,565.59 L552.64,565.86 L554.15,566.14 L555.67,566.41 L557.18,566.68 L558.70,566.96" fill="none" stroke="rgb(20,0,220)" stroke-width="3.5" stroke-linejoin="round" stroke-linecap="butt" />
<path d="M105.70,556.24 L107.22,556.29 L108.73,556.25 L110.25,556.12 L111.76,555.93 L113.28,555.66 L114.79,555.33 L116.31,554.93 L117.82,554.48 L119.34,553.98 L120.85,553.43 L122.37,552.85 L123.88,552.22 L125.40,551.57 L126.91,550.89 L128.43,550.19 L129.94,549.47 L131.46,548.75 L132.97,548.01 L134.49,547.28 L136.00,546.55 L137.52,545.82 L139.03,545.10 L140.55,544.38 L142.06,543.67 L143.58,542.97 L145.09,542.28 L146.61,541.59 L148.12,540.92 L149.64,540.26 L151.15,539.61 L152.67,538.97 L154.18,538.35 L155.70,537.74 L157.21,537.15 L158.73,536.58 L160.24,536.02 L161.76,535.49 L163.27,534.97 L164.79,534.48 L166.30,534.00 L167.82,533.55 L169.33,533.11 L170.85,532.69 L172.36,532.29 L173.88,531.91 L175.39,531.54 L176.91,531.19 L178.42,530.86 L179.94,530.54 L181.45,530.24 L182.97,529.96 L184.48,529.68 L186.00,529.43 L187.51,529.18 L189.03,528.95 L190.54,528.74 L192.06,528.53 L193.57,528.34 L195.09,528.16 L196.60,527.99 L198.12,527.83 L199.63,527.68 L201.15,527.54 L202.66,527.41 L204.18,527.29 L205.69,527.18 L207.21,527.08 L208.72,526.98 L210.24,526.89 L211.75,526.81 L213.27,526.73 L214.78,526.67 L216.30,526.60 L217.81,526.54 L219.33,526.49 L220.84,526.44 L222.36,526.39 L223.87,526.35 L225.39,526.31 L226.90,526.28 L228.42,526.25 L229.93,526.22 L231.45,526.20 L232.96,526.19 L234.48,526.17 L235.99,526.16 L237.51,526.16 L239.02,526.15 L240.54,526.16 L242.05,526.16 L243.57,526.17 L245.08,526.18 L246.60,526.20 L248.11,526.22 L249.63,526.24 L251.14,526.27 L252.66,526.30 L254.17,526.33 L255.69,526.37 L257.21,526.41 L258.72,526.45 L260.24,526.50 L261.75,526.55 L263.27,526.60 L264.78,526.66 L266.30,526.72 L267.81,526.78 L269.33,526.84 L270.84,526.91 L272.36,526.98 L273.87,527.06 L275.39,527.13 L276.90,527.21 L278.42,527.29 L279.93,527.38 L281.45,527.46 L282.96,527.55 L284.48,527.65 L285.99,527.74 L287.51,527.84 L289.02,527.94 L290.54,528.04 L292.05,528.15 L293.57,528.25 L295.08,528.36 L296.60,528.47 L298.11,528.59 L299.63,528.70 L301.14,528.82 L302.66,528.94 L304.17,529.06 L305.69,529.19 L307.20,529.31 L308.72,529.44 L310.23,529.57 L311.75,529.70 L313.26,529.84 L314.78,529.97 L316.29,530.11 L317.81,530.25 L319.32,530.39 L320.84,530.53 L322.35,530.68 L323.87,530.82 L325.38,530.97 L326.90,531.12 L328.41,531.27 L329.93,531.42 L331.44,531.57 L332.96,531.72 L334.47,531.88 L335.99,532.03 L337.50,532.19 L339.02,532.35 L340.53,532.51 L342.05,532.67 L343.56,532.83 L345.08,533.00 L346.59,533.16 L348.11,533.33 L349.62,533.49 L351.14,533.66 L352.65,533.83 L354.17,534.00 L355.68,534.17 L357.20,534.35 L358.71,534.52 L360.23,534.70 L361.74,534.87 L363.26,535.05 L364.77,535.23 L366.29,535.41 L367.80,535.59 L369.32,535.77 L370.83,535.96 L372.35,536.14 L373.86,536.33 L375.38,536.51 L376.89,536.70 L378.41,536.89 L379.92,537.08 L381.44,537.27 L382.95,537.46 L384.47,537.66 L385.98,537.85 L387.50,538.05 L389.01,538.24 L390.53,538.44 L392.04,538.64 L393.56,538.84 L395.07,539.04 L396.59,539.24 L398.10,539.45 L399.62,539.65 L401.13,539.86 L402.65,540.06 L404.16,540.27 L405.68,540.48 L407.19,540.69 L408.71,540.90 L410.23,541.11 L411.74,541.32 L413.26,541.54 L414.77,541.75 L416.29,541.97 L417.80,542.18 L419.32,542.40 L420.83,542.62 L422.35,542.84 L423.86,543.06 L425.38,543.28 L426.89,543.50 L428.41,543.72 L429.92,543.95 L431.44,544.17 L432.95,544.40 L434.47,544.63 L435.98,544.85 L437.50,545.08 L439.01,545.31 L440.53,545.54 L442.04,545.78 L443.56,546.01 L445.07,546.24 L446.59,546.48 L448.10,546.71 L449.62,546.95 L451.13,547.18 L452.65,547.42 L454.16,547.66 L455.68,547.90 L457.19,548.14 L458.71,548.38 L460.22,548.62 L461.74,548.87 L463.25,549.11 L464.77,549.36 L466.28,549.60 L467.80,549.85 L469.31,550.09 L470.83,550.34 L472.34,550.59 L473.86,550.84 L475.37,551.09 L476.89,551.34 L478.40,551.60 L479.92,551.85 L481.43,552.10 L482.95,552.36 L484.46,552.61 L485.98,552.87 L487.49,553.12 L489.01,553.38 L490.52,553.64 L492.04,553.90 L493.55,554.16 L495.07,554.42 L496.58,554.68 L498.10,554.94 L499.61,555.21 L501.13,555.47 L502.64,555.73 L504.16,556.00 L505.67,556.26 L507.19,556.53 L508.70,556.80 L510.22,557.06 L511.73,557.33 L513.25,557.60 L514.76,557.87 L516.28,558.14 L517.79,558.41 L519.31,558.69 L520.82,558.96 L522.34,559.23 L523.85,559.50 L525.37,559.78 L526.88,560.05 L528.40,560.33 L529.91,560.61 L531.43,560.88 L532.94,561.16 L534.46,561.44 L535.97,561.72 L537.49,562.00 L539.00,562.28 L540.52,562.56 L542.03,562.84 L543.55,563.12 L545.06,563.40 L546.58,563.69 L548.09,563.97 L549.61,564.25 L551.12,564.54 L552.64,564.82 L554.15,565.11 L555.67,565.40 L557.18,565.68 L558.70,565.97" fill="none" stroke="rgb(45,0,175)" stroke-width="3.5" stroke-linejoin="round" stroke-linecap="butt" />
<path d="M105.70,522.39 L107.22,522.35 L108.73,522.30 L110.25,522.25 L111.76,522.19 L113.28,522.13 L114.79,522.06 L116.31,521.98 L117.82,521.90 L119.34,521.82 L120.85,521.73 L122.37,521.63 L123.88,521.53 L125.40,521.43 L126.91,521.32 L128.43,521.21 L129.94,521.10 L131.46,520.98 L132.97,520.87 L134.49,520.75 L136.00,520.63 L137.52,520.50 L139.03,520.38 L140.55,520.26 L142.06,520.13 L143.58,520.01 L145.09,519.89 L146.61,519.77 L148.12,519.64 L149.64,519.52 L151.15,519.40 L152.67,519.29 L154.18,519.17 L155.70,519.06 L157.21,518.95 L158.73,518.85 L160.24,518.75 L161.76,518.65 L163.27,518.55 L164.79,518.46 L166.30,518.38 L167.82,518.30 L169.33,518.22 L170.85,518.15 L172.36,518.08 L173.88,518.02 L175.39,517.96 L176.91,517.90 L178.42,517.85 L179.94,517.80 L181.45,517.75 L182.97,517.71 L184.48,517.68 L186.00,517.64 L187.51,517.62 L189.03,517.59 L190.54,517.57 L192.06,517.55 L193.57,517.54 L195.09,517.52 L196.60,517.52 L198.12,517.51 L199.63,517.51 L201.15,517.52 L202.66,517.52 L204.18,517.53 L205.69,517.55 L207.21,517.56 L208.72,517.58 L210.24,517.60 L211.75,517.63 L213.27,517.66 L214.78,517.69 L216.30,517.73 L217.81,517.77 L219.33,517.81 L220.84,517.85 L222.36,517.90 L223.87,517.95 L225.39,518.00 L226.90,518.06 L228.42,518.12 L229.93,518.18 L231.45,518.24 L232.96,518.31 L234.48,518.38 L235.99,518.45 L237.51,518.53 L239.02,518.61 L240.54,518.69 L242.05,518.77 L243.57,518.85 L245.08,518.94 L246.60,519.03 L248.11,519.13 L249.63,519.22 L251.14,519.32 L252.66,519.42 L254.17,519.52 L255.69,519.63 L257.21,519.74 L258.72,519.85 L260.24,519.96 L261.75,520.08 L263.27,520.19 L264.78,520.31 L266.30,520.43 L267.81,520.56 L269.33,520.68 L270.84,520.81 L272.36,520.94 L273.87,521.07 L275.39,521.21 L276.90,521.34 L278.42,521.48 L279.93,521.62 L281.45,521.77 L282.96,521.91 L284.48,522.06 L285.99,522.20 L287.51,522.35 L289.02,522.51 L290.54,522.66 L292.05,522.82 L293.57,522.97 L295.08,523.13 L296.60,523.29 L298.11,523.46 L299.63,523.62 L301.14,523.79 L302.66,523.95 L304.17,524.12 L305.69,524.29 L307.20,524.46 L308.72,524.64 L310.23,524.81 L311.75,524.99 L313.26,525.17 L314.78,525.35 L316.29,525.53 L317.81,525.71 L319.32,525.90 L320.84,526.08 L322.35,526.27 L323.87,526.45 L325.38,526.64 L326.90,526.83 L328.41,527.03 L329.93,527.22 L331.44,527.41 L332.96,527.61 L334.47,527.80 L335.99,528.00 L337.50,528.20 L339.02,528.40 L340.53,528.60 L342.05,528.80 L343.56,529.00 L345.08,529.21 L346.59,529.41 L348.11,529.62 L349.62,529.82 L351.14,530.03 L352.65,530.24 L354.17,530.45 L355.68,530.66 L357.20,530.87 L358.71,531.09 L360.23,531.30 L361.74,531.51 L363.26,531.73 L364.77,531.95 L366.29,532.16 L367.80,532.38 L369.32,532.60 L370.83,532.82 L372.35,533.05 L373.86,533.27 L375.38,533.49 L376.89,533.72 L378.41,533.94 L379.92,534.17 L381.44,534.39 L382.95,534.62 L384.47,534.85 L385.98,535.08 L387.50,535.31 L389.01,535.54 L390.53,535.77 L392.04,536.01 L393.56,536.24 L395.07,536.47 L396.59,536.71 L398.10,536.95 L399.62,537.18 L401.13,537.42 L402.65,537.66 L404.16,537.90 L405.68,538.14 L407.19,538.38 L408.71,538.62 L410.23,538.86 L411.74,539.11 L413.26,539.35 L414.77,539.59 L416.29,539.84 L417.80,540.09 L419.32,540.33 L420.83,540.58 L422.35,540.83 L423.86,541.08 L425.38,541.33 L426.89,541.58 L428.41,541.83 L429.92,542.08 L431.44,542.33 L432.95,542.58 L434.47,542.83 L435.98,543.09 L437.50,543.34 L439.01,543.60 L440.53,543.85 L442.04,544.11 L443.56,544.37 L445.07,544.62 L446.59,544.88 L448.10,545.14 L449.62,545.40 L451.13,545.66 L452.65,545.92 L454.16,546.18 L455.68,546.44 L457.19,546.70 L458.71,546.96 L460.22,547.22 L461.74,547.49 L463.25,547.75 L464.77,548.01 L466.28,548.28 L467.80,548.54 L469.31,548.81 L470.83,549.07 L472.34,549.34 L473.86,549.61 L475.37,549.87 L476.89,550.14 L478.40,550.41 L479.92,550.67 L481.43,550.94 L482.95,551.21 L484.46,551.48 L485.98,551.75 L487.49,552.02 L489.01,552.29 L490.52,552.56 L492.04,552.83 L493.55,553.10 L495.07,553.37 L496.58,553.65 L498.10,553.92 L499.61,554.19 L501.13,554.46 L502.64,554.74 L504.16,555.01 L505.67,555.28 L507.19,555.56 L508.70,555.83 L510.22,556.11 L511.73,556.38 L513.25,556.65 L514.76,556.93 L516.28,557.20 L517.79,557.48 L519.31,557.75 L520.82,558.03 L522.34,558.31 L523.85,558.58 L525.37,558.86 L526.88,559.13 L528.40,559.41 L529.91,559.69 L531.43,559.96 L532.94,560.24 L534.46,560.52 L535.97,560.79 L537.49,561.07 L539.00,561.35 L540.52,561.63 L542.03,561.90 L543.55,562.18 L545.06,562.46 L546.58,562.74 L548.09,563.01 L549.61,563.29 L551.12,563.57 L552.64,563.85 L554.15,564.12 L555.67,564.40 L557.18,564.68 L558.70,564.96" fill="none" stroke="rgb(65,0,140)" stroke-width="3.5" stroke-linejoin="round" stroke-linecap="butt" />
<path d="M105.70,506.37 L107.22,506.41 L108.73,506.46 L110.25,506.51 L111.76,506.56 L113.28,506.61 L114.79,506.66 L116.31,506.71 L117.82,506.77 L119.34,506.82 L120.85,506.88 L122.37,506.94 L123.88,507.00 L125.40,507.06 L126.91,507.12 L128.43,507.18 L129.94,507.25 L131.46,507.31 L132.97,507.38 L134.49,507.45 L136.00,507.52 L137.52,507.59 L139.03,507.66 L140.55,507.73 L142.06,507.80 L143.58,507.88 L145.09,507.96 L146.61,508.03 L148.12,508.11 L149.64,508.19 L151.15,508.27 L152.67,508.35 L154.18,508.44 L155.70,508.52 L157.21,508.61 L158.73,508.69 L160.24,508.78 L161.76,508.87 L163.27,508.96 L164.79,509.05 L166.30,509.14 L167.82,509.24 L169.33,509.33 L170.85,509.43 L172.36,509.53 L173.88,509.62 L175.39,509.72 L176.91,509.82 L178.42,509.93 L179.94,510.03 L181.45,510.13 L182.97,510.24 L184.48,510.34 L186.00,510.45 L187.51,510.56 L189.03,510.67 L190.54,510.78 L192.06,510.89 L193.57,511.00 L195.09,511.12 L196.60,511.23 L198.12,511.35 L199.63,511.47 L201.15,511.58 L202.66,511.70 L204.18,511.82 L205.69,511.94 L207.21,512.07 L208.72,512.19 L210.24,512.32 L211.75,512.44 L213.27,512.57 L214.78,512.70 L216.30,512.83 L217.81,512.96 L219.33,513.09 L220.84,513.22 L222.36,513.35 L223.87,513.49 L225.39,513.62 L226.90,513.76 L228.42,513.89 L229.93,514.03 L231.45,514.17 L232.96,514.31 L234.48,514.45 L235.99,514.60 L237.51,514.74 L239.02,514.89 L240.54,515.03 L242.05,515.18 L243.57,515.33 L245.08,515.47 L246.60,515.62 L248.11,515.77 L249.63,515.93 L251.14,516.08 L252.66,516.23 L254.17,516.39 L255.69,516.54 L257.21,516.70 L258.72,516.86 L260.24,517.02 L261.75,517.18 L263.27,517.34 L264.78,517.50 L266.30,517.66 L267.81,517.82 L269.33,517.99 L270.84,518.15 L272.36,518.32 L273.87,518.49 L275.39,518.66 L276.90,518.83 L278.42,519.00 L279.93,519.17 L281.45,519.34 L282.96,519.51 L284.48,519.69 L285.99,519.86 L287.51,520.04 L289.02,520.21 L290.54,520.39 L292.05,520.57 L293.57,520.75 L295.08,520.93 L296.60,521.11 L298.11,521.29 L299.63,521.48 L301.14,521.66 L302.66,521.85 L304.17,522.03 L305.69,522.22 L307.20,522.41 L308.72,522.60 L310.23,522.79 L311.75,522.98 L313.26,523.17 L314.78,523.36 L316.29,523.55 L317.81,523.75 L319.32,523.94 L320.84,524.14 L322.35,524.34 L323.87,524.53 L325.38,524.73 L326.90,524.93 L328.41,525.13 L329.93,525.33 L331.44,525.53 L332.96,525.74 L334.47,525.94 L335.99,526.15 L337.50,526.35 L339.02,526.56 L340.53,526.76 L342.05,526.97 L343.56,527.18 L345.08,527.39 L346.59,527.60 L348.11,527.81 L349.62,528.02 L351.14,528.24 L352.65,528.45 L354.17,528.67 L355.68,528.88 L357.20,529.10 L358.71,529.31 L360.23,529.53 L361.74,529.75 L363.26,529.97 L364.77,530.19 L366.29,530.41 L367.80,530.63 L369.32,530.86 L370.83,531.08 L372.35,531.30 L373.86,531.53 L375.38,531.75 L376.89,531.98 L378.41,532.21 L379.92,532.44 L381.44,532.66 L382.95,532.89 L384.47,533.12 L385.98,533.36 L387.50,533.59 L389.01,533.82 L390.53,534.05 L392.04,534.29 L393.56,534.52 L395.07,534.76 L396.59,535.00 L398.10,535.23 L399.62,535.47 L401.13,535.71 L402.65,535.95 L404.16,536.19 L405.68,536.43 L407.19,536.67 L408.71,536.91 L410.23,537.16 L411.74,537.40 L413.26,537.64 L414.77,537.89 L416.29,538.14 L417.80,538.38 L419.32,538.63 L420.83,538.88 L422.35,539.13 L423.86,539.38 L425.38,539.63 L426.89,539.88 L428.41,540.13 L429.92,540.38 L431.44,540.63 L432.95,540.89 L434.47,541.14 L435.98,541.40 L437.50,541.65 L439.01,541.91 L440.53,542.16 L442.04,542.42 L443.56,542.68 L445.07,542.94 L446.59,543.20 L448.10,543.46 L449.62,543.72 L451.13,543.98 L452.65,544.24 L454.16,544.51 L455.68,544.77 L457.19,545.03 L458.71,545.30 L460.22,545.56 L461.74,545.83 L463.25,546.10 L464.77,546.36 L466.28,546.63 L467.80,546.90 L469.31,547.17 L470.83,547.44 L472.34,547.71 L473.86,547.98 L475.37,548.25 L476.89,548.52 L478.40,548.80 L479.92,549.07 L481.43,549.34 L482.95,549.62 L484.46,549.89 L485.98,550.17 L487.49,550.45 L489.01,550.72 L490.52,551.00 L492.04,551.28 L493.55,551.56 L495.07,551.84 L496.58,552.11 L498.10,552.40 L499.61,552.68 L501.13,552.96 L502.64,553.24 L504.16,553.52 L505.67,553.81 L507.19,554.09 L508.70,554.37 L510.22,554.66 L511.73,554.94 L513.25,555.23 L514.76,555.52 L516.28,555.80 L517.79,556.09 L519.31,556.38 L520.82,556.67 L522.34,556.96 L523.85,557.25 L525.37,557.54 L526.88,557.83 L528.40,558.12 L529.91,558.41 L531.43,558.70 L532.94,558.99 L534.46,559.29 L535.97,559.58 L537.49,559.87 L539.00,560.17 L540.52,560.46 L542.03,560.76 L543.55,561.06 L545.06,561.35 L546.58,561.65 L548.09,561.95 L549.61,562.24 L551.12,562.54 L552.64,562.84 L554.15,563.14 L555.67,563.44 L557.18,563.74 L558.70,564.04" fill="none" stroke="rgb(70,0,135)" stroke-width="3.5" stroke-linejoin="round" stroke-linecap="butt" />
<path d="M105.70,498.39 L107.22,498.55 L108.73,498.70 L110.25,498.86 L111.76,499.02 L113.28,499.18 L114.79,499.34 L116.31,499.49 L117.82,499.65 L119.34,499.81 L120.85,499.97 L122.37,500.13 L123.88,500.29 L125.40,500.45 L126.91,500.60 L128.43,500.76 L129.94,500.92 L131.46,501.08 L132.97,501.24 L134.49,501.40 L136.00,501.56 L137.52,501.72 L139.03,501.88 L140.55,502.04 L142.06,502.20 L143.58,502.36 L145.09,502.52 L146.61,502.68 L148.12,502.84 L149.64,503.00 L151.15,503.16 L152.67,503.32 L154.18,503.48 L155.70,503.64 L157.21,503.80 L158.73,503.97 L160.24,504.13 L161.76,504.29 L163.27,504.45 L164.79,504.61 L166.30,504.78 L167.82,504.94 L169.33,505.10 L170.85,505.26 L172.36,505.43 L173.88,505.59 L175.39,505.75 L176.91,505.92 L178.42,506.08 L179.94,506.25 L181.45,506.41 L182.97,506.57 L184.48,506.74 L186.00,506.90 L187.51,507.07 L189.03,507.24 L190.54,507.40 L192.06,507.57 L193.57,507.73 L195.09,507.90 L196.60,508.07 L198.12,508.23 L199.63,508.40 L201.15,508.57 L202.66,508.74 L204.18,508.90 L205.69,509.07 L207.21,509.24 L208.72,509.41 L210.24,509.58 L211.75,509.75 L213.27,509.92 L214.78,510.09 L216.30,510.26 L217.81,510.43 L219.33,510.60 L220.84,510.77 L222.36,510.94 L223.87,511.12 L225.39,511.29 L226.90,511.46 L228.42,511.63 L229.93,511.81 L231.45,511.98 L232.96,512.15 L234.48,512.33 L235.99,512.50 L237.51,512.68 L239.02,512.85 L240.54,513.03 L242.05,513.20 L243.57,513.38 L245.08,513.56 L246.60,513.73 L248.11,513.91 L249.63,514.09 L251.14,514.27 L252.66,514.45 L254.17,514.62 L255.69,514.80 L257.21,514.98 L258.72,515.16 L260.24,515.34 L261.75,515.52 L263.27,515.71 L264.78,515.89 L266.30,516.07 L267.81,516.25 L269.33,516.44 L270.84,516.62 L272.36,516.80 L273.87,516.99 L275.39,517.17 L276.90,517.36 L278.42,517.54 L279.93,517.73 L281.45,517.91 L282.96,518.10 L284.48,518.29 L285.99,518.48 L287.51,518.66 L289.02,518.85 L290.54,519.04 L292.05,519.23 L293.57,519.42 L295.08,519.61 L296.60,519.80 L298.11,519.99 L299.63,520.19 L301.14,520.38 L302.66,520.57 L304.17,520.77 L305.69,520.96 L307.20,521.15 L308.72,521.35 L310.23,521.54 L311.75,521.74 L313.26,521.94 L314.78,522.13 L316.29,522.33 L317.81,522.53 L319.32,522.73 L320.84,522.93 L322.35,523.13 L323.87,523.33 L325.38,523.53 L326.90,523.73 L328.41,523.93 L329.93,524.13 L331.44,524.34 L332.96,524.54 L334.47,524.74 L335.99,524.95 L337.50,525.15 L339.02,525.36 L340.53,525.57 L342.05,525.77 L343.56,525.98 L345.08,526.19 L346.59,526.40 L348.11,526.61 L349.62,526.82 L351.14,527.03 L352.65,527.24 L354.17,527.45 L355.68,527.66 L357.20,527.88 L358.71,528.09 L360.23,528.30 L361.74,528.52 L363.26,528.74 L364.77,528.95 L366.29,529.17 L367.80,529.39 L369.32,529.60 L370.83,529.82 L372.35,530.04 L373.86,530.26 L375.38,530.48 L376.89,530.70 L378.41,530.93 L379.92,531.15 L381.44,531.37 L382.95,531.60 L384.47,531.82 L385.98,532.05 L387.50,532.27 L389.01,532.50 L390.53,532.73 L392.04,532.95 L393.56,533.18 L395.07,533.41 L396.59,533.64 L398.10,533.87 L399.62,534.11 L401.13,534.34 L402.65,534.57 L404.16,534.81 L405.68,535.04 L407.19,535.28 L408.71,535.51 L410.23,535.75 L411.74,535.99 L413.26,536.22 L414.77,536.46 L416.29,536.70 L417.80,536.94 L419.32,537.18 L420.83,537.43 L422.35,537.67 L423.86,537.91 L425.38,538.16 L426.89,538.40 L428.41,538.65 L429.92,538.90 L431.44,539.14 L432.95,539.39 L434.47,539.64 L435.98,539.89 L437.50,540.14 L439.01,540.39 L440.53,540.64 L442.04,540.90 L443.56,541.15 L445.07,541.41 L446.59,541.66 L448.10,541.92 L449.62,542.18 L451.13,542.43 L452.65,542.69 L454.16,542.95 L455.68,543.21 L457.19,543.47 L458.71,543.74 L460.22,544.00 L461.74,544.26 L463.25,544.53 L464.77,544.79 L466.28,545.06 L467.80,545.33 L469.31,545.60 L470.83,545.87 L472.34,546.14 L473.86,546.41 L475.37,546.68 L476.89,546.95 L478.40,547.22 L479.92,547.50 L481.43,547.77 L482.95,548.05 L484.46,548.33 L485.98,548.61 L487.49,548.88 L489.01,549.16 L490.52,549.45 L492.04,549.73 L493.55,550.01 L495.07,550.29 L496.58,550.58 L498.10,550.86 L499.61,551.15 L501.13,551.44 L502.64,551.73 L504.16,552.02 L505.67,552.31 L507.19,552.60 L508.70,552.89 L510.22,553.18 L511.73,553.48 L513.25,553.77 L514.76,554.07 L516.28,554.36 L517.79,554.66 L519.31,554.96 L520.82,555.26 L522.34,555.56 L523.85,555.86 L525.37,556.17 L526.88,556.47 L528.40,556.78 L529.91,557.08 L531.43,557.39 L532.94,557.70 L534.46,558.01 L535.97,558.32 L537.49,558.63 L539.00,558.94 L540.52,559.25 L542.03,559.57 L543.55,559.88 L545.06,560.20 L546.58,560.52 L548.09,560.83 L549.61,561.15 L551.12,561.47 L552.64,561.80 L554.15,562.12 L555.67,562.44 L557.18,562.77 L558.70,563.09" fill="none" stroke="rgb(75,0,130)" stroke-width="3.5" stroke-linejoin="round" stroke-linecap="butt" />
</g>
<rect x="85.00" y="473.80" width="494.20" height="358.00" fill="none" stroke="#000" stroke-width="2.0"/>
<line x1="77.70" y1="814.70" x2="85.00" y2="814.70" stroke="#000" stroke-width="2.0" />
<text x="70.00" y="824.10" font-size="26" text-anchor="end" >0</text>
<line x1="77.70" y1="743.95" x2="85.00" y2="743.95" stroke="#000" stroke-width="2.0" />
<text x="70.00" y="753.35" font-size="26" text-anchor="end" >2</text>
<line x1="77.70" y1="673.20" x2="85.00" y2="673.20" stroke="#000" stroke-width="2.0" />
<text x="70.00" y="682.60" font-size="26" text-anchor="end" >4</text>
<line x1="77.70" y1="602.45" x2="85.00" y2="602.45" stroke="#000" stroke-width="2.0" />
<text x="70.00" y="611.85" font-size="26" text-anchor="end" >6</text>
<line x1="77.70" y1="531.70" x2="85.00" y2="531.70" stroke="#000" stroke-width="2.0" />
<text x="70.00" y="541.10" font-size="26" text-anchor="end" >8</text>
<line x1="149.20" y1="831.80" x2="149.20" y2="839.10" stroke="#000" stroke-width="2.0" />
<text x="149.20" y="863.50" font-size="26" text-anchor="middle" >0.25</text>
<line x1="219.80" y1="831.80" x2="219.80" y2="839.10" stroke="#000" stroke-width="2.0" />
<text x="219.80" y="863.50" font-size="26" text-anchor="middle" >0.5</text>
<line x1="290.40" y1="831.80" x2="290.40" y2="839.10" stroke="#000" stroke-width="2.0" />
<text x="290.40" y="863.50" font-size="26" text-anchor="middle" >0.75</text>
<line x1="361.00" y1="831.80" x2="361.00" y2="839.10" stroke="#000" stroke-width="2.0" />
<text x="361.00" y="863.50" font-size="26" text-anchor="middle" >1.00</text>
<line x1="431.60" y1="831.80" x2="431.60" y2="839.10" stroke="#000" stroke-width="2.0" />
<text x="431.60" y="863.50" font-size="26" text-anchor="middle" >1.25</text>
<line x1="502.20" y1="831.80" x2="502.20" y2="839.10" stroke="#000" stroke-width="2.0" />
<text x="502.20" y="863.50" font-size="26" text-anchor="middle" >1.50</text>
<line x1="572.80" y1="831.80" x2="572.80" y2="839.10" stroke="#000" stroke-width="2.0" />
<text x="572.80" y="863.50" font-size="26" text-anchor="middle" >1.75</text>
<text x="330.50" y="893.00" font-size="26" text-anchor="middle" >T [K]</text>
<text x="0" y="0" font-size="26" transform="translate(38.10,712.30) rotate(-90)" >R</text>
<text x="0" y="0" font-size="26" transform="translate(38.10,683.00) rotate(-90)" >[kΩ/</text>
<rect x="26.30" y="625.50" width="10.65" height="10.65" fill="none" stroke="#333" stroke-width="1.3"/>
<text x="0" y="0" font-size="26" transform="translate(38.10,622.90) rotate(-90)" >]</text>
<text x="-0.80" y="453.30" font-size="32.5" font-weight="bold" >(c)</text>
<text x="575.10" y="500.20" font-size="26" text-anchor="end" >Sample <tspan font-weight="bold">B</tspan></text>
<text x="368.00" y="520.60" font-size="26" fill="#4b0082" >750 mT</text>
<text x="494.20" y="784.60" font-size="26" fill="#e6141e" >0 T</text>
<rect x="701.00" y="478.50" width="497.20" height="349.70" fill="none" stroke="#262626" stroke-width="2.0"/>
<line x1="693.70" y1="795.75" x2="701.00" y2="795.75" stroke="#262626" stroke-width="2.0" />
<text x="687.00" y="805.15" font-size="26" text-anchor="end" >0</text>
<line x1="693.70" y1="720.36" x2="701.00" y2="720.36" stroke="#262626" stroke-width="2.0" />
<text x="687.00" y="729.76" font-size="26" text-anchor="end" >100</text>
<line x1="693.70" y1="644.97" x2="701.00" y2="644.97" stroke="#262626" stroke-width="2.0" />
<text x="687.00" y="654.37" font-size="26" text-anchor="end" >200</text>
<line x1="693.70" y1="569.58" x2="701.00" y2="569.58" stroke="#262626" stroke-width="2.0" />
<text x="687.00" y="578.98" font-size="26" text-anchor="end" >300</text>
<line x1="693.70" y1="494.19" x2="701.00" y2="494.19" stroke="#262626" stroke-width="2.0" />
<text x="687.00" y="503.59" font-size="26" text-anchor="end" >400</text>
<line x1="714.80" y1="828.20" x2="714.80" y2="835.50" stroke="#262626" stroke-width="2.0" />
<text x="714.80" y="864.00" font-size="26" text-anchor="middle" >0.2</text>
<line x1="830.30" y1="828.20" x2="830.30" y2="835.50" stroke="#262626" stroke-width="2.0" />
<text x="830.30" y="864.00" font-size="26" text-anchor="middle" >0.4</text>
<line x1="945.80" y1="828.20" x2="945.80" y2="835.50" stroke="#262626" stroke-width="2.0" />
<text x="945.80" y="864.00" font-size="26" text-anchor="middle" >0.6</text>
<line x1="1061.30" y1="828.20" x2="1061.30" y2="835.50" stroke="#262626" stroke-width="2.0" />
<text x="1061.30" y="864.00" font-size="26" text-anchor="middle" >0.8</text>
<line x1="1176.80" y1="828.20" x2="1176.80" y2="835.50" stroke="#262626" stroke-width="2.0" />
<text x="1176.80" y="864.00" font-size="26" text-anchor="middle" >1.0</text>
<circle cx="723.60" cy="494.20" r="7.6" fill="#1f77b4"/>
<circle cx="756.50" cy="531.90" r="7.6" fill="#1f77b4"/>
<circle cx="792.40" cy="569.80" r="7.6" fill="#1f77b4"/>
<circle cx="836.50" cy="607.30" r="7.6" fill="#1f77b4"/>
<circle cx="889.00" cy="644.95" r="7.6" fill="#1f77b4"/>
<circle cx="911.50" cy="660.00" r="7.6" fill="#1f77b4"/>
<circle cx="938.40" cy="675.30" r="7.6" fill="#1f77b4"/>
<circle cx="966.80" cy="690.50" r="7.6" fill="#1f77b4"/>
<circle cx="996.10" cy="705.60" r="7.6" fill="#1f77b4"/>
<circle cx="1026.20" cy="720.30" r="7.6" fill="#1f77b4"/>
<circle cx="1056.30" cy="735.70" r="7.6" fill="#1f77b4"/>
<circle cx="1084.20" cy="750.60" r="7.6" fill="#1f77b4"/>
<circle cx="1113.40" cy="765.50" r="7.6" fill="#1f77b4"/>
<circle cx="1140.00" cy="780.70" r="7.6" fill="#1f77b4"/>
<circle cx="1175.80" cy="796.00" r="7.6" fill="#1f77b4"/>
<line x1="722.60" y1="523.90" x2="1176.60" y2="813.00" stroke="#ff7f0e" stroke-width="3.5" />
<text x="1073.00" y="504.20" font-size="26" >Sample <tspan font-weight="bold">B</tspan></text>
<text x="921.20" y="892.90" font-size="26" >T /T</text>
<text x="967.00" y="902.80" font-size="16" >c</text>
<g transform="translate(617.2,707.0) rotate(-90)"><text x="0" y="0" font-size="26">μ</text><text x="12.8" y="9.7" font-size="16">0</text><text x="22.1" y="0" font-size="26">H</text><text x="41.4" y="9.7" font-size="16">c</text><text x="56.0" y="0" font-size="26">[mT]</text></g>
<text x="640.90" y="453.30" font-size="32.5" font-weight="bold" >(d)</text>
</svg>
</body></html>
